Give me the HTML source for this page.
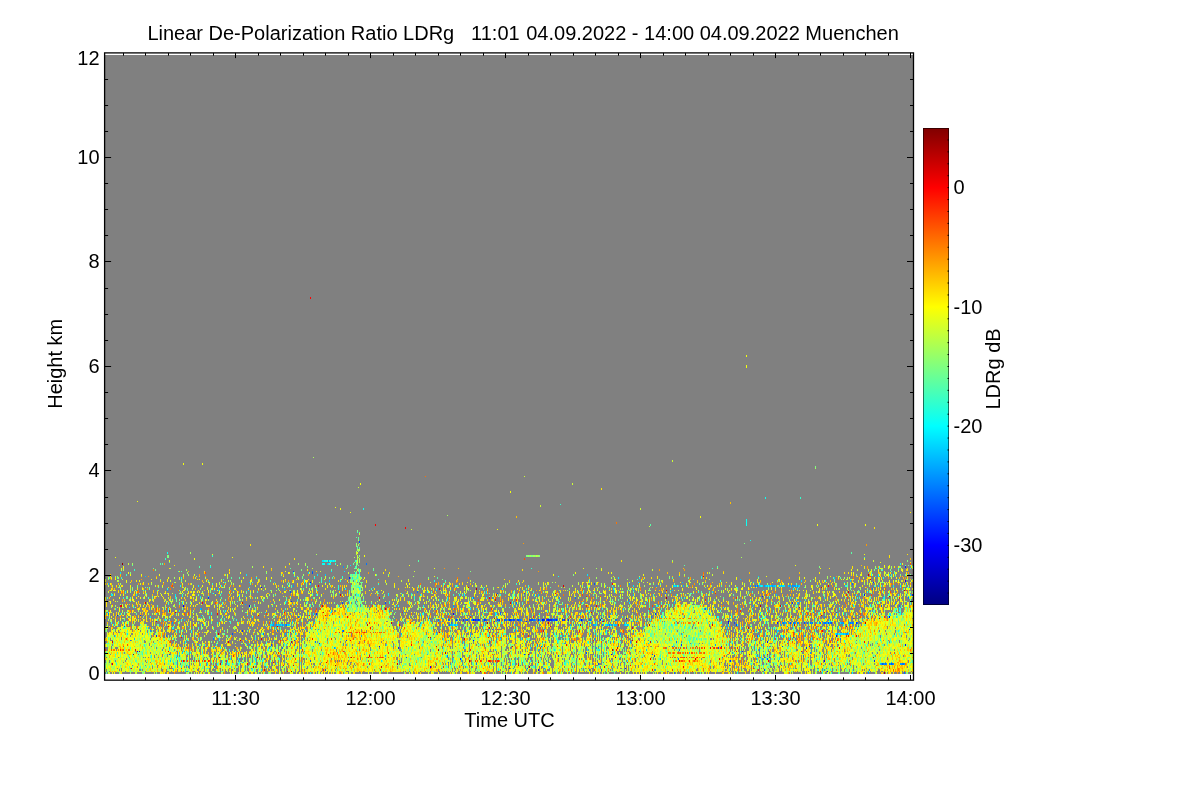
<!DOCTYPE html>
<html><head><meta charset="utf-8"><title>LDRg</title>
<style>
html,body{margin:0;padding:0;background:#fff;}
svg{display:block;will-change:transform;font-family:"Liberation Sans",sans-serif;font-size:20px;fill:#000;}
</style></head>
<body>
<svg width="1200" height="800" viewBox="0 0 1200 800">
<defs><linearGradient id="jet" x1="0" y1="1" x2="0" y2="0"><stop offset="0" stop-color="#000080"/><stop offset="0.125" stop-color="#0000ff"/><stop offset="0.375" stop-color="#00ffff"/><stop offset="0.625" stop-color="#ffff00"/><stop offset="0.875" stop-color="#ff0000"/><stop offset="1.0" stop-color="#800000"/></linearGradient></defs>
<rect x="0" y="0" width="1200" height="800" fill="#fff"/>
<rect x="105" y="55" width="808" height="619" fill="#808080"/>
<g id="data" shape-rendering="crispEdges" stroke-width="1" fill="none" transform="translate(0.5,0)">
<path stroke="#0000ff" d="M137 651v1m46-47v2m66-2v2m12-20v1m49-6v1m69 63v1m51 19v2m23-55v2m20 4v2m0 19v1m65 28v2m4-52v2m6-2v2m33-2v2m19-2v2m11 33v1m4 2v1m11-40v1m102 2v1m39 19v2m57 17v2m3 9v1m9-37v2m28-43v2m25 20v2m16-38v2m0 62v2"/>
<path stroke="#0026ff" d="M117 615v1m23-1v1m16 19v2m52-40v2m33 55v1m1-25v2m49-31v1m3 38v1m22-28v2m3 28v1m27-4v1m3-64v2m49 68v2m62 9v2m3-41v2m12-2v2m3-2v2m6-2v2m15-2v2m10-2v2m1-2v2m14 33v1m2-34v1m12-3v2m5-2v2m1-2v2m3-2v2m2-2v2m1-2v2m1-2v2m5-2v2m6-2v2m2-2v2m4-2v2m33-3v1m24 49v1m29-14v2m1-44v2m26 29v2m40 0v1m7-25v2m2 36v2m12-11v1m20-56v1m2 72v2m13-49v2m5 22v1m10-45v2m14 43v2m3-3v1m47-25v2m17-42v1m1 77v2m31-96v2m7 26v2"/>
<path stroke="#004dff" d="M124 626v1m45 27v1m63-22v2m39 9v2m19-55v2m3-22v1m17 88v2m2-90v2m13 95v2m17-69v2m1 26v2m16-91v2m26 59v2m21 53v1m42-39v2m8-2v2m3-2v2m8-2v2m7-2v2m2-2v2m1-2v2m2-2v2m6-2v2m12-28v1m0 25v2m3-9v1m4 6v2m5 47v1m2-50v2m2-2v2m1-2v2m3-2v2m1-2v2m6-28v1m3 74v1m2-50v2m1-2v2m1-2v2m1-2v2m9 25v1m5-28v2m6-2v2m1-2v2m1-2v2m1-2v2m3 34v2m28-5v2m8-71v2m4 78v2m3 4v2m1-50v1m50 32v1m66-8v2m11 16v1m5-44v2m2 0v2m28 31v1m3 0v2m2-3v1m21-36v2m3 13v1m11-16v2m24-2v2m3-2v2m5-12v1m17 5v1m5 7v1m23-22v2m1 56v2m9-2v2m18-36v1"/>
<path stroke="#0073ff" d="M108 613v2m22 25v1m36-6v2m47 1v2m1 26v2m1-75v1m23 2v1m25 36v2m14-5v2m5 15v2m4-25v2m12-10v2m14-47v1m3 69v2m51-80v2m51 26v2m21 26v2m9 34v2m1 5v1m1-44v2m0 3v2m2-4v2m4-5v2m2-2v2m8-2v2m1-2v2m6-2v2m1-24v2m1 38v1m2 25v2m8-55v2m2 7v2m3 20v2m3-14v1m6-11v2m2-8v2m5 4v2m1-2v2m2-2v2m2 14v2m2-18v2m4-19v2m3 15v2m1-2v2m13-2v2m1-2v2m3 23v2m12-9v1m8-19v2m6-2v2m12-24v2m7 20v2m7-2v2m0 48v2m1-52v2m9-2v2m2 8v1m8-14v2m0 6v2m6-7v2m1-2v2m12-22v2m23 15v2m14-25v1m7 52v1m2 25v2m2-33v2m2 15v2m1-11v2m26-43v2m17 47v1m33-73v2m2-2v2m0 48v2m26-15v2m10-2v2m1-2v2m3-2v2m6 31v2m4-35v2m3-2v2m2-2v2m1-12v1m7 9v2m4-2v2m1-2v2m3 20v2m2-24v2m10 14v2m10-18v2m2-41v2m0 37v2m5-2v2m11-6v1m4-31v2m11 73v2m2-2v2m4-2v2m3-2v2m7-60v2m3 56v2m1-2v2m1 7v2m4-77v2"/>
<path stroke="#0099ff" d="M150 630v2m12 17v2m5-61v1m5 31v2m1 5v1m3 27v1m12 8v2m13-60v2m0 5v1m1 8v2m17-30v1m4 19v2m11 33v1m0 16v1m11-65v1m28 19v2m3-2v2m6-2v2m3-2v2m8-41v2m0 45v1m16-1v1m19-73v2m1 53v1m5 31v2m8-19v2m1-66v2m18 67v2m67-19v1m6-11v2m2 22v1m17-28v2m15 11v1m3 0v2m11-17v1m1 14v2m3-25v1m6 0v2m16 39v2m5 28v1m2-32v1m6-19v2m14-2v2m4-2v2m2-2v2m3 47v1m15-72v2m2 33v1m4 10v1m14-25v2m1-2v2m3-9v1m6-1v1m2 6v2m2 3v2m1 12v2m2 7v2m6-25v2m8 11v1m1-14v2m9 7v2m9-52v2m1 56v2m3-13v2m3-11v1m8 4v1m9-20v1m2 61v2m1-86v2m53 26v2m6 29v2m6-20v1m38 22v2m1-32v2m4-36v2m4 53v1m4-56v2m10 35v2m2-2v2m5-39v2m3-2v2m1-2v2m1-2v2m1-2v2m0 35v2m2-39v2m1 15v2m0 18v2m4-6v1m8 33v2m1-32v2m8-2v2m4-17v1m0 14v2m1-8v2m2 4v2m11 9v2m4-13v2m1-2v2m1-2v2m3 9v2m1-2v2m2-13v2m2-2v2m2-2v2m15 48v2m1-5v2m12-8v2m3-2v2m2-2v2m4-2v2m3-2v2m2-63v2m5 59v2m1-2v2m3-2v2m1-33v1m1-50v2"/>
<path stroke="#00bfff" d="M108 583v2m0 33v1m12-6v2m14-8v1m0 30v2m2-50v1m9-15v1m3 50v2m16-10v2m5 26v2m1 11v2m3 7v2m9-19v2m2-35v2m16-13v2m0 8v1m12-26v1m6-6v3m6-9v1m3 77v2m6-72v1m16-9v1m6 69v2m7-3v1m7 2v1m3-31v2m1-4v2m1 16v1m4-17v2m1-2v2m0 25v1m1-28v2m3-2v2m1-38v2m1 43v2m1-34v1m2 22v2m4 0v1m13 2v1m3-58v2m5 30v1m12-31v2m2-13v2m2 15v2m2 30v1m15 31v2m32-56v1m7 64v2m16-24v2m2-23v1m24 41v1m9-65v1m3 8v2m3 17v1m3 22v2m3-30v2m2 9v2m1-2v2m1-2v2m2-2v2m1-2v2m2-2v2m4-18v2m0 50v2m9-29v4m6-29v2m19 39v2m2-25v1m17 3v2m2-28v1m1 25v2m17-38v2m3 50v1m1-53v2m0 53v2m17-55v1m15 27v2m10-13v2m14 9v2m1-2v2m12-2v2m1-2v2m5-39v1m0 53v2m1-19v2m1-2v2m1-2v2m3 7v2m5-11v2m3-2v2m6-36v1m0 3v2m10 31v2m3 20v2m2-8v1m11-26v1m1 39v2m1-44v2m4-2v2m5-28v1m2-1v1m1-6v2m1 15v2m2-19v2m3-11v1m3 5v1m1 2v2m6 65v2m4-47v1m39 35v1m4 22v2m4-89v1m10 5v2m3 18v2m3-22v2m2-11v1m1 8v2m1 25v1m3 45v2m2-75v2m2-2v2m2-2v2m2-2v2m2-2v2m1-2v2m2 7v2m2 34v2m1-47v2m1 37v2m1-41v2m4 35v2m3-39v2m1 35v2m1-39v2m3 81v1m4-67v2m1-19v2m2 14v1m4 33v2m8 10v2m13-2v2m2-27v2m2-2v2m5-47v2m2 54v2m7-2v2m2-2v2m5-55v2m9 14v1m9 74v1m10-87v2m2 76v2m10-50v1m1 46v1m17-67v1"/>
<path stroke="#00e5ff" d="M111 594v2m6 30v1m3-55v2m7 59v2m2-28v1m0 49v1m7-64v2m14 20v2m2 47v1m2-48v1m19 43v1m2-69v2m0 1v2m4 11v2m0 40v3m3 5v2m3 7v3m1-21v1m1-12v1m1-15v1m10-42v2m1 57v2m1-50v1m4 47v2m3 17v2m1-69v1m2-9v2m3 47v1m1-48v1m5 47v2m1-39v1m0 44v3m1-64v2m0 6v1m3 18v1m3 49v1m4 3v2m3-50v1m5 41v2m3 0v1m3-67v1m1-23v2m2 14v1m6 66v1m1 0v2m3-14v1m3 22v2m1-11v2m6-15v2m2-25v2m1-2v2m3-44v1m3 41v2m4-2v2m3 17v1m2 0v2m1-22v2m2-2v2m3-22v1m0 16v1m1 49v1m2-39v2m5 12v2m5-3v1m5-64v2m1 44v1m2-17v2m1 7v2m2-30v2m0 19v1m1-42v2m0 14v1m5-31v2m1-2v2m3 56v1m2-56v2m2-2v2m1 6v1m0 38v2m1-52v2m2-2v2m1 85v2m4-56v1m5-23v1m3 36v2m3-45v1m2 11v2m8-3v1m13 10v1m8 72v2m5-18v2m2-52v2m23-3v1m9 0v2m0 17v3m3-4v1m4-22v2m1 26v2m0 11v1m2-12v1m6 11v2m2-14v1m7 29v1m2-53v2m6 6v1m0 50v2m1 2v1m3-78v2m4 71v2m5-30v2m3-25v1m1 0v2m0 5v1m11-1v1m5-25v3m9 19v3m0 5v1m2-1v1m1 36v2m0 9v2m2-33v2m1-33v1m0 14v2m7 13v1m5-33v2m1 8v1m0 8v2m13-35v2m3 54v2m8-53v1m2 46v1m2 2v1m5-14v2m7 14v2m8-47v1m2 30v2m6-10v2m3 0v1m14-56v2m0 11v1m0 61v2m6 15v2m1-39v1m2-6v2m3 23v2m6-27v2m0 6v1m1-9v2m4-2v2m1-5v1m2-34v2m1 0v3m3 53v1m1-70v2m7 45v2m3-2v2m1-24v2m1 53v1m2-37v1m1-37v2m4 34v1m1-40v1m0 43v1m1-50v2m3 86v1m15-61v2m17-22v2m1-2v2m1 7v2m2-11v2m31 23v2m3-21v2m14 34v2m2-5v3m9-40v1m4 39v2m12-47v1m2 60v1m1 11v2m1 1v2m3-75v2m1 71v2m1-75v2m0 31v1m3-7v1m1-28v2m3 10v2m1-14v2m3 53v1m1-14v2m1-44v2m0 48v2m2-7v3m2 25v2m1-75v2m2-2v2m1-2v2m1-2v2m0 48v2m1-41v1m1 29v1m3 11v2m1-53v1m0 9v2m6-14v2m3-2v2m2-7v2m12 22v1m1 60v1m1-48v1m4-15v1m0 32v1m5-41v2m4 28v2m2-8v1m5-4v1m3 7v1m1 6v2m1-13v2m0 9v2m1-2v2m1-2v2m2-53v1m0 50v2m4-2v2m5-30v2m20 5v1m2-37v1m2 24v1m1-28v3m2 63v1m3-44v2m6-25v2m0 37v2m1-2v2m3-30v2m2-11v1m1 39v2m3-10v2m1-25v2m3 1v2m7 4v2"/>
<path stroke="#0dfff2" d="M108 612v1m4-19v2m1 28v2m2 9v2m8-10v2m2-38v2m19 51v2m2-53v1m0 33v2m5 26v2m3-14v1m3-54v1m8 28v2m2-69v2m0 34v2m1 14v1m0 3v4m1 37v2m4-24v2m0 39v1m3-14v2m0 5v1m2-6v1m2-73v2m1-10v2m0 87v2m1-72v1m0 5v2m0 31v2m1 12v3m2-11v2m2 22v1m1-12v1m0 16v1m3-40v1m9 30v3m2-15v3m5 11v1m0 2v1m1-57v1m2-47v2m1 45v2m3 32v2m2-14v2m0 7v2m0 25v1m1-68v1m0 17v2m0 39v2m5-61v1m0 57v1m3-53v2m2 51v2m2-44v1m0 27v2m1 7v2m8-2v2m0 3v2m1-71v2m0 66v1m7-23v1m1-26v1m2-29v1m0 55v1m0 2v1m1 16v2m2-49v2m0 50v3m1-16v2m2-19v2m0 20v2m0 1v2m1-88v2m2 89v1m5-70v2m0 57v2m2-48v1m0 52v1m3-17v2m7-24v2m4 29v2m6-58v2m3 29v2m4-13v2m2-48v1m0 69v1m1-10v3m9-60v3m5 33v2m5-41v2m8-16v2m1-2v2m1-5v2m0 1v2m1-5v2m0 20v1m1-23v2m3-2v2m1-2v2m0 50v1m1-53v2m2-2v2m5 26v2m0 15v2m4-31v1m3 11v2m4 12v2m6-32v2m1 19v1m0 7v1m1-26v1m1 10v1m0 6v2m1-9v3m4-82v2m4 111v1m14 49v1m7-79v1m7 11v2m3-2v2m3-14v1m7 27v1m6-25v2m6 25v2m1-4v2m1-11v2m1-10v3m11-28v2m9 30v1m0 11v2m0 12v2m1-28v1m2 42v2m0 8v1m1-69v2m3-9v1m0 36v2m1 37v2m2-44v2m0 12v2m1-25v1m1-31v2m1 37v2m3-32v2m4 45v2m1-50v3m0 51v2m1-36v2m3-8v1m1-6v2m2 64v1m1-72v2m5 52v1m5-19v2m1-47v2m0 36v1m1-5v2m4 11v2m1-8v1m1-9v1m5-10v1m1 0v2m1 23v2m4-5v2m1-49v2m10 7v2m0 3v2m0 59v2m2-71v2m2 33v1m5 8v2m6 22v1m1-76v1m2 72v2m4-66v1m3 57v3m0 6v3m2-53v2m0 7v2m6 44v1m8-51v1m1 14v2m2 0v2m1 3v3m1-67v1m0 25v2m0 36v1m4-33v2m0 33v1m2 18v3m4-32v2m0 27v1m5-42v1m0 29v1m0 19v1m8-60v1m0 11v2m2-35v2m1 33v1m2-17v2m2 29v2m2-21v2m2-6v1m1 32v1m1-12v1m0 14v2m3-8v2m1-39v1m0 44v1m1-12v1m0 19v2m2-28v1m1-22v2m0 36v1m2-9v2m2-21v2m5 30v1m2-39v2m1 26v2m6-19v2m3-29v2m3 14v2m1-25v1m0 19v1m0 38v2m3-4v2m14-17v1m1-42v2m1 14v1m8-23v1m0 65v1m8-51v1m3 53v2m4-64v1m2 19v2m3 12v2m8-7v2m2-38v2m0 27v1m12 11v2m5-64v1m13 30v1m0 7v1m3 0v2m1-2v2m3 3v1m2-15v1m8 8v2m2 34v2m2-36v1m2 5v2m0 46v2m3-66v2m0 41v1m5-48v1m0 32v1m1-119v7m4 14v1m0 60v1m1 24v1m0 36v2m2-44v1m0 25v2m2-19v2m0 9v2m0 11v1m1-6v2m1-19v1m1 2v2m0 18v2m1-74v2m0 31v2m1-17v1m0 11v2m1-30v2m0 43v2m0 25v1m0 7v1m1-28v2m1-50v1m0 27v1m0 46v1m1-48v1m0 35v1m1-158v2m0 117v2m0 4v2m0 9v2m0 17v2m1 4v2m2-75v2m1 21v2m4 28v2m3-3v3m3-33v1m0 49v1m0 7v1m2-61v2m0 28v2m1-2v2m3-33v1m1 5v2m7-24v2m0 34v2m0 1v2m2 11v1m1-42v2m1-13v2m1 43v2m8-27v2m2 53v2m3-27v2m6-18v2m4 5v1m1 41v3m3-94v2m3 22v1m1 14v2m1 48v2m2-16v3m3-54v1m0 28v2m2-20v1m1 11v2m0 4v2m1-27v2m4 3v2m0 9v2m0 39v1m1-26v1m1-56v2m3 37v2m2-47v1m2 92v2m2-47v2m1-30v2m1-7v2m6 25v1m5-31v2m3 12v2m1-33v2m12 1v2m1 17v3m4 17v2m1-19v2m5-29v2m2 34v2m0 25v2m1-25v1m1-45v1m0 25v2m0 34v2m1-22v2m1-49v2m0 47v3m1-8v1m5-1v1m0 14v2m2-37v1m2-23v1m0 2v1"/>
<path stroke="#33ffcc" d="M105 613v2m1 37v2m2-11v1m1-67v2m2 43v2m4-16v2m0 44v1m1 8v2m1-13v2m1-32v2m1-37v1m2-11v2m1 42v1m1-25v2m1 25v2m2-52v2m0 20v1m1 25v2m0 6v2m1 23v2m2-56v1m0 45v2m2-59v1m2-22v2m6 95v3m2-17v3m1-65v1m4-4v1m1 9v2m0 34v2m1 31v2m1-11v1m1-1v1m5-45v2m1 4v2m7 5v1m0 33v2m1-104v2m2 69v1m1 30v2m1-43v2m2 14v2m1-10v2m1 9v2m2-44v1m0 69v2m1-38v3m0 25v2m0 3v2m2-94v1m1 18v1m0 11v2m0 17v1m0 10v1m0 25v4m2-43v2m0 48v2m1-77v2m0 5v1m0 60v1m2-1v1m1-20v1m0 2v1m0 16v2m2-27v2m0 18v2m1 2v1m1-34v1m1 21v3m1-24v2m2-3v1m5-3v2m0 9v2m1 18v2m1-63v2m3 56v2m3 5v1m1-17v1m2-31v3m2 43v1m1-108v2m0 26v2m1 42v2m2 26v2m1-27v2m3 8v1m1-22v2m1 50v1m1-70v2m0 56v2m0 1v2m1-86v1m0 7v1m2 59v2m3 14v2m1-28v1m1-16v2m2 39v2m4-46v2m1-20v1m1 20v2m2 33v1m3-1v1m1 8v2m2-24v2m3-39v1m1 54v1m2-81v1m2 22v2m0 62v3m1-35v1m2-47v2m0 54v2m3 11v2m2-29v2m2 17v2m2-28v1m0 16v1m0 22v2m1-19v2m0 15v2m3-42v1m0 20v2m0 11v2m1-41v1m4-10v1m7 24v1m1-26v1m0 13v1m2-26v1m0 69v1m3-87v2m0 43v2m1-42v1m0 49v1m1-4v1m1-51v1m1 49v1m1-66v2m0 56v2m2-11v1m2-23v2m3 61v1m3-25v2m1-61v1m0 86v2m1-71v2m1-14v2m0 15v2m2 8v1m2-8v2m0 65v2m1-53v1m1-35v1m5 42v2m1 1v2m3-55v2m1 70v2m3-17v1m4-75v2m1 68v2m5-72v2m3 20v2m1 34v1m1-42v2m6 23v2m4-10v2m1-14v2m0 20v1m1-34v2m3-16v2m0 4v2m0 42v2m1-18v2m0 11v1m0 44v2m1-122v1m0 41v2m0 1v2m1 1v2m1-13v5m2 16v1m0 14v2m0 3v2m2-13v2m8-13v2m4 15v2m3-28v1m0 3v2m4 20v2m2 5v1m5-11v2m5 14v1m0 13v1m4-6v2m0 31v2m3-66v1m0 52v2m0 3v1m2-59v1m0 68v1m5-65v1m0 45v2m4-20v1m2-34v1m1 66v2m4-66v2m1 25v1m0 30v1m2-14v2m1-33v2m2 47v1m3-47v2m3 4v2m0 3v2m0 9v2m0 1v2m2 6v2m1-33v1m6 8v2m3-46v2m0 33v1m0 28v2m0 2v1m2-72v2m1 19v1m0 55v1m0 8v2m1 3v1m1-4v1m2-37v1m1 30v2m2-71v2m0 58v1m0 5v2m6-25v3m1-14v1m2-33v2m1 31v2m0 6v2m0 6v1m0 21v1m1-20v1m0 18v1m2 0v2m6-6v1m1 2v1m1-40v1m0 13v1m2 16v1m2-48v2m2 23v2m1-50v1m0 78v2m2-55v2m0 12v2m1-42v1m0 5v1m0 30v2m2-29v2m1 13v1m0 22v2m1-5v1m0 30v2m5-60v2m1 56v3m1-25v2m2-27v2m1 50v1m1-73v1m1-3v2m5-3v1m0 39v2m4 30v1m1-6v2m1 10v2m2-83v2m0 70v2m1-36v1m0 7v1m0 22v5m2-82v2m0 73v2m3-3v1m2 2v3m1-59v1m1 55v2m1-63v2m0 17v1m0 21v1m0 22v2m3-27v2m1-55v2m0 53v1m1-3v2m0 15v2m1-6v1m1-84v1m0 71v1m2-50v2m0 51v2m0 19v3m1-2v2m2-69v2m0 25v1m0 33v2m4-2v2m1-13v2m0 4v2m1-14v3m1 19v1m1-17v2m0 14v1m1-37v1m2-20v2m1 54v2m2-17v1m0 5v1m3-43v1m0 5v1m2 13v2m0 12v2m1-13v2m1-35v2m0 6v2m1 26v2m1 3v1m0 2v2m1-147v1m0 130v2m1-2v2m1-27v2m1-2v2m2 51v2m1-52v2m1-10v2m0 22v3m0 8v1m1-4v3m1 31v1m1-46v1m2 31v2m1 3v2m0 3v3m1-25v1m1 15v1m4-39v3m1 2v1m1 39v2m1-69v2m0 64v1m1-32v1m1 31v2m3-56v1m0 31v2m1-27v2m0 19v1m1-64v2m0 28v2m0 21v2m5-44v2m0 28v1m0 8v2m0 1v2m2-14v3m0 9v4m2 12v2m0 4v2m0 8v1m2-33v2m0 2v1m0 8v1m2-40v3m0 5v1m0 22v2m0 14v1m0 7v1m2-16v2m0 6v2m1-72v2m0 51v2m0 25v1m1-34v3m0 5v1m0 5v1m0 22v2m2-42v1m0 11v2m0 9v2m2-19v2m1-36v1m0 11v2m0 12v2m1-44v2m0 79v2m1-28v1m0 30v1m1-21v1m0 2v1m1-53v2m1 12v2m0 12v2m2 9v2m1-52v2m0 3v1m1 44v2m0 19v1m1-6v1m1-42v2m1 20v2m2-18v2m5 19v1m0 3v2m5-16v2m1-3v1m1-54v1m3 71v1m4-11v2m2-17v1m1-28v3m1 8v2m0 7v2m2-2v2m3-27v2m0 12v2m3-5v2m1 11v1m3-9v2m0 9v1m0 33v2m1-55v2m0 11v1m1 0v2m0 4v2m2-2v4m2-22v1m0 24v1m0 21v1m5-22v3m2 2v2m0 7v3m1-46v1m1-3v2m0 23v2m1-2v2m0 17v1m3-11v2m2-38v2m0 44v1m1-7v1m1 16v1m1-28v2m1-5v2m2-41v2m0 59v1m2-20v2m0 6v2m0 3v3m2-50v1m0 24v1m0 24v1m2-18v1m0 10v3m1-3v1m0 6v2m1-14v1m3-42v2m0 40v2m1-36v2m0 14v1m2-39v2m0 25v1m0 33v2m1-32v2m3-3v1m1-14v2m0 12v2m1 12v2m1-12v1m1 20v2m0 20v3m0 4v1m1-48v1m0 6v2m2-56v1m8 11v2m0 28v2m1 10v2m5 9v2m1-5v2m1 12v2m1 16v1m2-48v1m8 16v1m2 5v2m7-11v1m1 3v2m1 9v2m2-55v2m0 17v2m1 34v1m4 13v2m0 6v1m3-51v1m0 28v2m1 6v2m1-41v2m0 6v2m0 18v2m1 20v2m0 4v2m1-28v1m1 4v1m1 5v1m1-48v2m0 35v2m0 17v2m2-61v1m0 39v2m0 14v2m2-28v1m1 24v1m1-53v2m0 17v1m1 32v1m1-6v1m0 11v2m1-38v2m1-8v2m2-28v1m2 16v3m3 16v1m2-14v2m1 15v2m0 4v2m0 6v2m1-11v1m2 16v2m0 3v1m2-29v1m1-12v1m2 2v1m1-28v2m2-20v1m1 28v2m1-121v2m0 131v2m2-20v1m2-26v1m0 33v1m1-23v2m2 56v1m1 7v1m1-39v2m2-17v1m0 24v1m1 2v1m1-31v2m2 17v3m1 0v1m0 25v2m1-45v1m0 53v2m1-59v1m0 14v2m0 18v2m0 20v2m1-14v3m1-50v2m0 40v3m1-15v1m2-8v2m0 34v2m2-2v2m1-41v2m0 26v2m2 8v1m3 3v2m2-5v2m3-14v1m1-45v2m0 22v1m0 3v2m1 29v2m1-62v1m0 16v1m0 7v1m4-26v1m1 28v2m2-58v2m1 31v1m0 43v1m1-31v1m1-12v1m2 43v1m1-31v2m1-33v1m1 10v1m2 14v2m1-35v2m0 47v1m4-43v1m0 41v1m2-29v1m1-62v1m1 66v2m2 18v2m3-50v1m0 7v1m2 8v2m1-5v2m1-27v2m2-19v1m1 33v2m1 11v1m1-50v3m1 32v1m0 36v2m1-55v2m1-18v2m1 11v1m0 8v2m4 3v1m0 18v1m0 27v1m1-50v2m2 44v1m1-70v1m0 2v2m2 11v1m0 28v2m1-8v2m2 21v2m0 5v1m1-25v2m1-39v1m0 41v1m1-15v1m0 5v2m1-7v2m5-3v1m3 18v1m2-23v1m0 3v2"/>
<path stroke="#59ffa6" d="M105 666v2m1-25v1m0 18v1m0 9v2m1-77v2m0 72v1m1-35v3m1 12v2m2-61v1m2 47v3m2-22v2m0 31v2m0 5v1m2-86v2m2 36v1m1 49v1m4-53v2m0 3v3m0 6v2m0 18v2m1-23v1m2-30v2m0 13v1m0 3v2m0 36v1m2 11v2m1-71v2m0 70v2m1-9v1m1-98v1m0 21v1m0 66v1m0 11v2m1-63v3m2 52v2m1-49v2m0 45v2m1-10v2m2-22v1m0 35v1m2-18v1m0 17v2m1-8v2m1 6v1m1-35v1m0 8v1m1-57v1m0 56v2m1-25v2m0 26v2m0 12v2m1-8v3m1-33v2m1-44v2m2 17v1m0 52v2m1-65v2m0 28v2m1-61v1m1 78v2m1-16v2m0 8v1m0 13v1m1-26v1m0 16v2m1-46v2m0 17v2m1-39v1m0 36v2m2-63v2m1 92v1m0 2v2m1-99v2m1 73v2m0 12v2m1-8v1m0 8v2m0 5v1m1-55v2m0 47v1m1-39v2m1 47v1m1-67v2m0 59v2m1-103v1m1 95v2m1-11v2m0 7v2m1-45v1m0 44v2m1-25v1m0 13v1m1-70v1m0 41v2m0 31v1m1-18v1m0 21v1m1-64v2m0 12v2m0 4v2m3 1v2m0 6v2m0 3v2m0 20v1m2-87v1m0 8v2m0 83v1m1-58v2m0 20v2m0 33v1m1-23v1m1-7v1m1 27v1m1-14v2m1-64v1m0 72v2m1-13v2m0 11v1m2-64v2m2 8v1m3 49v1m1-26v1m1 11v2m1-57v2m0 26v2m1-58v2m0 50v1m0 38v1m3-59v2m0 56v1m0 4v1m0 3v3m1-9v2m0 3v1m1-8v2m1-50v2m0 10v2m1 44v4m2-92v2m0 86v1m3-57v1m0 9v2m0 36v2m3 3v1m1-34v1m2 8v2m0 22v1m1-4v1m1-8v2m1-63v2m1 1v2m0 64v3m1-59v1m1 2v2m1 6v3m0 9v2m0 1v2m1-53v1m2 52v2m2-44v1m0 60v1m0 8v3m1-45v1m0 13v2m1-60v2m1 23v2m1 15v2m4 45v2m1 4v2m1-97v2m0 17v1m3 46v1m1 14v2m1 9v2m1-59v1m0 30v1m0 18v1m1-72v2m0 19v1m1 17v2m1 34v2m1-39v1m1-37v1m0 13v1m0 50v2m0 8v1m1-22v2m0 20v2m2-11v2m1-15v2m0 9v2m0 3v2m1-68v2m0 9v2m0 19v1m0 5v2m3 23v2m0 7v2m0 1v2m1-22v2m2-5v2m0 3v1m2-23v1m0 11v2m0 14v2m1 1v3m0 6v2m1-11v2m1-24v2m0 19v1m4-83v2m0 8v1m0 36v2m1-7v2m0 22v3m0 8v1m1-53v2m0 51v2m2-58v2m0 11v3m0 31v2m0 18v2m1-77v2m1 39v2m0 25v3m0 6v1m1-28v2m1-19v2m0 28v1m1 2v2m1-41v3m0 3v2m1 22v1m1-65v1m1 22v2m0 31v1m1 0v2m0 6v2m1-46v2m0 52v1m1-66v2m1-16v2m1 50v2m0 21v2m2-92v1m1 16v2m0 26v2m0 31v1m1 8v2m2-53v1m0 32v1m1 6v2m0 11v1m1-25v2m0 12v2m1-73v1m0 83v2m2-8v3m1-42v1m1 5v1m0 33v2m1-81v1m0 66v1m1-56v2m0 9v2m1 48v2m0 1v2m2-71v2m0 33v1m1-18v1m1 11v2m0 7v2m1 41v1m2-48v1m0 8v2m1-36v3m0 31v2m0 18v2m1-52v2m3-11v2m0 29v2m1 8v1m1 8v2m1-35v2m0 37v2m1-2v2m1-69v3m0 2v1m2 71v1m4-95v2m1 79v2m3-74v2m1 6v2m0 54v2m0 11v1m1-71v1m1 50v2m1-69v2m0 53v1m0 11v2m2-25v1m1-18v1m1 34v2m3-47v2m0 37v2m0 15v2m2-11v2m1 3v1m1-29v1m0 24v3m1-19v2m1-15v2m0 9v4m0 9v1m0 11v2m0 19v1m1-65v4m0 7v1m0 8v2m1-38v2m0 23v2m1-22v1m0 16v3m0 5v3m1-28v1m0 22v3m0 3v2m1-47v2m0 14v1m1-1v3m0 12v8m1-34v1m0 5v2m0 3v1m0 2v1m0 2v2m0 17v1m1-68v1m0 22v2m0 4v2m0 9v2m0 8v1m0 8v3m0 3v2m0 1v2m0 1v2m1-64v3m0 38v1m0 6v3m0 50v4m1-113v2m0 45v2m0 9v1m1-65v1m0 14v2m0 47v1m0 2v2m1-14v3m0 3v1m0 8v2m1-22v1m0 18v1m0 2v1m0 49v1m1-51v1m1-9v1m1 19v2m1-3v1m1 36v3m0 3v4m1 1v2m1-58v1m2 44v2m0 9v2m1-63v2m1 11v1m1-47v2m0 33v1m2 41v1m1-73v2m0 31v1m1 41v2m1-58v1m3 43v1m0 31v2m1-45v3m1-32v2m5 11v2m0 6v1m1-18v1m0 11v2m1 4v2m1-8v2m0 31v1m0 8v2m1-47v2m3 0v1m0 16v1m1-33v2m1 23v2m1 8v1m4 32v3m1-74v2m0 22v1m1 3v2m1 39v2m1-57v2m1 11v1m0 10v1m1 16v2m1 7v2m0 8v3m2-77v2m0 55v1m1-5v2m4-8v2m1 15v2m1-100v2m0 23v3m0 70v2m1-3v1m1-31v2m1-5v2m0 18v3m1-7v3m1-5v3m2 19v2m0 3v1m1-31v2m1 10v2m0 2v1m1 0v2m1-55v2m0 21v2m0 20v2m2-55v2m0 36v1m0 7v1m1-8v2m1-28v1m1 21v1m1-9v1m0 16v2m1-49v2m1-13v2m1 64v1m2-12v1m0 19v2m0 8v3m1-44v1m0 36v2m1-27v2m0 22v1m0 10v1m1-84v2m0 53v1m0 8v2m1-44v1m0 46v1m1-64v2m0 69v1m1-14v2m1-11v1m0 25v2m1-42v1m1 13v3m0 14v3m1-31v1m0 5v2m1 21v2m0 5v1m0 2v1m2-67v2m0 18v2m0 13v1m0 27v1m1-3v2m1-64v1m0 58v2m1-41v1m0 5v2m0 37v2m3-11v1m1-17v2m0 9v2m2-3v1m1-39v2m0 7v2m0 27v1m0 11v2m1-60v2m0 17v2m1 20v3m1 14v2m1-21v3m0 8v2m0 9v2m2-67v1m0 24v1m0 31v2m1-53v1m1 46v1m0 2v1m0 11v2m1-8v2m1-83v1m0 18v1m0 61v2m5-52v2m0 29v2m0 16v1m0 3v2m1-47v1m0 15v1m2-17v1m0 10v1m0 32v1m1-48v1m1-7v1m1 13v1m0 3v2m1-16v2m0 9v2m0 36v1m1-56v3m1 20v2m0 27v1m1-45v1m0 46v3m1-72v1m1 22v2m2 19v1m1-22v2m2-20v1m0 38v1m0 2v3m2-11v2m1-15v2m0 9v2m3-2v2m1-13v2m0 38v1m0 2v1m0 2v1m1-36v2m0 25v2m1-32v2m0 1v2m1-28v1m1 47v2m3-50v1m0 35v1m1-7v1m0 6v2m1 6v3m0 16v1m1-78v2m0 5v1m0 58v2m0 3v1m1-70v1m0 10v1m0 21v1m1-40v1m2 36v2m1-11v1m2-37v1m0 82v1m2-29v1m0 25v2m1-63v2m1-14v1m0 63v1m0 7v1m1-22v2m0 19v1m2-75v2m0 48v2m0 25v1m0 2v1m1-61v2m0 5v1m0 33v2m0 18v2m2-64v1m2 47v2m0 9v2m1-53v1m0 38v1m4-8v4m0 15v2m2-64v1m1 11v2m0 39v1m2-11v2m0 13v1m1-61v2m1 62v2m1-71v2m2 36v2m0 20v1m1-46v1m0 47v2m0 1v2m2-49v3m0 47v2m1-81v1m0 33v1m0 27v2m3-4v4m1-5v1m0 15v1m1-9v1m0 16v1m1-42v2m0 5v1m1-30v4m0 10v2m0 14v2m0 31v3m1-75v3m1-1v1m0 20v2m0 16v1m2-3v2m0 7v2m0 16v1m0 6v2m2-34v1m0 2v1m1-11v2m1 25v3m0 2v1m0 2v1m1-31v2m0 20v2m1-55v1m0 46v1m1-40v1m0 47v2m3-3v1m0 3v2m1-53v1m0 41v1m1-50v2m1 14v2m0 18v2m0 3v2m0 4v5m0 3v2m3-41v2m0 9v2m0 21v2m1-69v2m0 12v2m0 22v1m1 21v1m1-3v2m1-4v2m1 9v2m1-70v1m0 11v2m0 61v1m1-1v1m1-6v2m1-65v2m0 61v2m1-21v2m2-64v1m0 2v1m0 4v1m0 41v3m1-11v1m1 24v1m2-53v2m1 14v2m0 34v1m2-50v2m0 2v1m0 6v2m1 56v2m1-16v2m1-47v1m1-7v1m0 14v2m1-25v1m0 38v1m1-20v2m0 31v1m0 4v3m0 11v1m1-44v2m0 39v2m1-21v2m0 6v2m0 18v2m1-22v2m3-3v1m0 2v1m1-67v2m0 32v2m0 14v2m2-5v2m0 23v2m2-35v2m1 43v2m1-3v1m1-59v2m2-16v2m0 37v2m0 20v2m1-5v1m1-4v1m1 0v2m2-66v2m1 67v2m1-13v2m0 1v2m0 8v3m1-25v1m0 14v3m1-68v1m0 63v1m2-65v1m0 35v1m1-9v1m0 30v2m1-63v2m0 67v1m1-39v2m1-33v2m0 1v2m1 56v2m3-47v1m1 27v1m3-37v1m0 5v2m1 28v1m0 33v2m1-89v1m0 74v1m1-17v2m1-18v4m0 37v2m3-52v2m0 17v1m0 4v1m1-48v1m0 14v2m0 23v2m0 5v1m1-114v2m0 96v2m0 9v4m1-4v4m0 3v3m1-6v1m1-17v1m1 19v2m1-28v1m0 11v2m0 1v2m1-28v1m2 16v1m0 4v3m1-50v1m0 78v2m1-77v2m0 34v2m0 30v1m0 2v1m1-47v2m1 5v1m0 24v1m0 16v1m1-46v3m0 12v2m0 9v2m1-36v1m0 21v3m0 29v2m1-52v2m0 31v2m1-13v2m0 26v2m1-39v1m0 21v1m0 10v3m1 6v2m1-60v2m0 19v3m0 1v2m0 19v1m1-61v2m0 47v1m0 22v3m1-29v1m0 2v1m1-64v2m0 25v3m0 17v3m1 0v2m1-10v2m0 39v2m1-41v3m1-2v2m0 5v3m1 14v1m0 2v2m1-39v1m0 16v1m0 11v2m1-11v1m1-9v3m0 19v1m1-21v1m0 2v1m0 16v1m1-42v2m0 14v1m0 13v2m1-27v2m0 4v2m0 12v2m0 23v2m1-92v1m1 64v2m1 37v2m1-59v1m0 16v1m1-53v2m0 34v2m0 12v2m0 6v2m0 3v1m0 28v2m1-64v3m0 3v2m0 11v1m0 11v2m0 26v2m1-75v1m0 11v2m0 19v1m0 2v1m0 8v2m1-24v2m0 19v1m0 6v2m1-50v1m0 43v1m1-62v1m0 13v1m0 46v1m1 2v1m1-40v3m0 17v2m0 7v2m0 8v1m3-39v3m0 27v2m0 7v2m1-63v2m0 31v2m0 20v2m1 32v2m1-83v2m0 34v2m0 3v1m0 7v1m1-9v1m1-23v3m0 13v1m2-40v1m0 50v2m1-21v2m1 8v1m1-29v1m0 35v1m1-47v2m0 50v1m1-31v2m0 50v1m2-48v1m2-3v3m0 3v2m0 6v2m2-8v2m1-60v2m0 103v1m1-62v2m2-5v1m0 14v2m1-39v2m2 10v2m1 47v1m1 0v2m1-9v1m2-23v1m0 24v1m1 24v3m1-25v1m1-6v2m1-2v2m1-49v2m2 25v1m2-34v2m0 9v2m0 14v1m0 22v2m0 6v1m0 24v1m3-35v1m2-3v2m1 3v1m1-15v1m0 27v1m1-31v2m2 14v1m1-48v1m1 8v2m0 9v2m0 29v3m2-39v2m1 3v2m0 36v1m1-11v2m0 8v1m2-23v1m0 36v2m1-21v2m0 5v1m0 2v1m2-21v1m0 16v1m1-73v1m2 49v1m0 4v1m0 16v1m0 5v2m2-13v2m1-8v1m0 19v2m1-60v2m0 14v1m0 13v2m0 25v1m0 6v2m2-50v3m0 6v2m1-6v3m0 1v2m0 3v2m0 17v1m0 3v2m0 11v1m1-76v1m0 68v1m1-11v2m1-55v2m0 23v2m0 25v1m0 3v2m2-19v2m1-41v2m0 17v1m0 18v1m1-54v1m0 16v1m0 36v2m0 12v2m0 6v2m1-2v2m1-85v2m0 34v2m0 39v3m2-45v1m1 13v1m1 33v2m1-28v1m3-28v2m0 9v1m0 18v1m0 16v1m1-54v1m1 49v1m0 8v2m1-68v2m0 36v2m1-30v1m0 19v2m0 8v1m1-34v1m0 7v1m0 36v3m1 19v1m1-53v2m0 26v2m2-11v2m1-33v1m0 2v2m0 18v2m1-49v2m1 75v2m2-18v2m3-33v2m2-2v2m1 12v3m0 28v2m3-45v1m0 50v2m1-46v2m1 41v1m1-33v2m1 9v3m0 19v2m1-63v2m0 14v1m0 29v1m0 10v1m1-5v2m1-41v2m0 19v1m0 3v5m2-8v2m0 6v2m1-38v2m0 20v2m0 3v1m1-29v3m1 48v2m1-46v2m0 22v1m0 25v2m1-44v2m1-35v2m0 72v1m1-50v2m0 17v2m0 25v1m2-78v2m0 48v2m1 28v1m1-17v2m0 6v2m1-41v1m2-1v1m0 36v2m2-83v2m1 0v3m0 67v3m0 10v1m1-47v2m0 9v2m2 29v2m0 8v1m1-23v1m0 4v1m0 17v2m2-94v2m2 67v1m3 16v2m1-52v3m0 53v2m1-88v4m0 71v4m2 0v1m0 9v2m1-67v1m0 4v1m0 25v2m0 4v2m1-94v2m0 98v2m0 3v1m0 8v2m1 1v3m1-37v2m1 12v2m0 18v2m1-30v2m0 11v1m1-18v1m1-11v2m0 18v2m0 11v2m1-72v1m0 66v1m1-67v2m0 4v2m0 41v1m1 2v1m1-34v2m0 6v1m0 41v3m1-14v2m0 3v3m1-63v2m0 55v3m0 3v1m1-34v2m0 11v1m0 14v2m1-49v2m0 23v2m0 12v2m2 0v1m1-76v1m0 35v1m0 46v1m1-65v1m1 6v2m0 13v1m0 3v2m0 40v2m1-88v2m0 19v1m0 16v2m2 43v2m1-47v2m0 43v2m0 11v1m1-26v1m1-3v3m2-26v1m0 13v1m1-25v2m0 25v2m0 9v3m1 0v2m0 6v1m1-42v2m0 23v2m2-44v2m0 43v2m1-47v2m3 40v2m0 1v2m1-31v1m1-23v3m0 47v1m1-6v2m0 1v2m1-67v1m0 64v2m2-30v2m0 20v3m0 16v1m2-58v2m0 9v5m1-1v1m0 17v2m3-17v1m0 17v2m0 17v2m1-67v1m0 22v2m1-7v2m1 6v2m0 1v2m1-5v2m0 31v1m2-82v1m0 8v2m0 9v2m1 14v1m0 8v2m1-38v2m0 18v2m0 50v1m1-39v2m1 11v1m1-23v2m0 1v2m0 58v1m2-97v2m0 92v3"/>
<path stroke="#80ff80" d="M105 612v1m0 17v2m0 22v3m0 6v3m0 2v1m1-42v5m0 5v1m1-28v2m0 31v4m1-68v1m0 61v2m0 3v1m0 15v1m2-44v2m0 16v1m0 22v2m1-18v2m0 20v2m1-31v1m0 9v2m1-20v1m0 8v2m0 4v2m0 22v1m1-11v4m1-86v1m0 60v1m0 20v2m1 2v1m0 2v1m1-23v1m0 27v1m1-26v1m1-40v1m0 25v2m0 5v1m0 16v1m0 10v1m0 3v2m1-86v2m0 14v1m0 47v2m0 1v2m0 9v2m1-28v1m0 2v1m0 16v2m0 3v1m1-54v1m1 39v2m0 3v1m1-57v1m0 10v1m0 36v2m1-58v1m0 33v2m1-32v2m0 13v1m0 20v2m1-14v1m1 24v1m0 10v1m1 0v2m1-88v2m1 97v1m1-48v2m0 29v2m1-30v2m0 36v1m1-45v1m0 46v1m2-40v1m0 32v1m1-78v2m0 53v1m0 5v1m0 8v2m1-6v3m1-61v1m0 44v2m0 9v2m0 1v2m0 1v3m0 5v2m1-41v2m0 1v2m0 14v1m0 10v1m1-29v1m0 25v3m1-18v4m0 8v2m0 4v2m0 11v1m0 3v2m1-77v2m0 17v2m0 31v3m0 11v5m0 4v2m1-70v1m0 19v2m0 9v2m0 20v1m0 11v2m1-84v1m0 6v2m0 11v1m0 22v5m0 11v1m0 5v2m1-10v2m0 3v2m0 3v1m1 14v2m1-3v1m2-36v4m0 3v1m0 14v2m1-25v1m0 25v2m1-64v1m0 33v2m0 12v2m1 5v1m0 8v2m1-16v1m0 13v2m0 4v2m1-99v2m0 81v2m0 9v2m1-19v1m0 25v2m1-44v2m0 15v2m1-31v1m0 39v2m1-19v2m0 9v3m1-76v1m0 41v1m0 25v2m1-16v4m0 21v2m2 8v1m1-31v2m0 4v2m1-39v1m0 24v1m0 21v1m1-54v1m0 39v2m1-88v3m0 66v2m0 40v2m1-113v3m0 54v1m0 25v2m0 14v1m0 7v1m0 5v1m1-53v2m0 11v1m0 8v3m0 24v1m0 5v1m1-73v2m0 46v2m1 5v1m0 2v1m1-11v2m1 9v4m1-19v1m0 7v1m0 2v3m0 1v2m0 3v2m1-28v1m0 11v2m0 4v2m0 3v2m0 1v3m1-69v2m0 2v1m0 38v1m0 19v2m2-13v2m0 4v2m0 1v2m0 8v1m1-76v1m0 10v1m0 41v1m0 18v1m1-9v3m0 2v1m0 2v1m1-3v2m1-36v1m0 33v2m1-78v1m0 5v1m0 52v1m1 18v1m0 5v1m1-84v2m0 50v1m0 25v2m1-36v1m0 29v1m0 5v1m1-81v2m0 62v2m0 3v1m0 14v2m1-34v1m2-25v2m0 11v1m0 5v2m1 25v1m1-20v1m1 2v3m0 6v5m0 2v1m1-23v1m0 27v1m1-37v1m0 2v2m0 3v1m0 13v1m0 3v4m1-19v1m1 3v2m0 9v2m1-42v1m0 32v1m1-5v2m0 6v2m1-69v2m0 54v2m1-19v3m0 8v2m0 14v1m0 13v3m1-56v1m0 33v2m0 3v1m1-39v2m0 50v1m1-51v1m0 53v2m1-50v2m0 31v1m1-32v1m0 27v1m2-42v2m0 40v2m0 14v1m1-15v1m1-93v1m0 25v2m1 28v1m0 19v2m0 23v2m1-24v2m0 1v2m0 14v2m1-72v1m0 60v3m1-2v2m0 3v3m2-30v2m0 8v1m1-9v2m0 17v1m0 2v3m1-34v1m0 36v3m1-76v1m0 46v1m0 14v2m0 15v2m1-13v2m1-42v3m0 36v1m1 8v2m0 3v1m1-39v2m1 20v3m0 4v1m1-89v2m0 23v2m0 65v2m1-19v2m0 7v2m1-30v2m0 33v1m2-78v2m0 36v1m0 24v1m0 5v1m1-3v3m1 10v1m1-61v2m0 6v3m0 46v1m1-17v2m0 12v2m0 1v2m1-41v3m0 30v2m1-11v1m0 11v2m0 4v2m3-14v1m0 4v1m0 2v1m1-12v3m0 6v2m1-66v2m1 61v1m0 5v1m3-6v2m0 7v2m2-81v1m0 64v2m0 6v2m0 3v3m2-55v2m1 26v2m1-66v2m0 20v2m0 22v1m0 35v1m1-6v2m1-36v1m0 17v2m1 11v1m0 7v1m1-62v1m0 63v1m1-48v1m0 22v2m2 3v2m0 9v2m1-83v1m1 75v2m1-6v1m0 3v2m1-24v2m2 0v2m1-52v2m2-15v2m1 23v2m0 52v1m0 10v1m0 2v1m1-31v2m0 35v2m1-80v2m1 53v2m0 11v1m2-8v2m1-63v2m0 45v2m0 22v1m2-17v2m0 1v2m1-8v3m0 5v1m1-8v2m0 9v2m1-72v2m0 68v2m1-14v1m0 2v2m1-36v1m0 13v1m0 41v1m1-98v2m0 90v2m1-47v1m1 40v1m0 6v2m1-34v1m0 27v3m1-47v1m0 25v2m0 11v2m1-13v2m2-69v1m0 54v3m0 1v2m1-60v2m0 45v2m0 6v2m0 12v2m1-64v1m0 5v1m0 41v5m0 15v2m0 6v2m1-36v1m0 7v1m0 16v1m1 10v3m2-81v1m0 44v2m0 10v2m1 6v2m0 8v1m1-56v2m0 43v2m0 12v2m1-64v1m0 21v1m0 22v2m1 8v1m0 3v2m1-53v1m1 30v1m0 16v2m1-96v2m0 17v2m0 64v1m1-78v2m0 76v2m1-3v1m0 5v2m1-18v2m0 17v2m1-21v2m0 8v1m1-18v1m0 16v3m1-91v2m0 34v2m0 33v1m1-47v2m0 64v1m2-54v1m0 8v2m0 29v2m0 3v2m0 4v2m1-69v2m0 56v3m1-47v2m0 20v2m0 20v1m1-42v2m0 40v2m1-73v1m0 70v2m1-30v2m0 23v2m0 19v1m1-45v1m0 13v2m0 6v1m1-50v2m0 22v1m0 18v1m0 14v3m1-34v1m0 10v1m0 7v4m0 14v2m0 11v1m1-46v4m0 30v2m1-61v1m0 30v1m0 10v1m0 2v1m0 4v3m0 11v1m1-70v1m0 27v2m0 4v3m0 10v3m1-38v2m0 16v1m0 27v3m0 3v2m1-10v2m0 12v2m2-33v2m0 4v2m0 22v1m1-26v1m2-3v2m0 3v1m1-67v2m0 40v2m0 39v2m1-100v1m0 22v2m0 3v1m0 22v2m0 15v3m0 2v2m1-10v2m1-5v2m0 9v2m0 10v2m1-58v5m0 34v2m1-30v2m0 25v3m1-16v2m0 23v2m1-21v2m0 45v3m2-65v1m0 25v2m0 2v1m0 14v2m1-28v1m1-48v1m0 47v3m0 8v2m1-2v2m1-25v1m0 28v2m0 23v2m1-31v1m1 31v2m1-47v2m1-22v1m1-43v3m0 33v1m0 13v1m0 50v2m1-86v1m0 16v2m0 18v2m0 34v2m1-58v2m0 3v3m0 37v3m0 10v3m1-81v1m0 25v2m0 1v2m1-36v5m0 1v2m0 6v3m1-15v1m0 3v2m0 6v2m0 6v6m0 8v2m0 6v3m1-47v2m0 1v2m0 4v2m0 17v2m0 65v2m1-103v1m0 5v5m0 6v2m0 4v2m0 9v3m1-25v2m0 6v2m0 15v2m1-64v1m0 2v1m0 16v3m0 6v2m0 5v1m0 3v4m0 3v1m0 19v2m0 4v2m0 36v1m1-125v2m0 31v2m0 15v2m0 3v2m0 15v3m0 2v3m1-73v1m0 13v1m0 5v1m0 7v1m0 2v4m0 2v6m0 2v1m0 21v3m1-64v1m0 11v2m0 17v2m0 3v1m0 21v1m0 5v5m1-30v1m0 2v2m0 10v5m0 5v1m0 16v3m1-44v2m0 36v1m0 33v2m1-75v1m0 22v3m0 11v2m1-14v3m1 5v1m0 44v2m1-60v2m0 3v1m0 14v2m2-12v1m0 6v2m0 14v2m1-22v3m1-8v2m1 48v2m1-13v2m1-39v1m0 14v2m1-61v1m0 83v2m0 17v1m1-54v3m0 11v1m2-7v1m1-36v3m2 36v2m1-25v1m0 19v2m1-8v1m0 13v2m1-29v2m0 20v2m0 28v2m1-54v4m0 10v2m0 5v1m1-36v2m1 16v1m1 25v2m0 14v1m1-47v2m0 16v1m0 3v2m1-58v2m0 40v2m1 0v1m1 3v4m0 25v1m1-22v2m1-13v2m0 25v1m1 4v1m1-19v2m0 5v1m0 3v2m1-8v3m0 8v2m1-52v2m0 43v2m0 19v1m1-20v1m0 2v2m0 4v2m1-14v1m0 18v4m2-15v1m0 14v2m1-47v1m0 13v2m0 15v2m0 3v1m0 5v2m2-46v3m0 30v2m0 14v1m1-45v2m0 23v5m0 6v2m0 1v2m0 7v2m1-17v1m1-36v2m0 16v1m0 2v1m0 14v2m0 3v2m1-14v1m0 17v2m1-69v2m0 53v1m1-43v1m0 44v2m1-60v2m0 14v1m0 27v1m0 16v2m1-16v2m0 4v2m0 1v2m0 2v1m1-69v2m0 28v2m0 29v2m1-27v2m0 31v2m0 1v3m1-70v2m0 23v2m0 1v3m0 19v2m0 4v2m0 3v2m1-60v2m0 45v2m0 7v2m1-17v1m1-18v1m0 30v1m1-68v1m0 17v2m0 20v2m0 28v2m1-65v2m0 3v2m1-19v3m0 20v2m0 6v2m0 40v4m1-68v2m0 42v3m0 11v2m1-66v2m0 31v3m0 19v1m0 5v5m0 6v2m0 7v2m1-39v3m0 8v1m0 2v1m0 7v3m1-36v1m0 15v1m0 14v2m1-19v5m0 9v2m1-21v2m1-20v1m0 24v3m0 9v2m0 1v2m1-77v2m0 72v1m1-25v2m1 17v1m0 7v1m0 3v2m1-67v1m1 13v1m0 18v3m0 12v3m0 3v2m0 2v1m1-33v2m0 3v2m0 11v3m0 31v1m1-31v3m0 7v4m1-58v2m0 34v2m0 6v2m0 1v2m0 5v1m0 3v2m1-50v1m0 33v3m1-28v2m0 26v2m1 6v2m0 6v2m1-15v4m1-49v2m0 43v2m1-41v2m0 16v1m0 10v1m0 19v1m0 8v2m1-89v1m0 75v2m0 8v3m1-77v2m0 8v1m0 39v2m0 22v1m1-83v2m0 23v2m0 33v1m0 24v1m1-67v2m0 51v2m0 3v2m0 3v3m1-8v2m1-75v1m0 66v1m2-72v4m0 56v1m0 11v2m1-24v2m0 17v2m0 15v2m1-41v2m0 22v1m2-22v2m0 16v1m0 19v1m1-37v2m0 23v2m0 7v2m0 1v2m2-83v2m0 19v1m1 22v3m0 6v2m0 9v2m0 9v2m1-75v1m0 55v3m0 3v2m0 5v1m1-28v2m0 15v5m0 12v2m1-78v1m0 21v1m0 2v1m0 21v1m0 3v2m0 8v3m0 5v1m1-50v2m0 28v1m1 0v2m0 19v1m1-37v1m1-4v1m1-31v1m0 46v3m0 8v1m1-59v1m0 29v1m0 2v1m0 11v2m0 1v2m1-41v2m0 30v1m0 16v1m1-65v1m0 35v4m0 5v2m0 14v3m0 15v2m2-100v1m1 29v1m0 50v2m0 1v2m1-28v1m0 7v3m0 11v1m1-45v1m0 10v1m0 19v2m1-5v2m0 21v2m1-75v2m0 14v1m0 24v1m0 11v2m1-16v2m0 25v1m0 17v2m1-47v2m0 12v2m0 3v1m0 10v1m0 2v1m0 7v1m0 3v2m1-50v1m0 2v3m0 13v1m0 24v1m1-33v4m0 7v2m0 23v2m1-41v2m0 19v1m1-44v2m1 6v2m0 28v1m0 15v1m2-72v2m0 50v1m1 25v3m1-48v2m0 17v4m0 10v1m1-15v1m0 2v1m0 16v2m1-43v2m0 9v2m0 5v1m0 21v1m1-70v1m0 50v2m0 3v2m1-24v2m0 9v2m0 28v1m1-36v2m1 8v1m0 8v2m1-67v1m0 5v1m0 49v1m0 21v1m1-34v1m0 25v2m1-36v2m0 45v1m1-64v2m0 39v2m1 7v2m1-48v1m1-19v2m0 26v2m0 8v1m1 25v2m0 2v1m0 2v1m1-25v3m0 14v4m1-52v2m0 51v2m0 1v2m1-50v1m0 2v1m0 22v2m0 6v2m0 3v1m0 4v3m1-3v1m0 5v3m0 1v2m1-27v2m1 5v1m1-20v2m0 14v1m0 5v1m1-14v2m1-25v1m0 11v2m0 28v2m1-69v1m1 0v2m0 50v3m1-56v1m0 47v2m0 16v1m1-70v1m0 63v1m0 2v2m1-60v2m0 53v1m0 7v1m2-40v1m0 10v1m0 16v1m0 2v1m2-64v2m1 6v2m0 34v2m0 23v2m2-44v1m0 36v2m1-20v1m1-47v2m0 11v1m0 49v3m0 6v2m0 1v2m1-81v1m0 42v2m0 11v1m0 8v2m0 3v2m1-16v1m0 5v2m0 9v2m1-110v2m1-2v2m0 36v1m0 71v1m1-3v2m1-110v2m1 105v1m1-108v2m0 33v1m1-36v2m0 98v2m0 1v2m0 6v2m1-64v1m0 25v2m0 26v2m1-27v2m0 16v3m0 8v1m0 5v1m1-114v2m1 101v2m0 8v1m2-6v2m1-110v2m0 51v2m0 11v1m0 40v1m1-5v2m1-39v1m0 30v3m1-15v1m0 21v1m1-76v1m0 3v2m0 9v2m1 26v2m0 9v2m0 8v1m0 17v2m1-67v1m0 28v4m0 1v2m0 15v2m1-20v1m0 3v2m1-17v1m0 19v1m0 15v1m0 2v1m1 2v1m1-31v2m0 9v2m0 20v1m2-40v1m0 4v1m1 0v2m1 6v1m1-15v1m0 2v2m0 6v1m0 3v2m0 2v1m1-47v2m0 40v2m0 16v1m1-64v2m0 20v2m1-14v1m0 52v1m1-23v1m1-54v1m0 24v1m1-12v1m0 27v1m0 19v2m0 12v2m1 3v1m1-70v2m1 9v2m0 40v2m0 1v2m1-22v2m0 9v2m0 18v2m1 0v1m1-56v2m0 14v1m0 21v1m0 7v1m1-73v1m0 25v2m0 17v2m0 15v2m0 6v3m0 5v3m1-27v2m1-58v2m0 20v2m0 39v1m0 3v2m0 11v1m1-40v1m0 27v1m1-32v1m0 2v1m0 30v2m1-52v2m0 31v1m0 21v1m1-92v2m0 73v2m0 9v2m1-58v1m0 28v2m0 2v1m0 13v1m0 2v1m0 5v2m0 9v1m1-12v2m1-27v2m1 23v2m0 1v2m1-61v1m0 47v2m0 9v2m0 3v1m1-73v1m0 21v1m0 8v2m0 23v2m1-27v2m1-25v1m0 41v1m0 4v1m1-67v2m0 17v1m1 19v2m0 20v3m0 3v2m0 12v2m1-50v1m1 5v2m1 28v1m0 8v2m0 4v2m1-86v2m0 12v2m0 15v2m0 1v2m0 8v3m0 11v1m1-34v2m0 9v1m0 41v2m1-52v2m0 12v2m0 3v1m0 18v1m1-37v1m0 47v2m1-50v1m0 25v2m0 4v2m2-2v2m1-56v1m0 53v4m0 3v1m2-73v1m0 19v2m0 45v2m1-4v2m0 19v3m1-27v2m0 5v1m0 2v1m0 7v1m1-70v1m0 32v1m0 17v2m0 22v1m1-40v1m0 5v2m0 7v2m0 25v1m1-39v2m1-9v1m0 2v1m0 11v5m0 1v2m0 11v2m1-49v2m0 26v2m1-33v3m0 33v1m0 4v1m0 8v2m1-8v1m0 11v3m1-62v3m0 12v2m0 20v2m0 22v1m0 2v1m1-29v1m0 7v1m1 5v1m0 8v2m1-3v1m1-40v1m1 14v2m0 8v1m0 17v2m1-72v3m0 16v1m0 16v2m0 14v1m0 19v1m1-25v2m0 3v3m0 13v1m1-54v1m0 6v2m0 36v2m1 3v1m2-9v1m0 2v2m1-77v2m0 53v1m0 14v2m0 5v1m1-9v3m1-20v1m0 5v1m0 3v2m1-58v2m0 8v1m0 47v2m1-63v2m0 7v2m0 6v2m0 62v2m1-34v1m0 11v2m0 1v2m0 14v1m2-22v2m1-5v2m0 12v2m2-64v1m0 11v2m0 23v2m0 27v1m1-36v2m0 3v1m0 32v1m0 2v3m1-52v2m1 30v1m0 3v2m0 6v2m1-18v2m1 14v2m0 4v2m1-74v2m0 16v1m0 21v3m0 15v3m1-39v2m0 6v2m0 23v2m0 14v1m1-26v1m0 13v1m2-70v2m0 1v2m0 44v1m0 6v2m1 14v2m1-65v2m0 33v1m0 16v2m1-47v1m0 32v1m0 17v3m0 11v2m2-16v2m1-52v2m1 6v2m0 17v5m3-7v2m0 6v2m0 22v1m1-66v2m0 33v1m0 8v2m1-60v2m0 5v1m0 38v1m1 0v2m0 33v1m1-42v2m0 1v2m0 1v5m0 22v3m1-77v2m0 14v2m0 32v4m0 25v1m0 5v1m1-51v1m0 5v2m0 14v1m1-9v1m0 2v2m0 4v2m0 22v1m1-31v3m2-16v4m0 3v1m0 2v1m0 7v1m0 17v2m0 3v2m0 1v2m1-13v2m0 8v1m0 2v1m1-37v1m0 8v3m0 8v2m0 17v1m1-68v1m0 30v2m0 26v2m1-52v2m0 17v1m0 13v1m0 8v2m0 14v1m1-57v1m0 2v1m0 11v2m1 6v2m1-14v1m0 22v2m0 17v1m1-68v1m0 22v3m0 22v2m0 6v1m1-54v1m0 30v2m0 14v1m0 17v2m1-58v2m0 11v1m0 6v4m0 9v1m0 15v1m1-86v2m0 33v1m0 16v1m0 3v2m0 6v2m1-6v3m0 20v2m1-50v1m0 9v2m0 2v1m0 11v2m0 25v1m1-47v2m0 6v2m1-10v2m0 5v1m0 10v1m0 20v2m0 11v1m1-89v2m0 48v2m0 2v1m0 5v3m0 23v2m1-52v2m0 8v1m0 7v1m1-33v5m0 8v1m0 19v3m0 13v1m1-70v2m0 10v2m0 25v2m0 3v1m0 2v1m0 2v2m0 7v2m0 12v2m0 2v1m1-30v2m0 2v1m0 2v1m0 2v1m1-17v2m0 6v2m0 1v2m1-47v1m0 21v1m0 6v2m0 9v2m1-30v2m0 14v1m0 8v3m1-34v2m0 14v1m0 8v2m0 12v2m0 1v2m0 11v1m1-51v1m0 7v1m0 16v1m1 2v1m0 19v2m0 1v2m1-63v2m0 30v3m0 8v3m0 23v2m2-50v1m0 16v1m0 5v6m0 3v2m1-34v3m0 8v1m0 2v1m0 2v1m0 4v3m0 9v2m0 3v1m0 16v1m1-78v2m0 28v2m0 11v1m0 5v1m0 2v1m0 2v2m0 17v1m1-75v2m0 11v1m0 11v2m0 9v2m0 5v1m1-36v2m0 15v2m0 1v2m0 3v3m1-20v2m0 12v2m0 3v1m0 11v3m0 2v1m0 2v2m1-46v2m0 1v2m0 31v2m1-41v2m0 11v1m0 11v3m0 8v2m0 9v3m0 20v2m1-39v2m0 3v1m0 13v1m1-39v2m0 9v2m0 8v1m0 9v2m1-44v2m0 3v2m0 15v3m0 8v3m0 2v1m1-26v1m0 11v3m0 4v1m0 5v1m0 7v3m1-57v2m0 6v2m0 20v2m0 4v2m1-19v3m0 2v1m0 11v2m0 16v1m0 17v2m1-77v2m0 30v1m0 6v2m1-52v2m0 9v2m0 17v2m0 7v2m0 9v2m0 11v1m1-48v2m0 7v2m0 9v2m0 6v5m0 6v2m1-2v2m0 20v2m1-80v1m0 58v3m1-37v1m0 13v1m0 10v3m0 3v2m1-30v2m0 7v2m0 36v1m1-59v2m0 12v2m0 28v1m0 19v2m1-33v1m0 8v2m0 1v2m0 1v2m1-25v2m0 6v1m0 18v1m0 11v2m1-53v1m0 5v1m1 2v1m1 15v1m1-39v3m0 19v1m0 7v1m0 2v1m0 21v1m1-4v1m0 6v2m1-39v3m0 2v1m1 27v1m0 7v1m0 6v2m1-53v3m0 33v1m1-4v1m1-56v1m0 40v1m1-48v1m0 39v2m0 12v2m0 12v2m1-44v2m1-2v2m1 22v1m1-17v2m0 17v1m0 7v3m1-13v3m1-37v1m0 5v2m0 17v1m0 5v2m0 3v1m0 2v1m0 8v2m1-17v1m0 8v2m1-66v2m2 26v2m0 3v1m0 21v1m0 2v1m0 7v3m0 6v2m1-11v1m1-26v1m1-12v1m0 14v2m0 12v2m2-59v1m0 19v1m0 8v2m0 25v1m0 8v2m1-13v2m2-44v2m0 29v2m1 8v1m0 5v1m0 5v2m1-22v1m0 8v2m1-13v2m0 37v2m2-128v1m0 58v2m1-8v1m0 2v2m0 40v2m0 4v2m2-55v2m1-5v2m0 61v1m2-73v1m0 77v2m0 1v2m1-41v2m0 23v2m1-44v1m0 10v1m0 21v1m0 2v1m0 2v1m0 13v3m1-62v1m0 36v3m1-47v2m0 70v2m1-36v1m0 11v2m0 3v2m0 17v1m1-65v1m0 41v1m1-7v1m1-64v2m0 87v2m1-5v2m1-68v2m1 20v2m0 17v2m0 1v2m0 20v2m1-53v1m1 28v2m0 9v2m1-38v2m1-5v2m0 4v2m0 11v1m0 16v2m0 3v1m0 5v2m0 1v2m0 3v1m2-73v1m0 52v3m0 11v2m1-78v1m0 67v3m0 5v2m0 1v2m1-31v1m0 28v2m1-24v2m0 17v2m1-47v1m0 21v1m0 3v5m1-12v1m0 5v1m0 22v2m1-56v1m0 14v2m0 8v1m0 16v1m0 7v1m1-22v2m1-16v3m0 10v1m0 13v1m0 13v1m1-29v1m0 13v3m0 5v1m0 3v2m2-83v2m0 29v2m0 1v2m0 25v1m0 2v2m1-43v2m0 44v1m0 8v2m1-58v1m1 25v2m0 5v1m1 24v1m1-56v2m0 31v1m1 24v1m1-18v1m1-8v3m0 4v1m0 17v2m2-64v1m0 10v1m0 28v2m0 3v3m1-22v2m0 11v1m0 4v1m0 19v1m1-32v1m0 21v1m1-26v3m1-36v1m0 13v1m0 35v1m1-47v2m0 16v1m0 24v1m1-22v2m0 19v1m0 14v2m1-63v2m0 22v1m0 19v3m0 10v1m1-59v1m0 58v2m1-60v2m0 25v1m1-9v3m0 19v3m0 9v2m0 3v2m0 3v1m1-57v1m0 13v1m0 16v1m0 2v3m0 3v2m0 1v2m0 6v2m0 6v1m1-57v1m0 6v2m0 25v2m1 1v2m1-57v2m1 64v2m1-53v1m0 20v2m0 33v1m1-48v1m0 16v2m1-35v2m0 31v2m0 20v2m1-44v1m0 5v2m0 7v2m0 23v2m1-50v2m1 6v1m1-39v2m0 67v2m0 15v3m2-64v2m0 58v1m1-87v1m0 61v2m1-38v2m0 37v2m0 14v2m1-196v2m0 153v1m0 10v1m0 19v2m0 1v2m0 11v1m0 2v1m1-87v2m0 46v2m0 37v2m1-34v1m0 10v1m0 6v2m0 6v2m1-83v2m0 35v2m0 22v1m1-81v2m0 87v2m1-2v2m0 5v1m1-39v2m0 11v1m0 3v2m1-33v2m1-21v2m0 8v1m0 44v1m0 19v2m2-55v2m1 39v1m0 5v3m1-56v1m0 54v1m0 6v2m0 1v2m1-50v2m0 25v1m0 13v1m1-65v1m0 31v2m0 16v1m0 2v1m1 13v1m1-17v3m0 5v2m1-41v1m0 44v2m1-36v1m0 29v1m1 0v2m0 3v1m1-84v2m0 42v1m0 16v3m0 13v1m0 3v2m0 1v2m1-86v2m0 23v2m0 12v2m0 32v2m1-38v2m0 19v1m0 22v2m1-92v1m0 11v2m0 9v2m0 57v2m0 3v2m0 1v3m1-62v1m0 13v1m1 36v2m2 3v2m1 1v2m2-71v2m0 45v2m0 16v1m1-3v3m0 3v3m0 2v1m1-7v1m0 3v2m1-77v2m0 67v2m0 3v1m0 2v1m2-87v2m0 1v2m0 20v2m0 25v1m0 9v2m0 9v2m1-81v1m0 7v1m0 2v1m0 63v1m1-3v2m1-2v2m1-63v2m0 12v2m0 6v2m0 11v1m1-42v2m0 45v1m0 10v1m0 13v1m1-84v2m0 75v1m0 5v1m0 11v2m1-47v3m0 10v1m0 20v2m0 8v1m1-65v1m0 22v2m1-5v3m0 3v2m0 9v2m0 6v3m1-23v1m0 11v2m0 11v1m0 5v2m0 6v1m1-11v2m0 3v2m1-66v2m0 46v2m0 16v1m1-73v1m0 39v2m0 23v4m1-19v3m0 8v1m0 8v2m1-33v3m0 11v3m0 22v1m1-23v3m0 8v2m0 4v2m1-92v1m0 5v1m0 5v2m0 25v1m0 27v1m0 27v1m1-62v2m0 21v2m0 2v1m1-47v2m0 4v5m0 63v1m1-51v1m1-9v1m0 35v3m0 1v2m0 9v2m0 8v1m1-87v1m0 22v2m0 25v3m0 33v1m1-68v1m0 3v2m0 40v2m0 5v1m0 16v1m1-103v2m0 11v1m0 18v1m0 10v1m0 22v5m0 4v3m1-79v1m0 16v2m0 54v2m0 3v1m0 2v2m0 7v2m0 9v2m1-20v3m1-44v2m0 6v1m0 21v3m1-63v2m0 8v1m0 11v2m0 26v2m0 3v2m0 1v2m0 20v2m1-33v1m0 7v1m0 24v3m1-13v2m0 4v4m1-93v2m0 11v1m0 50v4m0 25v1m1-64v2m0 15v2m0 26v2m0 1v2m1-3v1m0 15v1m1-53v2m0 23v2m0 20v1m1-9v2m1-22v1m0 8v2m1 0v1m2-50v2m0 19v1m0 6v2m0 8v1m1-61v2m0 5v1m0 53v2m0 17v2m1 4v2m1-22v2m1-19v1m0 41v2m1-54v2m0 25v2m1-57v2m0 70v2m1-39v1m0 6v2m0 2v1m1-12v1m1-47v2m0 42v2m0 4v2m0 1v4m0 6v3m0 5v1m0 8v2m1-85v2m0 61v3m0 3v2m1-71v2m0 6v2m0 79v2m1-38v2m0 11v3m0 5v3m0 1v2m1-56v1m0 27v1m0 14v2m1-17v1m0 8v2m0 15v2m1-16v2m1-39v1m1-15v1m0 2v1m0 25v2m0 11v1m0 2v2m0 7v2m0 37v2m1-114v2m0 25v1m0 38v1m0 17v2m0 12v2m1-95v1m0 44v2m0 25v1m0 19v1m1-67v2m0 37v2m0 14v3m0 3v2m0 3v1m0 7v1m0 5v1m1-98v2m0 48v3m0 20v2m0 19v1m1-72v2m0 36v2m0 17v1m0 5v3m1-84v1m0 11v2m0 58v1"/>
<path stroke="#a6ff59" d="M105 652v2m1-44v2m0 14v1m0 24v1m0 3v2m0 3v2m0 1v2m1-41v2m0 25v1m0 5v1m0 7v3m1-21v2m0 9v2m0 3v2m0 3v4m1-56v3m0 18v3m0 3v3m0 17v2m1-44v1m0 40v1m1-58v3m0 4v1m0 8v1m0 13v2m0 28v1m0 3v2m1-86v2m0 51v2m0 28v1m1-39v2m0 3v2m0 9v1m0 19v2m1-39v3m0 33v6m1-66v2m0 17v2m0 12v2m0 1v3m1-15v1m0 28v2m1-84v1m0 24v1m0 22v2m0 11v1m0 6v2m0 8v1m0 3v2m1-83v2m0 1v2m0 30v1m0 16v1m0 7v1m0 24v1m1-78v2m0 40v2m0 9v2m0 31v1m1-89v2m0 42v2m0 1v2m0 9v2m0 11v1m0 2v1m0 10v1m1-28v2m1-25v1m0 3v2m0 11v2m0 9v1m1-78v2m0 67v2m0 20v2m1-11v1m0 6v2m0 6v3m1-32v1m0 14v2m0 9v2m0 4v2m1-44v2m0 3v1m0 2v2m0 3v3m0 17v2m0 9v1m1-82v1m0 19v2m0 20v1m0 2v2m0 4v2m0 4v2m0 6v2m0 1v2m0 6v3m1-32v1m0 2v1m0 10v1m1 16v4m1-84v2m0 1v2m0 23v2m0 31v2m0 9v2m0 9v3m1-16v2m0 3v2m1-102v2m0 23v2m0 51v2m0 17v2m0 7v3m1-56v2m0 6v2m0 3v1m0 22v2m0 1v2m0 5v1m1-41v2m0 2v1m0 10v1m0 2v3m0 8v3m0 4v2m0 9v2m1-59v1m0 27v1m0 5v1m0 5v2m0 4v2m0 11v1m1-42v2m0 8v1m0 2v1m0 14v2m1-73v1m0 50v2m0 3v1m0 18v3m0 4v3m1-62v2m0 23v2m0 4v2m0 12v2m1-31v3m0 4v4m0 7v3m0 11v2m0 5v1m1-15v3m0 1v5m0 3v2m1-36v1m0 8v2m0 22v1m0 8v1m1-31v2m0 8v1m0 5v6m1-42v1m0 19v2m0 1v3m0 15v1m1-9v1m0 11v3m0 2v1m1-43v1m0 8v3m0 3v2m0 3v3m0 14v3m1-73v1m0 46v1m0 7v1m1-23v1m0 16v3m0 14v3m1-53v2m0 14v1m0 2v1m0 2v2m0 4v2m0 6v2m0 18v2m1-30v2m0 6v3m0 11v3m1-34v1m0 4v1m0 8v3m0 17v2m0 3v1m1-89v2m0 23v2m0 39v2m0 3v1m1-56v2m0 12v2m0 22v1m0 5v1m0 5v2m1-7v2m0 6v2m1-14v1m0 3v2m0 16v3m0 4v2m1-20v1m0 2v1m0 14v2m1-52v2m0 19v1m0 2v1m0 11v2m1-24v4m0 7v2m0 6v2m0 1v2m0 6v2m1-80v2m0 39v1m0 24v1m0 2v1m0 7v1m0 5v3m1-2v2m1-30v2m0 1v2m0 11v1m0 13v1m1-45v2m0 22v1m1-65v1m0 53v2m0 23v2m1-28v1m0 3v3m0 4v1m0 14v2m1-21v2m0 3v2m0 4v2m1-61v2m0 4v2m0 11v1m0 36v2m0 5v1m1-47v2m0 4v2m0 19v1m0 5v2m0 3v3m1-39v1m0 30v2m0 12v2m0 4v2m1-14v1m0 11v2m1-14v1m0 2v2m0 1v2m0 4v2m1-103v1m0 86v2m0 5v1m1-62v3m0 51v2m1-58v2m0 50v1m1-47v2m0 42v2m1-74v2m0 26v2m0 37v2m0 16v1m1-25v2m0 14v1m0 2v1m0 10v1m1-20v2m1-24v2m0 28v1m1-7v1m0 11v2m1-66v2m1-10v2m0 62v2m1-78v1m0 41v1m0 8v2m0 20v2m0 3v3m2-86v2m0 25v1m0 2v1m0 10v1m0 39v2m0 5v3m1-30v2m0 10v2m0 5v1m0 8v2m1-71v2m0 30v1m0 2v1m0 30v2m1-93v2m0 31v2m0 50v1m1-83v2m0 19v1m0 75v2m1-97v2m0 45v1m0 46v3m1 0v1m1-120v2m0 101v2m1-74v2m0 80v1m0 5v3m2-64v2m0 14v1m0 8v2m0 15v3m0 11v2m0 1v2m1-16v2m0 12v2m1-45v1m0 14v2m0 14v1m1-82v1m0 19v1m0 16v2m0 17v3m0 9v2m1-31v1m1 3v2m0 8v1m0 24v1m0 11v2m2-56v1m0 27v1m0 25v2m0 4v2m1-56v3m0 3v2m0 11v1m0 11v2m1-60v2m0 34v2m0 18v2m0 6v2m0 1v2m0 3v2m1-71v2m0 48v2m0 16v3m0 1v2m1-36v1m1-56v2m1 42v1m0 36v4m1-50v1m0 44v1m0 8v2m2-22v1m1-57v1m1 11v2m0 14v1m1 46v1m0 5v1m1-23v2m0 1v2m0 3v1m0 13v1m1-9v2m1-3v1m1-11v2m1-53v1m0 14v2m0 6v2m0 11v1m0 5v1m0 27v1m1-35v1m0 16v1m1-72v2m0 23v2m1 19v1m1-51v1m0 88v1m1-54v1m0 5v1m0 11v2m0 20v2m0 11v1m1-11v2m0 9v3m1-20v2m0 6v2m1-4v2m0 2v1m1-28v2m0 29v2m1-91v2m0 58v1m0 20v2m0 9v2m1-33v2m0 28v1m1-7v1m1-83v2m1 1v2m0 8v1m0 69v2m2-82v2m1 17v2m0 4v2m0 56v2m0 1v2m1-58v3m0 11v2m0 33v1m1 3v2m1-8v3m1-14v3m1-14v2m0 31v1m1-10v1m1-81v1m0 36v2m0 26v2m0 23v2m1-67v1m0 2v2m0 10v2m0 36v2m1 6v1m1-4v1m0 2v1m1 2v3m1-14v2m0 7v2m1-24v2m2 16v3m0 3v1m1-75v2m0 52v1m0 8v2m1-25v1m0 20v2m0 2v1m1-97v2m0 97v3m0 3v1m1-40v1m0 18v1m0 2v1m0 3v2m1-28v1m1-26v1m0 2v2m0 39v1m0 10v1m0 5v4m1-18v3m1-24v2m0 16v1m1 2v1m1-43v1m0 41v1m0 7v3m1-7v2m0 5v1m0 2v4m1-60v1m0 24v1m0 3v2m0 20v2m0 3v1m1-11v2m1-70v1m0 10v1m0 52v1m1-40v1m0 39v2m2-35v2m0 20v2m0 17v2m2-32v2m0 9v2m0 5v1m1 20v2m1-9v1m0 6v2m1-84v1m0 64v2m0 14v1m1-54v1m0 30v2m0 6v1m1-42v2m1 29v2m1-36v2m0 14v1m0 8v2m0 17v1m1-68v1m0 24v1m1-6v2m0 34v1m0 16v2m2-44v1m0 44v2m1-55v2m0 15v2m0 40v2m1-53v1m0 16v2m0 1v2m0 25v1m1-23v1m0 8v2m1-61v1m0 50v2m0 3v2m1-67v1m0 16v1m0 41v1m1-3v2m0 11v1m1-59v2m0 40v2m1-31v1m0 3v2m0 3v1m0 13v2m0 4v2m0 1v2m0 12v2m0 5v1m1-40v1m0 30v1m1-59v2m0 36v1m0 11v2m1-44v1m0 16v2m0 21v4m0 6v1m0 10v1m1-39v2m0 11v1m0 24v1m1-45v2m0 7v4m0 12v2m0 14v3m1-78v1m0 49v1m0 16v1m0 10v1m1-45v2m0 4v2m0 6v2m0 23v3m1-42v3m0 41v1m1-15v1m0 11v2m1-67v1m0 60v1m1-100v2m0 12v2m0 15v3m0 25v2m0 28v2m0 6v2m0 6v1m2-29v1m0 13v1m1-70v2m0 62v2m2-77v2m0 64v1m0 3v2m0 1v2m0 13v1m0 2v3m1-28v1m0 5v1m0 7v1m1-92v3m0 46v1m0 28v3m0 11v3m1-59v2m0 4v2m0 17v2m0 12v2m0 6v1m0 19v2m0 1v2m1-64v1m0 16v2m0 29v3m1-32v1m0 8v3m0 3v2m0 1v2m0 12v2m0 6v2m1-80v2m0 15v2m0 15v2m0 5v3m0 1v4m0 12v2m0 7v2m1-50v3m0 33v1m0 21v1m1-62v1m0 41v2m0 1v5m0 12v2m1-41v2m0 33v3m1-211v1m0 179v1m0 11v2m0 3v4m0 7v1m1-69v2m0 42v3m1-12v3m0 11v1m0 13v3m1-109v1m0 44v2m0 28v1m0 7v1m0 11v3m1-25v2m0 9v3m0 2v1m0 7v1m0 11v3m0 2v1m1-56v2m0 9v2m0 11v1m0 9v4m0 3v1m0 5v3m1-81v1m0 50v2m0 17v2m0 1v5m1-53v1m0 54v1m1-41v2m0 9v5m0 13v1m0 2v1m0 3v2m1-42v1m0 5v2m0 1v3m0 17v2m0 2v1m0 5v1m1-9v2m1-14v1m1-14v2m0 3v3m0 31v2m1-39v1m0 5v1m0 8v2m0 22v3m1-44v5m0 17v1m1-25v4m0 11v1m1-14v2m0 9v2m0 12v2m0 7v2m0 2v3m0 3v1m1-78v2m0 36v1m0 39v3m1-78v2m0 26v2m0 2v1m0 10v1m0 30v1m1-78v2m0 22v1m0 10v3m0 8v1m1-48v1m0 44v3m0 5v1m0 14v2m1-38v2m0 11v2m0 3v3m1-6v1m0 2v1m1-47v2m0 11v1m0 2v2m0 9v1m0 4v1m0 8v2m0 29v2m0 4v2m1-67v1m0 24v1m0 4v1m1-22v2m0 8v1m0 5v1m0 2v2m0 1v2m0 9v3m0 14v5m1-64v1m0 11v2m0 12v2m0 34v2m1-108v2m0 53v1m0 7v1m1-14v3m0 10v1m1-6v1m0 21v1m0 8v2m0 9v2m0 3v1m1-34v3m0 3v2m0 28v1m1-67v2m0 19v1m0 42v3m1-70v2m0 4v4m0 6v6m0 27v1m1-39v2m1-8v1m0 14v2m0 6v2m0 33v1m0 2v1m1-64v2m0 59v2m1-61v1m0 33v3m1-68v1m0 3v2m0 25v1m0 2v2m0 32v3m1-65v1m0 4v1m0 11v3m0 8v2m0 9v1m0 49v1m1-87v3m0 2v6m0 28v3m0 5v1m1-57v1m0 5v1m0 2v3m0 5v3m0 3v3m0 3v2m0 5v1m0 11v2m0 28v1m0 7v1m0 5v1m1-112v1m0 4v1m0 8v1m0 15v1m0 2v1m0 2v1m0 11v3m0 2v2m0 26v2m0 4v2m1-70v3m0 4v2m0 2v1m0 3v3m0 5v2m0 6v1m0 7v1m0 3v2m0 20v2m0 1v3m1-103v2m0 5v1m0 2v1m0 7v1m0 5v1m0 2v1m0 2v2m0 6v1m0 5v2m0 1v2m0 22v1m0 30v1m0 19v2m1-119v2m0 7v2m0 19v1m0 11v3m0 3v2m0 11v2m0 48v2m1-122v1m0 3v2m0 3v2m0 32v2m0 12v4m0 1v2m0 11v1m0 2v1m1-70v2m0 9v3m0 13v1m0 3v2m0 3v2m0 3v1m0 2v3m0 1v2m0 6v2m0 8v3m0 4v2m1-55v2m0 6v2m0 11v3m0 20v2m0 4v2m0 26v5m1-75v2m0 6v3m0 8v1m0 5v2m0 3v3m0 2v4m0 22v2m0 26v2m1-80v3m0 3v2m0 5v1m0 6v2m0 6v2m0 3v1m0 2v3m0 33v2m1-65v2m0 6v2m0 3v2m0 1v2m0 51v2m1-60v2m0 16v1m0 2v1m0 16v1m0 10v3m1-50v2m0 9v1m0 2v2m0 21v2m0 16v1m1-59v1m0 7v1m0 8v2m0 37v2m1-57v4m0 6v1m0 7v1m0 10v1m0 6v2m0 9v2m0 1v2m0 8v3m1-58v2m0 50v3m1-52v2m0 47v1m1-29v1m0 16v1m0 3v2m0 5v1m1-11v2m0 1v4m1-52v2m0 9v1m0 10v1m0 16v2m0 1v2m1-19v2m0 14v1m0 3v2m0 1v2m0 2v1m0 5v1m1-64v2m0 22v3m0 17v3m0 6v4m0 4v2m1-44v2m0 3v1m0 14v2m0 8v1m0 5v3m0 3v2m1-21v4m0 6v1m1-57v1m0 33v2m0 3v1m0 14v2m1-53v1m0 21v1m0 19v1m0 21v1m1-40v1m0 11v2m0 15v2m0 5v1m0 3v2m1-52v2m0 8v3m1-16v3m1-12v1m0 11v2m0 1v4m0 3v1m0 2v3m1-30v3m0 11v3m0 4v3m0 6v2m1-41v1m0 13v2m0 9v1m0 8v2m0 6v2m0 11v1m0 3v2m0 11v3m1-89v1m0 33v2m0 6v3m0 19v3m0 2v1m0 5v1m1-42v2m0 11v3m0 8v1m0 14v3m1-40v1m0 5v2m0 6v1m0 36v2m0 1v2m1-55v2m0 8v1m0 8v2m0 1v2m0 19v1m1-48v1m0 5v1m0 27v2m0 1v2m0 11v1m1-40v1m0 6v2m0 9v2m0 6v2m0 8v1m0 2v1m1-25v2m0 1v2m0 8v1m0 5v2m0 6v1m1-62v1m0 13v1m0 29v1m1-36v2m1-5v2m0 15v2m0 28v2m0 3v1m1-40v1m0 33v3m1-30v2m0 6v2m0 11v1m1-61v2m0 42v2m0 12v2m0 11v1m1-28v2m0 6v1m1 10v1m0 8v2m1-30v2m0 12v2m0 4v4m1-33v1m0 39v2m1-52v2m0 14v2m0 15v2m0 4v2m0 8v1m1-18v1m0 10v3m1-52v2m0 31v3m0 5v1m0 3v2m0 8v1m0 2v1m1-14v4m0 3v1m1-42v5m0 9v2m0 12v3m1-22v2m0 17v2m0 6v3m0 2v1m0 5v1m1-78v2m0 42v2m0 12v2m0 4v7m1-32v4m0 15v5m0 5v1m1-22v2m0 9v2m0 8v1m0 3v2m0 1v3m1-65v1m0 16v2m0 6v1m0 2v2m0 9v3m0 23v2m1-69v2m0 9v2m0 9v2m0 17v1m0 21v3m1-95v1m0 38v1m0 5v1m0 5v3m0 13v1m0 7v1m0 5v3m1-20v1m0 2v1m0 8v2m1-16v2m0 3v3m0 11v1m0 4v1m1-41v2m0 5v1m1-22v2m0 11v3m0 13v3m0 1v3m0 2v3m0 11v3m1-62v1m0 55v1m0 4v1m0 2v1m1-59v1m0 21v3m0 1v2m0 16v3m0 9v2m0 1v2m1-61v1m0 25v2m0 3v2m0 1v2m0 19v1m1-37v1m0 24v1m0 2v3m0 1v2m0 5v3m1-36v1m0 21v6m0 3v2m1-50v1m0 19v3m0 6v2m0 11v1m1-51v1m0 11v2m0 6v2m0 6v2m0 10v2m1-59v1m0 30v1m0 18v1m0 10v1m0 11v2m1-53v1m0 11v2m0 14v1m0 3v2m0 5v1m0 5v1m0 4v1m1-73v1m0 5v1m0 38v2m0 3v1m0 28v2m1-80v2m0 33v1m0 14v2m1-30v2m0 6v1m0 2v2m0 17v1m0 10v1m0 13v3m1-45v3m0 3v1m0 8v5m0 9v3m1-23v2m0 10v4m0 3v1m0 3v2m1-36v2m0 7v4m0 9v1m0 2v2m0 14v1m0 5v1m1-84v2m0 22v1m0 27v1m0 3v2m0 5v1m1-30v4m0 1v2m0 26v2m1-38v2m0 22v1m0 2v1m0 10v1m0 2v2m0 9v1m1-73v2m0 7v2m0 19v1m0 8v2m0 22v1m1-17v1m1-51v1m0 16v2m0 25v3m0 8v1m0 10v1m1-25v3m0 5v1m0 4v1m0 11v2m1-49v2m0 12v2m0 9v2m0 3v1m0 7v1m0 16v1m1-81v3m0 18v1m0 30v1m0 5v3m0 8v2m1-63v2m0 39v1m0 28v2m1-25v1m0 11v2m0 11v1m1-62v2m0 6v1m0 28v4m0 6v1m0 8v2m0 1v2m1-28v1m0 10v1m0 13v1m1-70v2m0 6v1m0 36v2m0 1v2m0 13v1m0 5v3m1-156v1m0 125v3m0 25v2m1-25v1m0 22v2m1-63v2m1 5v1m0 3v2m0 5v1m0 27v1m0 2v1m0 10v1m1-22v4m0 4v2m0 5v1m1 0v2m1-47v1m0 21v1m0 2v3m0 3v2m0 1v2m0 9v2m0 1v2m1-69v2m0 20v1m0 15v1m0 9v2m0 2v1m0 2v3m0 8v1m1-79v1m0 61v2m0 11v1m1-78v2m0 53v3m0 20v3m1-39v2m0 9v2m0 7v2m0 3v2m0 3v1m0 2v2m0 3v1m1-48v1m0 25v2m0 1v2m0 3v3m0 3v2m1-28v1m0 16v2m1-54v2m0 5v1m0 42v2m0 8v1m0 13v1m1-23v2m0 17v1m1-47v2m0 6v3m0 35v1m1-54v1m0 17v2m0 11v1m0 5v2m0 6v3m1-61v2m0 8v1m0 24v1m1-1v1m0 27v1m1-53v2m0 9v2m0 20v1m0 21v1m1-65v1m0 8v2m0 14v1m0 10v1m0 27v1m1-72v4m0 21v2m0 16v1m0 8v2m0 4v2m2-3v1m1-11v2m0 3v3m0 20v2m1-53v1m0 13v2m0 3v3m0 6v2m0 7v2m1 0v3m0 5v4m1-56v2m0 25v1m0 3v4m0 1v3m0 5v2m1-47v1m0 21v1m0 8v3m0 13v4m1-17v2m0 1v2m0 17v1m1-57v1m0 28v2m0 3v2m0 4v2m1-19v2m0 7v2m0 11v2m0 6v3m1-81v1m0 56v5m1-23v1m0 17v2m1-56v1m0 16v2m0 4v2m1-21v2m0 33v1m0 2v2m0 1v3m0 2v1m0 16v2m1-30v1m0 2v2m0 26v2m1-36v1m0 21v1m0 10v1m1-37v1m0 13v1m1-3v3m0 14v2m2-19v2m0 6v1m0 10v1m1-56v3m0 41v1m0 21v1m1-34v2m0 3v1m1 17v2m0 6v3m1-73v1m0 18v1m0 14v2m0 5v1m0 3v2m0 15v2m1-72v2m0 9v2m0 6v1m0 33v2m1-14v1m0 22v2m0 3v1m1-26v1m0 13v1m0 10v3m0 3v3m0 6v2m1-52v4m0 31v1m1-64v2m0 31v2m0 11v1m0 27v1m1-23v1m0 8v2m0 9v2m1-38v2m0 22v1m0 3v2m0 2v3m0 3v3m1-56v1m0 11v2m0 34v2m0 6v1m1-67v2m0 6v2m0 29v2m1 1v4m0 1v2m0 15v2m1-86v2m0 21v2m0 3v2m0 25v1m0 8v2m0 4v2m0 11v1m0 3v2m1-42v1m0 8v3m0 3v2m0 2v3m0 1v3m0 7v1m1-83v2m0 2v1m0 3v2m0 37v2m0 6v2m0 3v1m0 10v1m1-11v2m0 11v1m0 8v2m1-85v2m0 73v4m1-38v2m0 15v2m0 3v1m0 13v2m1-80v1m0 66v2m0 6v1m1-61v2m0 44v1m0 2v1m0 11v2m1-23v1m0 6v2m1-42v1m0 11v2m0 33v1m0 3v2m0 11v1m1-25v3m0 15v1m0 2v3m1-33v2m0 10v2m0 5v3m1-47v2m0 42v1m0 11v2m1-63v2m0 33v1m0 8v5m0 1v2m1 6v2m1-69v1m0 44v3m0 11v2m0 12v5m1-25v5m0 1v2m0 1v2m0 2v1m1-6v1m0 8v2m1-61v1m0 18v1m0 16v1m0 3v2m0 3v2m0 11v1m1-58v2m0 47v1m1-46v1m0 31v2m0 22v1m0 2v3m1-61v2m0 34v2m0 6v3m0 11v1m1-42v2m0 23v2m0 3v3m1-69v2m0 1v2m0 16v1m0 50v2m1-41v2m0 37v2m1-113v2m0 81v2m1-11v1m1-75v2m0 50v1m0 58v2m1-27v2m0 1v2m1-25v1m0 13v2m0 31v1m1-114v2m0 42v2m0 4v3m0 44v2m0 6v2m0 6v1m1-114v2m0 75v1m0 27v2m0 3v1m1-4v1m1-36v2m0 15v3m0 5v2m0 8v1m1-108v2m0 76v2m0 27v1m0 8v3m1-119v2m0 26v2m0 41v1m1-30v2m0 42v2m0 12v2m0 1v2m1-27v2m1-27v2m1-14v1m0 55v3m1-39v2m0 9v2m0 12v2m0 11v1m1-8v2m0 9v4m1 3v1m1-81v2m0 4v2m0 3v1m0 41v2m0 3v1m0 2v1m0 4v4m1-72v2m0 52v1m0 19v3m1 3v2m0 6v1m1-71v1m0 45v2m0 9v2m1-19v2m0 4v2m0 13v1m0 5v1m1-56v2m1-33v1m0 10v1m0 53v7m1-63v2m0 15v2m0 2v1m0 31v2m0 9v3m1-68v1m0 2v1m0 19v2m0 29v2m0 17v2m1-68v2m0 33v3m0 8v1m0 2v1m0 4v1m0 8v2m0 7v2m1-56v1m0 5v1m0 25v2m0 20v2m1-72v2m0 34v2m0 12v2m0 17v3m1-55v2m0 15v4m0 7v2m0 6v2m1-58v1m0 7v1m0 11v2m0 23v5m0 8v4m1-42v2m0 12v2m0 8v1m0 22v2m0 3v1m1-82v1m0 25v2m0 11v1m0 24v1m0 14v2m1-24v2m1-38v2m0 31v2m0 1v2m0 3v2m1-14v1m0 9v2m0 5v3m1-33v2m0 43v2m1-56v1m0 2v1m0 2v1m0 18v1m0 5v1m0 8v3m0 5v3m0 2v1m1-48v1m0 16v2m0 7v2m0 2v1m0 6v2m0 5v1m0 5v1m1-73v2m0 28v1m0 22v2m0 1v2m0 1v4m0 9v1m1-53v2m0 1v2m1-17v1m0 60v1m1-11v2m0 8v1m0 3v2m1-61v2m0 7v2m0 36v2m0 1v2m0 3v1m1-17v2m0 4v2m1-44v2m0 11v4m0 8v2m1-53v1m0 5v1m0 50v2m0 3v2m0 9v2m1-58v1m1 10v1m0 22v2m0 29v2m1-92v1m0 43v3m0 20v3m0 3v2m0 8v1m1-58v2m0 33v3m0 17v3m1-44v2m0 27v3m0 6v2m1-30v1m0 21v3m1-6v3m0 3v1m0 2v2m0 4v2m1-47v3m0 14v3m0 22v2m1-78v1m0 39v2m0 20v2m0 7v2m0 8v1m1-48v1m0 40v1m1-51v1m0 2v1m0 22v2m0 22v1m1-3v2m0 6v1m0 2v1m1-48v2m0 11v1m1-33v2m0 9v2m0 25v1m0 2v1m0 2v2m0 1v2m0 17v1m1-81v2m0 44v1m1 0v2m0 23v2m2-36v1m0 14v2m0 11v1m1-26v1m0 11v2m0 11v1m0 13v1m2-104v1m0 8v2m0 4v2m0 27v1m0 19v1m0 22v2m0 1v2m1-72v2m0 36v1m0 17v2m0 6v2m0 4v2m1-73v1m0 8v1m0 5v2m0 9v2m0 18v4m0 21v2m0 6v2m1-60v2m0 31v3m0 7v1m0 2v1m0 10v1m1-54v1m0 5v1m0 19v2m0 14v1m0 2v1m1-75v4m0 43v2m0 36v1m1-53v2m0 4v2m0 31v2m0 1v2m0 6v3m1-32v1m0 5v1m0 3v2m0 8v1m1-56v2m0 3v1m0 7v3m0 40v2m0 3v2m0 4v3m1-39v2m0 5v1m0 19v2m2-25v1m0 6v2m0 3v2m0 6v1m0 14v2m1-25v2m0 21v2m1-87v1m0 6v2m0 22v1m0 11v2m0 5v1m0 2v7m0 7v3m0 11v3m1-74v5m0 36v3m0 5v1m1-70v2m0 1v2m0 44v1m0 44v1m1-70v2m0 12v2m0 1v2m1-20v1m0 10v1m0 6v2m0 25v1m0 15v1m1-86v2m0 9v2m0 12v2m0 12v2m0 15v2m0 14v2m0 17v1m1-51v1m0 22v2m0 3v1m0 13v2m0 1v2m1-55v2m0 20v1m0 33v3m1-29v1m0 17v2m0 3v2m1 4v2m1-30v2m1-46v2m0 20v2m0 39v2m0 4v2m1-24v2m0 1v2m1-27v2m0 20v2m0 1v2m1 2v1m0 2v1m0 3v4m0 1v3m0 3v3m1-20v2m1-46v2m0 6v2m0 37v3m0 13v1m1-10v1m1-84v1m0 47v2m0 26v2m0 8v1m1-61v2m0 56v2m0 6v3m1-92v1m0 14v2m0 13v1m0 49v3m0 6v1m1-81v2m0 11v3m0 14v1m0 7v1m0 14v2m0 14v2m1-10v2m0 6v2m0 3v1m1-53v2m0 15v2m0 19v3m1-30v2m0 14v1m0 3v2m0 6v2m0 3v1m1-42v3m0 52v1m1-26v1m1-12v3m0 20v2m0 5v1m1-81v2m0 50v1m1-20v3m0 34v2m1-41v2m0 34v2m0 4v2m1-66v3m0 8v2m0 9v2m0 4v2m0 33v1m1-64v2m0 30v1m0 16v1m0 16v2m0 3v1m0 5v1m1-73v2m0 36v1m0 5v3m0 6v2m0 1v2m1-52v2m0 8v1m0 13v1m0 7v1m0 8v1m0 16v2m1-80v2m0 28v1m0 2v1m0 8v2m0 3v1m0 27v2m1-65v2m0 16v1m0 36v2m0 11v1m1-72v2m0 31v2m0 1v3m0 38v3m1-44v3m0 5v3m0 10v1m1-62v1m0 27v1m0 44v2m0 3v1m0 2v1m1-84v2m0 12v3m0 2v1m0 14v2m0 5v1m0 10v1m0 2v1m1-57v1m0 38v1m0 13v1m0 13v1m0 10v3m0 3v1m1-48v3m0 5v1m1 2v2m0 1v2m0 3v1m0 3v2m0 22v1m1-53v2m0 3v5m0 8v4m0 10v1m0 8v2m0 4v2m0 4v2m1-75v2m0 7v4m0 1v2m0 4v2m0 1v2m0 5v1m0 2v1m0 27v2m1-24v2m0 20v2m0 10v2m1-53v1m0 21v1m1-18v1m0 2v3m0 5v1m0 28v2m1-38v2m0 1v4m0 1v2m0 1v2m0 14v1m0 2v3m1-58v2m0 19v1m0 8v2m0 1v2m0 17v1m0 8v2m1-42v3m0 6v3m0 8v1m0 10v1m0 7v1m0 3v2m1-91v2m0 37v2m0 3v2m0 18v2m0 5v1m0 2v1m0 7v1m0 8v1m1-54v1m0 5v5m0 1v2m0 1v5m0 3v2m0 9v2m0 14v1m1-50v2m0 3v2m0 3v1m0 2v1m0 4v1m0 3v3m0 8v2m0 3v1m0 10v1m1-37v1m0 2v3m0 2v1m0 5v1m0 10v1m0 5v2m1-55v2m0 9v5m0 1v2m0 22v1m0 8v3m1-36v2m0 3v1m0 5v2m0 1v3m0 8v2m0 11v1m0 5v1m1-60v1m0 3v2m0 1v2m0 1v4m0 3v3m0 20v2m0 11v1m1-72v2m0 26v2m0 3v2m0 8v3m0 1v2m0 4v2m1-73v1m0 44v5m0 9v2m0 6v1m0 21v1m1-56v2m0 10v10m0 1v4m0 4v3m0 7v1m0 2v3m0 5v1m1-56v3m0 6v2m0 9v2m0 12v3m0 2v1m0 2v6m0 5v2m0 4v2m1-108v2m0 50v4m0 2v1m0 10v1m0 10v1m1-31v2m0 17v3m0 11v1m0 19v2m1-41v2m0 9v2m0 3v1m0 17v2m0 2v3m1-69v1m0 18v3m0 8v3m0 6v2m0 1v2m0 4v2m0 12v2m0 2v1m1-61v2m0 22v1m0 8v3m0 6v3m0 2v2m0 12v3m0 2v1m1-43v3m0 18v2m1-19v3m0 5v2m0 9v2m0 3v1m0 11v2m0 1v2m1-58v2m0 4v2m0 1v2m0 2v1m0 3v2m0 8v1m0 10v1m0 11v5m1-47v1m0 13v2m0 7v2m0 9v2m1-64v1m0 14v2m0 9v2m0 6v2m0 8v1m0 9v2m0 2v1m1-48v1m0 5v2m0 4v2m0 8v6m0 8v1m0 5v1m0 4v1m0 19v1m1-39v4m0 1v2m0 3v1m1-70v2m0 45v1m0 11v2m0 6v3m0 7v1m0 20v2m1-66v2m0 22v3m0 5v1m0 6v4m0 14v1m1-51v4m0 2v1m0 4v1m0 3v5m0 2v1m0 2v1m0 2v1m0 11v2m0 5v1m1-67v1m0 8v2m0 1v2m0 6v2m0 1v2m0 3v2m0 1v2m0 1v2m0 1v2m0 2v1m0 6v2m1-66v2m0 11v1m0 18v1m0 8v1m0 2v2m0 4v2m0 15v2m0 9v2m1-48v1m0 6v3m0 7v3m0 12v2m0 1v2m0 2v1m0 2v1m0 17v2m1-64v2m0 12v2m0 6v1m0 2v2m0 3v1m0 3v3m0 8v3m0 8v2m1-64v3m0 8v1m0 17v4m0 1v2m0 1v2m0 3v3m0 17v2m1-66v2m0 1v2m0 1v2m0 3v2m0 15v5m0 3v2m0 11v1m1-34v3m0 9v2m0 3v2m0 6v1m0 2v1m0 11v2m0 2v1m1-44v2m0 3v2m0 7v2m0 5v3m0 4v2m0 19v1m0 2v1m1-59v2m0 4v2m0 1v2m0 17v2m0 1v2m0 6v2m0 11v4m1-54v1m0 10v1m0 2v1m0 3v2m0 8v3m0 3v2m0 14v1m1-69v2m0 16v1m0 2v3m0 14v3m0 8v1m0 2v3m1-39v2m0 4v2m0 17v2m1-27v2m0 7v2m0 2v1m0 5v1m0 2v2m0 3v3m0 15v2m0 8v1m1-59v2m0 7v2m0 1v2m0 2v1m0 5v1m0 5v3m0 8v2m0 15v2m1-75v1m0 14v2m0 8v1m0 5v2m0 3v1m0 36v2m1-86v1m0 10v1m0 13v1m0 7v1m0 8v2m0 1v2m0 1v2m0 5v1m0 34v2m1-52v2m0 11v2m0 3v1m0 2v1m0 18v1m0 2v1m1-59v1m0 2v2m0 12v2m0 18v2m0 8v1m0 7v1m0 8v1m1-56v2m0 4v2m0 11v2m0 3v1m0 11v2m0 1v2m0 1v2m0 11v1m1-32v3m0 14v1m0 4v1m1-51v1m0 3v2m0 3v1m0 2v2m0 4v2m0 26v4m1-29v4m0 1v5m0 1v2m0 6v2m1-82v2m0 5v1m0 14v2m0 44v1m0 10v1m0 6v2m0 3v2m1-32v4m0 3v1m0 5v1m1-62v2m0 81v1m1-40v1m0 5v2m0 28v3m1-64v1m0 17v2m0 31v2m1-49v2m0 17v2m0 4v4m0 3v4m0 5v5m0 1v2m1-28v1m0 10v1m0 13v4m0 2v2m1-33v1m0 2v1m0 24v1m1-46v1m0 5v1m0 5v2m0 6v1m0 24v1m0 2v2m0 1v2m1-75v1m0 8v2m0 25v1m0 16v1m0 2v1m0 5v2m0 6v2m1-40v2m0 9v2m0 3v2m0 9v2m0 14v1m1-28v2m0 3v3m0 6v2m0 15v2m1-63v2m0 2v1m0 24v1m0 3v3m0 13v1m0 5v2m1-16v2m1-8v1m1-9v2m0 1v2m0 11v1m0 17v2m1-30v2m0 3v1m0 2v2m0 17v1m1-51v1m0 33v2m0 8v1m1-75v2m1 11v1m0 8v2m0 26v2m0 1v2m0 8v1m1-14v2m0 14v1m0 2v1m0 8v2m2-30v2m0 14v1m3-26v1m0 16v1m0 24v1m1-73v2m0 36v1m0 16v3m1-52v2m0 34v2m0 11v1m1-59v3m0 41v1m0 2v1m2 22v2m1-72v1m0 32v1m0 17v2m0 19v1m1-112v1m0 113v1m1-39v2m0 14v2m0 1v2m0 17v1m1-34v2m0 7v2m0 22v1m1-89v2m0 11v3m0 2v1m0 56v2m1-6v1m0 3v2m1-56v1m0 24v1m0 5v3m0 30v1m1-26v1m0 19v2m2-28v1m1-14v2m0 17v1m0 13v1m1 4v1m1-22v2m0 9v2m0 3v1m0 5v2m1-61v1m0 32v1m0 14v2m0 15v2m1-49v2m0 48v2m1-37v1m0 9v2m0 16v1m0 3v2m1-72v2m0 65v3m1-40v3m0 9v3m0 7v3m1-55v2m0 50v1m1-8v3m0 11v2m1-9v1m0 6v2m0 2v1m0 2v1m1-54v1m0 30v1m0 3v7m0 12v2m0 1v2m1-58v2m0 25v1m0 5v3m0 2v1m1-37v1m0 8v2m0 14v1m0 19v2m1-21v2m0 1v2m1-39v1m0 38v1m0 8v2m0 1v2m0 5v1m1-12v3m0 11v1m1-86v2m0 55v1m0 19v2m0 7v2m1-83v2m0 29v2m0 1v4m0 7v2m0 12v2m0 16v1m1-51v1m0 11v2m0 43v2m1-5v2m1-70v1m0 47v5m0 1v2m0 8v1m0 5v1m1-75v2m0 55v1m0 3v2m0 11v1m1-37v2m0 21v2m1 3v3m0 6v2m1-86v2m0 26v2m0 15v2m0 8v4m0 5v2m0 4v4m1-66v1m0 68v1m1-64v3m0 2v1m0 29v1m0 2v1m1 3v2m0 12v2m0 2v1m1-83v2m0 36v1m0 10v1m0 25v2m1-2v2m1-31v1m0 17v2m0 3v3m0 10v1m1-39v2m0 26v2m0 1v2m1-11v3m0 13v1m0 8v1m1-28v2m0 1v2m1-41v2m0 8v1m0 22v2m0 3v5m0 1v5m0 5v3m1 0v3m0 3v1m2-39v2m0 23v2m1-61v2m1 0v1m0 13v1m0 17v2m0 20v2m1-16v2m0 12v2m1-60v2m0 30v1m0 22v2m0 8v1m0 8v1m1-25v4m1-64v1m0 24v1m0 3v2m0 11v1m0 19v2m0 14v1m0 2v1m1-61v2m0 14v2m0 11v1m0 5v3m1-49v2m0 33v1m0 32v1m1-59v1m0 13v1m0 4v1m0 28v2m1 12v2m1-17v1m0 7v1m0 3v2m1-52v2m0 14v1m0 14v2m1 13v1m1-33v2m0 22v1m2-48v1m0 7v1m0 21v1m0 24v1m0 2v1m1-81v2m0 23v2m0 28v1m0 6v2m0 16v1m1-73v4m0 7v1m0 2v1m0 50v2m0 5v1m1-56v2m0 4v2m1-19v2m0 6v1m0 38v1m1-31v2m0 40v2m1-70v1m1 6v4m0 65v3m1-72v2m0 8v1m0 2v2m0 31v1m0 7v1m0 11v2m0 4v2m0 1v2m1-52v2m0 6v2m0 33v1m1-3v2m1-197v1m0 174v1m0 5v3m0 8v2m0 7v2m1-53v1m0 25v2m0 11v1m0 10v1m0 2v1m1-39v2m0 17v3m0 10v1m1-15v1m0 3v2m0 1v4m1-66v1m0 22v2m0 6v2m0 4v4m0 6v1m0 19v2m1-18v2m0 11v2m0 3v1m1-31v2m0 1v2m0 31v1m1-18v1m0 3v2m1-39v1m0 21v3m1-52v3m0 24v1m0 40v3m0 1v2m0 4v2m1-59v1m0 36v2m0 3v1m0 7v1m2-90v3m0 29v2m0 56v2m1-5v2m0 1v2m1-61v1m0 4v1m0 19v1m0 4v1m0 24v1m0 2v1m0 3v2m1-69v2m0 59v5m1 1v2m1-80v2m0 9v2m0 6v2m0 40v3m0 5v2m1-60v2m0 23v3m0 7v1m0 14v3m0 5v2m0 6v1m1-62v1m0 47v2m1-17v1m0 3v2m0 6v2m0 9v2m0 3v1m0 2v1m1-89v2m0 11v1m0 4v1m0 24v1m1 22v2m0 3v1m0 2v1m2-23v2m0 35v2m1-37v1m0 6v2m0 5v3m0 8v1m1-76v1m0 59v2m0 13v1m0 3v2m0 3v1m1-25v2m0 16v3m0 3v1m1-43v1m0 41v1m1-95v2m0 45v2m0 34v2m1-32v2m0 3v2m0 32v3m1-25v2m1-72v3m0 7v1m0 66v3m0 14v1m1-46v1m0 3v2m0 12v2m0 5v1m0 10v1m1-26v1m0 20v2m1-55v2m0 14v1m0 30v2m0 3v1m0 8v3m1-32v3m0 18v4m0 1v2m1-83v1m0 14v2m0 11v2m0 31v1m0 3v2m0 2v1m0 3v2m1-20v1m0 9v2m0 14v2m1-27v3m0 13v3m0 3v2m0 3v3m0 3v1m1-51v1m0 33v2m0 8v1m1-65v1m0 31v2m0 3v2m0 9v2m0 1v2m0 8v1m0 2v1m1-50v2m0 1v2m0 17v5m0 23v2m0 1v2m1-91v2m0 9v2m0 44v3m0 14v1m1-40v1m0 3v2m0 22v1m0 24v3m1-83v2m0 37v2m0 1v3m0 5v3m0 3v2m0 3v3m0 14v2m0 1v2m1-59v1m0 6v2m0 9v2m0 3v2m1-8v3m0 9v2m0 1v2m0 12v2m1-34v1m0 5v1m0 5v2m0 1v3m0 18v1m0 2v1m1-98v1m0 14v2m0 34v2m0 19v1m0 6v4m0 4v2m0 3v3m1-67v1m0 21v1m0 16v2m0 3v1m0 8v2m0 12v2m1-47v1m0 2v1m0 5v2m1 9v2m0 15v2m0 1v2m0 5v1m0 3v2m1-33v2m0 12v2m0 11v1m1-81v2m0 18v2m0 36v1m0 7v1m1-34v3m0 20v3m0 2v1m0 2v2m0 6v1m0 2v2m0 1v2m1-50v1m0 14v2m0 9v2m0 3v1m0 2v2m0 1v2m0 3v1m0 2v2m0 3v3m1-61v1m0 14v2m0 2v1m0 13v1m0 6v2m0 5v4m0 2v2m0 4v2m1-78v1m0 46v1m0 3v3m0 8v2m0 4v4m1-54v2m0 3v2m0 11v1m0 13v1m0 13v1m0 3v2m0 6v2m1-102v2m0 40v2m0 19v1m0 17v2m0 2v1m0 5v1m0 5v2m0 6v3m1-47v2m0 15v3m0 10v1m1-75v2m0 28v2m0 29v2m0 1v4m0 17v1m1-90v1m0 16v1m0 19v2m0 1v2m0 16v1m0 11v2m0 4v3m1-34v3m0 5v3m0 23v2m0 6v2m1-96v2m0 22v1m0 16v3m0 30v3m0 13v1m1-95v1m0 35v1m0 24v1m0 10v1m0 3v2m0 6v2m0 3v1m1-76v1m0 35v3m0 14v2m0 12v5m0 11v1m1-81v2m0 6v1m0 35v1m0 13v1m0 13v1m0 8v3m1-75v2m0 17v2m0 23v2m0 18v2m1-88v2m0 47v1m0 10v1m0 7v1m0 14v2m1-49v2m0 20v2m0 3v3m0 2v4m0 7v3m1-22v1m0 2v2m0 1v2m0 31v1m1-48v3m0 3v2m0 1v2m0 6v2m0 3v1m0 8v3m0 10v1m1-84v2m0 28v1m0 5v3m0 13v1m0 22v2m1-19v1m0 3v2m1-83v3m0 28v5m0 13v1m0 6v2m0 8v3m0 2v1m0 9v4m0 9v2m0 4v2m1-55v3m0 2v1m0 8v3m0 7v1m0 11v2m1-55v1m0 15v1m0 2v1m0 10v1m0 5v3m0 5v3m1-72v1m0 19v2m0 19v1m0 3v2m0 1v2m0 20v5m0 8v1m1-81v2m0 42v1m0 2v1m0 7v1m0 11v3m0 24v1m1-45v2m0 15v2m1-30v2m0 15v3m0 5v2m0 1v3m0 3v2m0 9v2m1-64v3m0 16v1m0 2v1m0 7v1m0 11v2m1-18v2m0 30v1m1-72v2m0 8v1m0 21v1m0 6v2m0 3v2m0 6v3m0 2v3m1-63v2m0 14v1m0 21v1m0 2v1m0 8v2m0 5v1m0 5v1m0 13v1m1-64v2m0 6v2m0 11v1m0 3v2m0 11v1m1-21v1m0 6v2m0 22v1m0 7v1m0 6v2m1-64v1m0 4v1m0 2v1m0 14v5m0 20v3m0 5v2m0 3v3m1-69v2m0 1v2m0 12v2m0 2v1m0 2v1m1-23v1m0 32v3m0 42v1m1-93v1m0 55v2m0 20v1m0 5v2m0 7v2m1-89v2m0 1v2m0 15v2m0 12v2m0 3v2m0 12v2m0 14v1m1-58v2m0 23v2m0 8v3m0 2v1m0 2v3m0 11v1m0 11v2m0 1v2m1-80v2m0 39v1m0 4v3m0 12v3m0 3v2m0 3v2m0 4v2m1-50v1m0 24v1m0 8v2m0 1v2m1-44v2m0 23v2m0 25v1"/>
<path stroke="#ccff33" d="M105 579v1m0 89v2m2-58v2m0 17v5m0 18v2m0 1v4m0 1v2m0 4v2m1-94v2m0 6v2m0 4v2m0 26v2m0 19v1m0 3v2m0 5v1m0 3v3m0 2v2m0 3v1m0 6v2m1-34v1m0 17v2m0 5v1m0 3v2m0 1v2m1-84v1m0 44v2m0 6v1m0 3v4m0 1v2m0 4v2m1-83v2m0 54v2m0 8v1m0 13v1m0 13v1m1-37v2m0 9v1m0 4v4m0 2v3m0 6v2m0 1v2m1-34v1m0 9v2m0 2v1m0 6v2m0 9v2m1-81v1m0 49v1m0 13v1m1-15v1m0 5v1m0 5v2m0 3v1m0 5v2m0 3v1m1-9v2m1-82v2m0 64v1m0 16v3m0 3v2m1-84v1m0 33v1m0 13v2m0 4v2m0 4v2m0 5v1m0 5v2m0 3v1m1-31v2m0 21v2m0 3v2m1-78v1m0 2v1m0 3v2m0 23v2m0 41v3m0 4v2m0 1v2m1-106v3m0 42v2m0 14v3m0 12v2m0 12v2m0 2v3m0 1v2m1-89v1m0 24v1m0 2v1m0 2v2m0 28v3m0 14v1m0 4v3m0 3v1m0 2v1m1-65v1m0 24v1m0 7v3m0 11v3m0 6v5m0 1v3m1-42v2m0 1v2m0 8v1m0 2v1m0 8v2m0 3v6m0 5v1m1-67v2m0 22v1m0 11v3m0 11v2m1-75v1m0 38v1m0 32v1m1-28v2m1-66v2m0 56v3m0 8v3m0 6v2m0 4v2m0 9v2m1-61v2m0 26v2m0 14v1m0 7v1m0 8v3m1-48v1m0 14v3m0 11v3m0 19v2m1-33v3m0 11v2m0 9v2m0 4v2m1-42v1m0 16v1m0 13v3m0 2v1m0 5v1m1-68v1m0 33v2m0 10v2m0 8v1m1-40v1m0 10v1m0 3v2m0 14v2m0 11v3m0 6v1m1-82v1m0 36v2m0 3v1m0 10v3m0 1v2m0 17v2m0 1v2m0 1v2m1-39v2m0 4v2m0 1v2m0 1v4m0 6v1m0 13v3m1-37v1m0 16v1m0 3v4m1-43v2m0 16v4m0 2v4m0 13v3m1-26v1m0 2v1m0 6v2m0 5v1m0 5v2m0 4v2m0 3v1m1-89v2m0 19v1m0 7v1m0 16v1m0 5v2m0 4v2m0 4v2m0 11v3m0 2v1m1-45v1m0 2v2m0 1v2m0 1v2m0 3v2m0 6v4m0 8v2m0 8v1m0 2v1m1-47v5m0 2v1m0 13v3m0 20v2m0 3v1m1-35v1m0 2v1m0 6v2m0 5v3m0 1v4m1-52v2m0 15v2m0 14v1m0 8v2m0 4v5m0 9v2m1-16v2m0 2v3m0 4v2m1-45v1m0 2v1m0 2v1m0 14v2m0 14v3m1-64v2m0 34v6m0 10v3m0 14v1m1-35v1m0 2v1m0 2v3m0 6v2m0 11v3m1-81v1m0 41v4m0 2v2m0 1v3m0 11v3m0 5v3m0 8v1m1-31v2m0 15v2m0 5v1m1-28v2m0 4v2m0 1v2m0 3v2m0 11v1m0 3v2m1-39v1m0 5v5m0 4v2m0 2v1m0 6v5m0 6v2m1-64v1m0 32v1m0 5v1m0 2v2m0 4v2m0 5v1m0 3v2m0 3v1m1-76v1m0 24v1m0 2v2m0 11v1m0 3v2m0 8v3m0 4v2m0 8v1m0 3v2m1-89v2m0 54v2m0 1v3m0 11v2m0 5v1m0 5v1m1-39v2m0 6v2m0 1v2m0 20v2m0 1v2m1-78v1m0 44v2m0 1v2m0 6v3m0 6v2m1-44v2m0 20v2m0 6v5m0 9v2m1-50v1m0 16v1m0 13v1m0 2v6m0 3v3m0 10v1m0 2v1m1-79v1m0 25v2m0 8v1m0 19v2m0 3v1m0 14v2m1-39v1m0 13v3m0 3v2m0 8v1m1-56v1m0 7v3m0 25v3m0 12v2m0 5v1m0 6v2m1-66v2m0 20v2m0 11v1m0 14v2m1-59v1m0 13v1m0 25v2m0 6v3m0 2v1m0 2v1m0 14v2m1-50v2m0 18v2m0 17v2m0 1v2m1-21v2m0 17v2m1-75v1m0 36v2m0 12v2m0 1v2m0 3v2m0 3v3m0 5v1m1-69v2m0 36v3m0 6v3m0 5v2m0 1v2m0 1v2m1 2v1m1-83v2m0 26v2m0 27v1m0 11v2m0 6v1m0 5v2m1-19v1m0 4v1m1-59v1m0 52v1m0 11v2m0 2v1m0 3v2m1-42v1m1 14v2m0 17v2m0 4v3m1-22v2m0 9v2m1-23v1m0 16v1m1 3v2m1-45v1m0 6v2m0 36v3m0 6v2m1-92v1m0 47v2m1 12v2m0 17v2m0 4v2m1-75v1m0 60v1m0 7v1m1-56v1m0 49v3m0 6v2m0 1v2m1-45v1m0 25v2m0 3v3m0 8v1m1-31v2m0 9v2m0 4v5m0 8v3m1-91v2m0 42v2m0 25v3m0 3v3m0 2v1m0 5v1m1-31v2m0 3v1m0 19v2m0 4v2m0 1v2m1-78v1m0 25v2m0 27v1m1 11v2m0 7v2m1-5v2m1-70v1m0 13v1m0 17v2m0 25v2m0 1v2m1-74v2m1-5v2m0 70v3m0 6v2m1-74v2m0 17v2m0 9v2m0 36v1m1-92v2m0 76v2m0 18v2m1-75v2m0 51v2m0 9v6m1-18v1m0 6v2m0 12v2m1-70v1m0 41v1m0 10v1m0 2v3m1-23v1m0 5v1m0 10v1m2-48v2m0 26v2m0 17v1m0 11v2m1-78v1m0 5v2m0 11v1m0 13v1m0 24v1m0 10v1m1-66v2m0 20v2m0 20v2m0 1v2m0 19v1m1-48v1m0 24v1m0 10v1m0 14v2m1-36v2m0 25v4m1-67v2m0 57v2m0 2v1m0 5v1m0 2v1m1-40v1m0 16v2m0 4v2m1-47v2m0 14v1m0 3v2m1-33v2m0 9v2m0 46v2m0 5v1m0 3v2m0 1v2m1-92v1m0 58v2m0 19v1m2-16v2m0 19v1m1-81v2m0 12v2m0 54v2m1-31v1m0 36v2m1 0v1m1-75v2m0 42v2m1-8v1m0 21v1m0 14v2m1-66v2m0 40v2m1-14v2m0 23v2m0 6v1m1-87v1m0 22v2m0 28v2m0 14v1m0 19v1m1-73v2m0 9v2m0 25v1m1-47v2m0 20v2m0 29v2m0 9v2m0 9v2m0 4v2m1-58v2m0 19v1m0 34v2m1-20v3m0 3v6m1-81v2m0 76v3m1-17v2m0 17v1m1-48v1m0 16v2m0 15v2m1-28v1m0 2v1m0 7v1m0 16v1m0 10v1m0 2v1m1-92v2m0 78v3m0 3v2m1-2v2m0 3v1m1-68v1m0 55v3m0 2v1m0 5v3m1-92v1m0 82v1m1-65v1m0 39v2m0 15v2m0 8v1m1-73v1m0 30v2m0 43v2m1-48v1m0 11v2m0 18v2m0 3v3m1-62v1m0 38v1m2-4v1m2-42v2m0 31v1m0 24v1m0 7v1m0 6v2m1-70v1m0 50v2m1-39v1m0 24v1m0 25v2m1-77v2m0 3v2m0 3v1m0 47v2m1 1v2m0 3v2m1 0v1m1-25v2m0 14v1m1-22v2m0 16v1m0 10v1m0 2v1m1-56v2m0 59v3m2-78v1m0 24v1m0 30v2m0 4v2m1-78v1m0 8v2m0 1v2m0 22v1m0 28v2m0 17v2m0 1v2m1-92v1m0 55v2m0 7v2m0 11v1m0 13v1m1-64v2m0 5v1m0 8v2m0 28v1m1-43v1m0 39v2m0 8v3m1-55v2m0 34v1m0 5v2m0 1v2m0 8v3m1-11v1m0 7v1m1 6v2m1-22v2m0 4v2m0 6v2m1-88v2m0 37v2m0 28v5m0 4v2m0 2v6m0 3v1m1-12v2m0 4v2m1-66v2m0 50v1m0 2v1m1 2v3m0 9v2m1-75v2m0 29v3m0 11v2m1-49v2m0 53v2m1-57v2m0 52v1m0 2v1m0 7v1m1-39v2m0 18v2m0 11v1m0 10v1m1-98v1m0 24v1m1 18v1m0 36v2m1-14v1m0 11v2m1-3v1m0 16v1m1-28v2m0 20v2m1-74v2m0 11v1m2-9v1m0 32v1m0 13v1m0 22v3m1-50v2m0 33v1m0 13v1m1-54v1m0 42v2m1-9v1m0 6v4m1-50v1m0 38v1m0 5v1m1-7v1m1-62v1m0 31v2m0 17v2m0 4v2m0 19v3m1-67v1m0 42v2m1-30v2m0 23v2m1-2v2m0 3v2m0 1v3m0 14v2m1-58v2m0 7v2m0 9v4m0 14v1m0 2v1m0 11v3m0 2v1m1-70v2m1 25v1m0 11v2m0 3v1m0 2v2m0 15v5m1-28v1m0 19v2m1-32v2m0 14v2m0 11v1m1-62v1m0 2v1m0 14v2m0 22v1m0 3v4m0 3v1m0 7v1m0 6v2m1-39v3m0 16v1m0 2v1m0 14v2m1-53v1m0 3v2m0 3v2m0 22v3m1 4v2m0 3v3m0 6v2m1-45v1m0 21v1m0 5v1m0 5v2m0 6v1m1-45v2m0 4v4m0 15v2m0 4v4m1-90v4m0 32v2m0 22v1m0 18v1m0 2v3m1-42v1m0 19v2m0 29v2m1-75v3m0 19v1m0 13v1m0 2v1m0 13v1m0 4v1m0 19v1m1-40v1m0 21v4m0 5v2m1-19v1m2-48v2m0 31v1m0 8v2m0 9v2m0 14v1m1-62v1m0 11v2m1 0v1m0 4v1m0 14v2m0 3v1m0 7v1m0 8v2m1-82v2m0 31v2m0 28v1m0 24v3m1-72v5m0 22v1m0 17v2m0 8v1m1-53v2m0 3v2m0 18v2m0 15v4m0 7v2m0 8v1m1-34v2m0 4v2m0 14v1m0 13v1m1-39v4m0 7v3m0 13v2m1-38v2m0 1v2m0 14v1m0 2v1m0 24v1m1-100v2m0 47v1m0 16v2m0 4v2m0 20v3m1-39v2m0 1v2m0 6v3m0 3v2m0 17v2m1-74v2m0 34v3m0 7v3m0 8v1m1-84v1m0 19v2m0 43v2m0 2v1m0 2v3m0 1v2m0 12v4m0 6v4m1-43v3m0 3v2m0 14v1m0 8v3m0 8v3m1-59v1m0 14v2m0 5v1m0 6v3m0 4v1m0 3v2m0 3v3m0 3v2m1-38v2m0 5v1m0 5v1m1-57v1m0 3v2m0 8v1m0 20v2m0 8v1m0 8v2m0 3v1m0 5v2m0 11v1m0 6v2m1-53v1m0 22v3m0 8v3m0 8v2m1-53v4m0 3v2m0 6v2m0 14v1m0 8v3m0 5v2m0 4v2m0 1v2m1-70v1m0 8v2m0 9v2m0 9v2m0 3v3m0 11v1m1-84v1m0 40v1m0 8v1m0 2v5m0 4v2m0 20v3m1-50v2m0 3v2m0 11v1m0 11v3m0 11v2m0 1v2m0 3v2m0 10v2m1-53v3m0 6v2m0 8v4m0 14v2m1-47v2m0 7v2m0 5v1m0 2v5m0 1v3m1-31v3m0 3v2m0 3v1m0 8v5m0 6v2m0 1v3m0 2v5m0 1v2m1-81v3m0 34v2m0 23v3m0 3v2m0 8v1m1-34v1m0 2v2m0 1v2m0 4v2m0 2v1m0 5v4m0 11v2m1-58v2m0 15v5m0 5v1m0 14v2m0 8v1m0 14v2m1-50v1m0 7v1m0 2v1m0 2v2m0 3v1m0 3v3m0 4v1m0 5v1m0 8v2m1-85v2m0 31v2m0 8v3m0 1v2m0 1v2m0 8v4m0 4v1m0 13v3m1-28v1m1-25v2m0 6v2m0 3v1m0 10v1m0 6v2m0 17v2m1-52v2m0 3v1m0 7v1m0 8v2m0 17v3m1-44v5m0 6v2m0 3v3m0 5v3m0 1v5m0 22v1m1-40v1m0 5v2m0 3v3m0 20v2m1-74v2m0 12v2m0 25v2m0 6v1m1-28v2m0 9v2m0 4v2m0 2v1m0 2v3m0 1v3m1-82v1m0 39v2m0 12v2m0 1v2m0 2v1m0 8v2m0 1v2m0 3v3m0 9v2m0 1v2m1-36v2m0 17v3m1-19v3m0 5v2m0 4v2m0 3v3m1-41v2m0 12v4m0 9v2m0 3v1m0 8v2m1-46v2m0 5v1m0 3v2m0 6v2m0 3v3m0 5v1m0 2v1m0 3v2m0 1v2m0 9v2m0 6v2m0 1v2m1-70v1m0 20v2m0 13v1m0 2v3m0 11v1m0 5v2m0 4v2m1-47v5m0 1v2m0 20v2m0 1v2m0 11v1m1-34v1m0 10v1m0 11v3m0 4v1m0 5v1m1-57v1m0 27v1m0 8v2m0 20v1m1-104v1m0 46v1m0 2v1m0 3v4m0 3v1m0 3v2m0 8v1m0 3v2m0 13v1m1-36v2m0 11v1m0 5v6m0 2v1m0 2v3m0 9v2m1-99v2m0 39v2m0 11v1m0 25v2m0 11v1m0 2v1m1-73v3m0 9v2m0 12v5m0 3v2m0 15v2m0 3v2m0 9v2m0 4v5m1-92v1m0 13v1m0 7v1m0 32v1m0 11v2m0 3v1m0 3v2m0 5v1m0 3v5m1-83v2m0 15v2m0 3v2m0 1v2m0 31v2m0 4v2m0 8v1m1-83v2m0 20v2m0 23v2m0 9v2m0 26v2m1-81v1m0 13v1m0 2v5m0 1v2m0 6v1m0 4v1m0 19v1m0 8v2m0 6v2m1-83v1m0 5v2m0 18v2m0 12v2m0 6v2m0 26v2m0 2v1m0 3v2m1-78v1m0 5v3m0 9v2m0 2v3m0 12v2m0 4v2m0 3v2m0 3v1m0 7v3m0 3v3m0 3v2m0 4v2m1-119v2m0 22v1m0 47v2m0 14v3m0 15v4m0 3v1m0 5v1m1-117v3m0 2v3m0 6v2m0 12v2m0 3v3m0 8v2m0 21v2m0 2v1m0 35v1m1-176v1m0 100v3m0 2v1m0 7v1m0 5v1m0 2v2m0 23v3m0 2v1m0 5v1m0 2v2m0 1v2m0 1v2m1-124v2m0 23v2m0 17v2m0 12v2m0 9v2m0 17v1m0 38v2m1-91v1m0 7v1m0 28v5m0 5v1m0 3v2m0 22v1m0 13v2m1-68v2m0 23v2m0 3v3m0 10v1m0 8v3m0 3v2m0 11v1m1-79v1m0 5v1m0 16v2m0 10v2m0 3v2m0 22v1m1-51v1m0 14v3m0 10v1m0 27v6m0 5v1m1-64v2m0 3v2m0 12v2m0 42v1m1-57v3m0 29v3m0 10v1m0 4v1m0 8v1m1-62v2m0 4v2m0 9v2m0 18v2m0 13v1m1-36v2m0 20v2m0 1v2m0 8v1m0 8v1m1-62v2m0 10v2m0 2v1m0 6v5m0 16v1m1-42v3m0 8v3m0 6v4m0 14v1m0 6v4m0 4v2m0 3v1m1-48v2m0 4v2m0 1v4m0 14v1m0 3v2m0 5v1m1-62v1m0 5v1m0 8v3m0 2v1m0 5v2m0 1v2m0 5v1m0 9v2m0 5v1m1-65v1m0 17v2m0 3v2m0 1v2m0 1v2m0 1v2m0 6v2m0 6v2m0 32v2m1-67v1m0 4v1m0 11v2m0 7v2m0 2v1m0 3v2m0 3v1m0 2v2m0 3v1m0 2v1m1-42v2m0 9v2m0 36v1m0 5v1m1-54v1m0 2v1m0 5v2m0 1v2m0 3v3m0 2v1m0 10v1m0 16v1m1-59v2m0 1v3m0 5v1m0 5v2m0 15v3m0 18v1m0 3v2m1-63v2m0 11v1m0 2v2m0 1v2m0 9v2m0 1v2m0 4v2m0 5v1m0 10v3m0 1v3m1-53v2m0 1v2m0 3v2m0 3v1m0 18v1m0 3v2m0 5v1m1-64v2m0 20v1m0 16v2m0 3v1m0 5v3m0 2v3m0 14v1m1-67v2m0 40v2m0 9v2m0 2v1m0 2v1m0 6v2m1-61v2m0 4v2m0 3v5m0 4v2m0 9v2m0 19v1m0 2v1m1-34v2m0 25v1m0 3v3m1-56v2m0 9v2m0 4v2m0 1v2m0 14v2m0 4v2m0 5v3m0 4v2m1-58v3m0 3v2m0 12v4m0 3v1m0 8v2m0 3v1m0 3v2m0 2v1m0 3v2m1-55v2m0 4v2m0 28v2m0 9v2m1-79v2m0 30v1m0 2v1m0 14v2m0 12v2m0 9v2m0 3v2m1-55v2m0 4v2m0 1v2m0 12v4m0 3v3m0 1v2m1-34v3m0 7v5m0 13v1m0 2v1m0 5v2m0 4v2m1-38v2m0 1v2m0 3v2m0 3v1m0 2v2m0 1v2m0 14v1m0 2v3m0 11v1m1-59v2m0 12v2m0 34v2m1-41v5m0 4v4m0 1v2m0 23v2m0 1v2m1-35v2m0 5v1m0 2v1m0 3v4m0 1v2m0 1v5m1-8v2m1-67v1m0 58v1m0 4v1m0 2v3m0 6v2m0 1v2m1-27v2m0 8v1m0 11v2m1-35v2m0 5v1m0 2v1m0 2v1m0 2v1m0 5v2m0 6v2m0 4v5m1-39v1m0 21v1m0 7v1m0 6v2m1-70v1m0 24v1m0 17v2m0 5v3m0 12v2m0 1v2m1-41v2m1-19v2m0 4v2m0 20v3m0 13v1m0 10v1m1-89v2m0 34v2m0 37v2m0 11v1m0 2v1m1-43v1m0 10v1m0 13v1m0 5v2m0 9v1m1-46v1m0 5v3m0 5v1m0 8v2m0 3v1m0 2v1m1-40v1m0 7v1m0 3v2m0 5v1m0 6v2m0 9v3m0 7v3m0 1v2m1-63v2m0 16v1m0 2v1m0 10v1m0 3v2m0 1v7m0 8v1m1-30v2m0 14v3m0 3v2m0 3v3m0 2v3m0 1v2m1-80v2m0 17v2m0 31v1m0 13v3m0 6v2m1-89v1m0 28v2m0 9v2m0 8v1m0 10v1m0 13v1m0 11v2m1-60v2m0 22v1m0 13v3m0 2v1m0 5v1m0 14v2m1-41v2m0 5v1m0 8v2m0 3v1m1-126v1m0 67v2m0 27v3m0 1v2m0 25v1m0 2v2m1-36v1m0 13v1m0 16v3m1-42v1m0 18v1m0 2v3m0 3v5m0 3v1m0 5v3m0 2v1m0 3v2m1-100v1m0 54v1m0 30v3m0 2v1m0 2v1m1-42v2m0 11v1m0 3v2m0 4v2m0 2v1m0 2v3m0 3v2m0 3v1m1-54v1m0 13v1m0 3v2m0 12v2m0 3v3m0 2v6m0 3v2m0 4v2m1-70v1m0 22v2m0 6v3m0 5v1m0 3v2m0 3v2m0 4v2m0 6v2m0 3v1m1-67v2m0 1v3m0 14v4m0 11v1m0 9v2m0 14v2m0 1v3m1-42v2m0 6v2m0 7v2m0 3v2m0 7v4m0 3v1m0 3v3m1-54v1m0 11v2m0 3v2m0 3v1m0 2v1m0 21v1m0 3v2m1-50v1m0 10v3m0 6v3m0 19v2m1-35v2m0 1v2m0 2v3m0 22v1m0 2v1m0 2v1m1-78v2m0 54v2m0 13v1m0 5v1m0 2v1m1-50v2m0 5v4m0 5v2m0 6v1m0 7v1m0 5v2m0 3v3m1-44v3m0 16v1m0 3v2m0 3v3m0 3v2m1-58v2m0 15v3m0 15v1m0 3v3m0 2v5m0 1v2m0 1v2m0 1v4m0 3v3m0 1v2m1-83v2m0 7v2m0 42v2m0 1v3m0 10v1m0 2v2m0 4v2m1-63v2m0 6v3m0 5v1m0 5v5m0 6v2m0 4v2m0 3v2m0 3v1m0 14v5m1-64v3m0 16v1m0 2v1m0 4v4m0 8v2m0 11v3m0 1v2m1-86v1m0 41v2m0 3v1m0 3v4m0 10v2m0 3v2m1-24v2m0 1v2m0 5v1m0 3v3m0 5v2m0 1v2m1-25v1m0 4v4m0 3v2m0 6v2m0 3v1m0 8v2m1-60v2m0 25v2m0 6v1m0 3v2m0 5v1m0 8v2m0 7v2m1-58v2m0 17v2m0 3v1m0 6v4m0 9v2m0 1v3m0 2v1m1-29v1m0 6v4m0 14v1m1-61v2m0 33v1m0 3v2m0 8v1m0 2v1m0 2v2m0 6v1m1-51v1m0 11v2m0 3v3m0 2v1m0 2v1m0 3v2m0 16v3m1-30v2m0 7v2m0 5v3m0 1v2m1-25v2m0 6v3m0 9v2m1-47v2m0 28v1m0 10v1m0 17v2m1-66v2m0 25v1m0 7v1m0 22v3m1-59v1m0 7v1m0 27v3m1-38v2m0 3v2m0 40v2m0 3v3m2-73v1m0 2v1m0 35v1m0 27v1m1-62v1m0 15v3m1-21v2m0 42v2m0 4v2m0 5v1m0 6v4m1-75v1m0 24v1m0 25v2m0 7v2m0 3v3m0 5v2m1-71v2m0 59v3m0 5v3m0 2v1m0 3v2m1-49v2m0 41v3m1-39v1m0 3v2m0 9v2m0 11v1m0 2v2m1-44v1m0 13v1m0 32v1m1-62v1m0 14v2m0 5v1m0 19v3m0 13v1m0 9v2m1-55v2m0 5v1m0 13v1m0 17v2m1-27v2m0 19v3m0 9v2m1-69v2m0 12v2m0 14v1m0 19v2m0 3v4m0 4v1m0 8v1m1-54v1m0 2v1m0 32v1m0 14v2m1-28v1m0 2v1m0 10v1m0 2v2m0 1v3m1-33v2m0 25v2m0 6v1m1-23v1m0 16v2m1-69v1m0 47v2m0 1v2m0 20v2m1-36v2m0 9v3m0 9v2m1-55v2m0 47v1m0 14v3m1-85v1m0 25v2m0 20v2m0 29v5m1-56v1m0 8v2m0 26v2m0 3v1m0 4v1m1-75v5m0 23v2m0 4v2m0 19v1m0 10v3m0 5v1m0 2v1m1-79v3m0 37v2m0 31v2m0 9v1m1-84v2m0 15v2m0 17v2m0 4v2m0 5v3m0 4v2m0 8v1m0 5v3m0 5v1m1-65v1m0 3v2m0 31v2m0 20v2m1-85v2m0 8v1m0 6v2m0 42v8m0 9v2m0 6v2m1-30v3m0 30v1m1-15v1m0 2v2m0 3v1m0 5v1m1-73v2m0 28v1m0 7v1m0 16v4m0 14v2m1-72v2m0 29v2m0 6v2m0 1v3m0 4v1m0 5v1m0 8v2m0 1v2m1-58v2m0 56v1m1-32v1m1-6v2m0 3v1m0 6v2m0 3v2m0 14v1m1-47v2m0 8v1m0 8v2m0 12v2m0 14v1m1-56v2m0 25v1m0 8v2m0 9v3m0 5v1m1-35v1m0 8v1m0 5v3m0 3v2m0 3v2m1-66v2m0 18v2m0 19v3m0 1v2m0 6v2m0 15v2m1-84v1m0 34v2m0 13v1m0 11v2m0 20v1m1-75v2m0 19v1m0 14v2m0 6v2m0 22v1m0 5v1m1-37v3m1-34v1m0 7v1m0 25v2m0 4v3m0 4v3m0 1v2m0 6v2m1-57v2m0 16v1m0 14v2m0 4v2m0 14v2m1-44v1m0 25v2m0 3v2m0 4v2m1-36v2m0 21v2m1-2v2m0 8v1m1-43v1m0 36v2m0 9v2m0 1v2m1-38v2m0 14v1m0 2v2m0 11v1m1-39v2m0 18v2m0 9v2m0 6v5m1-74v2m0 56v2m1-10v2m0 3v3m0 3v2m1-41v2m0 4v2m0 23v2m0 5v1m0 7v1m0 3v2m1-53v1m0 30v1m1-17v2m0 19v3m0 15v2m1-75v1m0 8v2m0 11v1m0 7v1m0 20v2m0 5v1m0 2v1m0 7v1m1-51v1m0 17v2m0 12v5m0 13v1m1-75v2m0 51v2m0 3v2m0 3v1m0 2v1m0 2v2m0 4v2m1-38v2m0 39v3m1-33v3m0 2v1m0 4v1m0 2v1m0 3v4m1-71v2m0 23v2m0 1v2m0 17v2m0 3v1m0 2v3m0 2v1m0 2v1m0 3v2m0 9v2m1-31v1m0 8v2m0 12v2m1-25v3m0 3v1m0 5v2m1-3v3m0 11v1m0 5v1m1-46v1m0 38v3m0 1v2m1-77v2m0 67v3m1-44v2m0 20v2m0 5v1m0 3v2m1-31v1m0 25v2m0 3v1m1-40v1m0 24v1m0 11v2m0 3v2m0 3v1m1-12v1m0 2v1m0 8v2m0 1v2m1-77v2m0 1v2m0 31v2m0 3v2m0 1v2m0 12v2m0 4v2m1-69v3m0 2v1m0 13v2m0 29v2m0 25v3m1-63v2m0 6v2m0 50v1m1-53v2m0 15v2m0 25v3m1-61v2m0 23v2m0 15v2m0 3v3m0 5v1m0 4v1m0 6v5m1-59v1m0 17v2m0 3v2m0 4v2m0 3v2m1-68v2m0 23v2m0 30v4m0 3v2m0 5v1m0 5v2m0 4v2m1-10v2m0 3v2m0 3v1m1-45v2m0 28v1m0 2v1m0 8v3m1-82v1m0 22v2m0 46v2m0 6v2m0 3v1m1-48v2m0 25v3m0 9v2m1-189v1m0 120v2m0 9v2m0 28v2m0 25v1m1-25v2m1-52v2m0 3v1m0 2v2m0 31v1m0 29v1m1-53v2m0 31v1m0 10v4m0 5v2m0 6v1m2-50v2m0 13v1m0 8v1m0 11v4m0 3v1m0 2v1m2-23v1m0 4v1m0 10v1m1-69v2m0 17v2m0 1v2m0 22v1m1-9v1m0 13v1m0 8v3m0 13v1m1-62v2m0 23v2m0 4v3m0 13v1m1-59v2m1-46v2m0 40v2m0 25v2m0 25v1m0 11v2m1-57v2m0 41v3m0 6v2m0 4v3m1-45v2m0 9v2m0 20v3m0 5v1m1-59v1m0 7v1m0 21v1m0 5v1m0 3v2m0 5v1m0 5v2m1-157v2m0 139v1m0 5v2m1-47v1m0 16v2m0 25v1m0 8v2m0 1v2m0 4v2m0 1v2m1-70v1m0 52v1m0 5v3m1-83v4m0 48v2m0 15v2m0 1v2m1-14v1m0 8v2m1-22v1m0 16v3m0 5v1m0 2v2m0 4v2m1-19v2m0 4v2m0 1v2m1 11v1m1-73v2m0 40v2m0 4v2m0 6v2m1-52v2m0 3v2m0 14v1m0 16v3m0 5v1m1-15v3m0 3v1m0 2v1m0 5v2m0 12v2m0 3v1m1-23v2m0 18v2m0 1v2m1-61v2m0 18v2m0 8v1m0 10v1m0 2v1m1-62v3m0 23v2m0 19v1m0 14v2m0 8v1m0 2v1m1-81v2m0 11v3m0 1v4m0 18v2m0 5v1m0 14v2m0 1v2m0 1v4m0 7v2m1-89v1m0 33v2m0 6v2m0 4v2m0 5v3m0 4v2m0 6v2m0 4v2m0 3v2m0 3v1m1-72v4m0 21v2m0 3v3m0 16v1m0 7v1m1-62v1m0 13v1m0 19v2m0 4v2m0 20v3m0 4v3m0 1v2m1-38v2m0 14v1m0 2v2m0 3v1m0 7v6m1-17v1m0 6v2m1-69v2m0 48v6m0 4v1m0 3v2m0 1v2m0 5v1m1-25v2m0 3v1m0 2v2m0 6v5m1-7v3m1-40v1m0 3v2m0 5v1m0 7v1m0 8v3m0 2v1m0 5v1m0 2v5m0 3v1m1-25v2m0 5v1m0 5v1m0 7v1m1-59v1m0 38v1m0 10v1m0 8v2m1-46v4m0 17v1m0 3v2m0 9v2m0 6v2m1-64v1m0 50v2m0 9v2m1-71v2m0 28v2m0 25v1m0 10v3m1-60v2m0 2v1m0 8v1m0 24v3m0 3v2m0 11v1m1-48v1m0 41v3m0 6v2m1-44v2m0 15v3m0 10v1m1-175v2m0 100v2m0 6v1m0 27v1m0 4v1m0 5v1m0 16v2m1-60v2m0 25v1m0 7v1m0 10v1m0 28v2m1-74v2m0 11v1m0 39v2m1-6v1m0 7v1m0 3v3m0 7v1m1-44v2m0 19v3m0 11v1m1-14v2m0 1v2m0 13v1m1-80v2m0 12v2m0 20v2m0 1v2m0 23v2m0 9v5m0 3v2m1-63v2m0 6v2m0 20v3m0 17v3m0 10v1m1-84v2m0 9v1m0 11v2m0 11v1m0 25v2m0 16v1m0 3v2m1-58v2m0 3v1m0 10v3m0 9v2m0 20v2m0 6v1m1-85v1m0 5v1m0 52v1m0 2v2m0 14v1m1 5v1m1-25v2m1-45v1m0 22v2m0 14v1m2-62v1m0 21v1m0 49v1m0 7v1m0 3v2m1-38v2m0 3v2m0 14v1m1-31v1m0 18v1m0 3v2m0 8v3m0 3v2m1-49v2m0 12v2m0 14v1m0 3v2m0 2v1m0 8v2m1-36v1m0 10v1m0 6v2m0 5v1m1 0v2m1-42v1m0 6v2m0 22v1m0 5v2m1-44v1m0 14v2m0 48v2m1-45v1m0 27v1m1-64v2m0 8v1m0 5v2m0 14v1m0 3v2m0 12v3m0 4v1m0 2v1m0 2v1m0 2v2m0 4v2m0 4v2m1-33v3m0 2v1m0 4v1m0 19v1m1-68v1m0 27v1m0 5v2m0 20v2m1-71v2m0 54v2m0 3v2m1-61v1m0 5v2m0 1v2m0 17v1m0 10v1m0 14v4m0 4v2m1-89v1m0 50v2m0 33v1m0 10v1m1-39v2m0 1v2m0 31v2m0 4v2m0 1v2m1-84v1m0 35v1m0 11v2m0 20v2m1-79v2m0 37v2m0 16v3m0 11v1m0 2v1m0 4v1m0 2v1m1-20v3m0 2v1m0 6v2m1-31v1m1-22v2m0 44v1m0 8v2m0 3v1m1-26v1m0 19v3m1-70v1m0 36v2m0 31v2m0 3v1m1-15v1m0 7v1m1-29v1m0 17v2m1-61v1m0 25v2m0 20v2m1-20v1m0 2v1m0 3v2m0 34v2m1-92v1m0 24v1m0 14v2m0 14v2m0 21v2m0 2v4m1-83v2m0 5v1m0 24v1m0 16v1m0 10v1m0 8v3m0 3v2m1-19v2m0 8v1m0 2v1m0 5v5m0 4v2m1-9v1m0 2v1m1 0v2m0 3v1m1-46v1m0 13v1m0 24v1m1-78v2m0 6v1m0 7v3m0 1v2m0 28v2m0 15v2m0 12v2m1-41v2m0 22v1m0 3v2m0 5v3m0 1v2m1-77v2m0 42v2m0 3v1m0 11v2m1-47v2m0 23v2m0 6v3m0 11v1m1-54v1m0 32v1m0 17v2m1-39v1m0 19v2m0 11v1m0 8v2m0 3v1m0 3v2m0 1v2m1-20v1m0 8v2m1-82v4m0 7v2m0 48v2m0 17v2m0 6v1m1-84v2m0 20v2m0 14v1m0 19v1m0 10v1m1-50v2m0 8v1m0 5v2m0 7v4m0 12v2m0 15v2m1-72v1m0 10v1m0 47v2m0 9v2m1-53v1m0 3v2m0 11v1m0 2v2m0 1v2m0 6v1m0 2v2m0 3v1m1-75v2m0 50v1m0 8v2m0 6v2m0 18v3m1-29v1m0 2v1m0 7v3m0 5v1m0 5v1m0 2v1m1-21v3m0 9v2m1-77v2m0 47v3m0 1v3m0 3v2m0 5v1m0 7v1m0 6v2m1-59v1m0 13v1m0 2v1m0 3v2m0 5v1m0 28v2m1-33v2m0 3v1m0 8v3m0 3v2m0 5v1m1-31v2m0 20v1m0 2v3m0 6v2m1-95v1m0 10v1m0 49v1m0 11v2m0 3v1m1-147v2m0 83v1m0 7v1m0 5v1m0 13v1m0 4v1m0 28v2m0 11v4m1-92v2m0 15v2m0 25v2m0 15v2m0 9v3m0 3v2m0 12v2m1-36v2m0 14v1m1-73v1m0 47v2m0 34v3m1 2v1m1-73v2m0 18v2m0 6v2m0 1v2m0 5v1m0 2v1m0 5v1m1-18v1m0 8v2m0 6v3m0 2v1m0 11v2m1-36v1m0 5v3m0 9v4m0 7v4m0 1v2m0 6v1m1-60v1m0 14v2m0 4v2m0 16v1m0 3v3m0 11v2m1-145v1m0 72v2m0 26v2m0 4v2m0 3v2m0 28v1m1-53v3m0 5v2m0 1v2m0 3v1m0 5v2m0 9v3m0 10v1m0 6v2m1-42v1m0 7v1m0 9v2m0 11v3m0 3v2m1-99v2m0 51v2m0 16v3m0 1v2m0 3v2m0 4v2m1-60v2m0 30v4m0 14v2m0 3v2m0 11v1m1-39v2m0 1v2m0 5v1m0 5v1m0 27v1m1-60v1m0 8v1m0 2v2m0 7v2m0 2v1m0 2v1m0 2v1m0 8v2m0 3v1m0 10v1m1-47v2m0 5v3m0 1v2m0 3v2m0 15v2m0 3v3m0 2v3m1-46v4m0 1v2m0 3v5m0 1v3m0 16v3m0 2v1m0 5v4m1-35v1m0 27v1m0 2v3m1-91v2m0 37v3m0 5v2m0 4v2m0 2v1m0 2v1m0 3v2m0 3v2m0 1v2m0 6v2m0 1v2m1-50v3m0 4v2m0 5v3m0 1v2m0 5v1m0 8v2m0 9v5m0 1v3m1-47v2m0 2v1m0 5v3m0 2v3m0 1v3m0 2v1m0 2v2m0 1v2m0 12v2m0 4v2m1-55v2m0 8v1m0 8v2m0 3v1m0 3v4m0 7v2m0 6v2m1-63v2m0 9v2m0 3v1m0 4v1m0 6v4m0 3v1m0 3v2m0 8v3m0 3v2m0 3v1m1-47v2m0 8v3m0 1v2m0 9v2m0 14v3m0 2v1m0 3v2m1-58v3m0 2v3m0 9v3m0 4v1m0 5v1m0 8v3m1-48v1m0 8v2m0 3v3m0 9v5m0 2v1m0 19v2m0 4v2m0 1v2m1-61v2m0 6v1m0 7v3m0 3v3m0 3v5m0 1v3m0 11v2m0 2v1m1-51v1m0 8v1m0 7v4m0 7v1m0 2v3m0 8v3m0 1v2m1-50v2m0 7v2m0 11v1m0 30v2m0 3v3m1-63v2m0 6v2m0 3v1m0 10v1m0 14v4m1-55v1m0 13v2m0 3v1m0 2v1m0 2v1m0 7v1m0 3v4m0 7v2m0 9v5m1-200v2m0 125v1m0 11v2m0 20v1m0 8v2m0 1v4m0 4v3m0 5v2m0 11v3m0 3v1m1-54v1m0 5v1m0 2v2m0 15v2m0 6v2m0 6v1m0 7v1m0 2v3m1-56v1m0 10v1m0 5v1m0 8v2m0 8v1m0 2v3m0 8v1m0 2v1m1-64v2m0 1v4m0 18v5m0 5v4m0 5v2m0 1v3m1-59v1m0 30v2m0 3v1m0 18v3m0 1v2m0 5v1m0 8v3m1-37v1m0 5v1m0 16v2m0 4v2m1-78v1m0 11v2m0 6v2m0 1v5m0 1v3m0 24v1m0 8v3m1-42v2m0 11v1m0 7v1m0 3v2m0 3v3m0 19v1m1-50v2m0 6v6m0 10v1m0 5v3m1-67v2m0 20v1m0 2v2m0 12v2m0 9v2m0 12v2m0 1v2m0 9v2m0 4v2m1-49v2m0 8v1m0 10v1m0 3v2m1-47v2m0 15v2m0 6v2m0 8v1m0 2v3m0 1v2m0 5v1m1-47v2m0 15v2m0 5v1m0 24v1m0 3v2m1-58v2m0 6v3m0 8v1m0 7v1m0 13v4m0 8v3m0 13v1m1-89v4m0 10v2m0 13v1m0 6v2m0 1v2m0 3v3m0 8v2m0 1v2m0 6v3m0 2v1m0 8v3m0 5v1m1-65v1m0 2v2m0 1v2m0 3v1m0 35v1m0 2v1m0 4v1m1-53v2m0 7v2m0 12v2m0 9v3m0 8v3m0 4v1m1-83v2m0 17v2m0 9v2m0 3v1m0 16v3m0 20v2m0 6v2m0 6v1m1-90v1m0 19v2m0 4v2m0 2v1m0 14v2m0 4v2m0 6v2m0 8v1m0 2v1m0 3v2m0 5v1m1-59v1m0 13v1m0 2v3m0 5v1m0 7v1m0 13v1m0 3v2m0 8v1m1-70v2m0 18v2m0 1v2m0 13v1m0 6v2m0 8v3m0 12v2m1-61v2m0 3v3m0 3v1m0 5v3m0 2v3m0 9v2m0 3v2m0 12v2m1-57v2m0 3v2m0 1v2m0 8v1m0 5v1m0 2v2m0 9v1m0 7v1m1-45v3m0 2v1m0 10v1m0 2v3m0 5v3m0 6v1m0 2v3m0 3v2m1-52v2m0 1v4m0 10v4m0 4v2m0 8v3m0 8v1m0 3v2m0 5v1m0 3v3m0 2v1m1-65v3m0 11v1m0 4v1m0 3v5m0 6v2m0 1v2m0 6v3m0 16v1m1-82v1m0 19v3m0 2v1m0 5v1m0 5v3m0 17v4m0 20v1m1-64v2m0 8v3m0 3v2m0 3v1m0 16v1m0 19v2m1-64v1m0 3v2m0 14v2m0 1v3m0 13v6m0 5v1m0 7v1m0 8v1m1-67v2m0 5v1m0 3v2m0 12v2m0 3v2m0 4v3m0 2v1m1-37v2m0 17v1m0 5v2m0 3v1m0 10v3m0 4v2m0 2v1m1-62v1m0 19v1m0 10v3m0 2v1m0 3v2m0 6v2m0 7v4m0 10v2m1-61v3m0 3v5m0 2v3m0 4v2m0 5v3m0 6v2m0 7v2m0 9v2m1-61v3m0 2v1m0 10v3m0 1v2m0 1v2m0 2v1m0 13v1m0 5v1m0 11v2m1-56v1m0 6v2m0 20v2m0 1v2m0 9v4m0 1v2m0 4v3m1-54v1m0 8v2m0 4v4m0 6v1m0 5v2m0 4v2m0 5v1m0 3v2m1-44v9m0 13v6m0 8v3m0 3v2m1-75v1m0 24v1m0 10v3m0 3v2m0 1v2m0 20v2m1-46v2m0 3v1m0 7v1m0 14v2m0 6v8m0 9v2m1-52v5m0 11v3m0 2v3m0 3v6m0 3v3m1-84v2m0 40v2m0 1v2m0 6v2m0 1v2m0 1v2m0 17v3m0 3v4m1-35v2m0 17v1m0 2v2m0 3v1m0 10v1m0 3v3m1-85v1m0 25v2m0 23v2m0 4v3m0 11v2m0 8v3m1-70v1m0 20v2m0 3v2m0 4v2m0 3v2m0 7v4m0 1v2m0 14v1m1-72v2m0 28v2m0 4v2m0 8v1m0 8v5m0 1v4m1-94v1m0 57v1m0 2v1m0 13v1m0 5v2m0 1v2m0 1v2m0 1v2m1-36v2m0 1v3m0 7v1m0 3v2m0 1v2m0 9v5m0 9v2m1-36v2m0 3v1m0 13v4m0 8v6m1-43v1m0 10v3m0 6v2m1-60v2m0 34v2m0 3v3m0 3v3m0 14v2m0 12v2m1-27v2m0 6v2m0 1v2m0 5v1m1-72v2m0 6v2m0 12v3m0 11v5m0 6v2m0 1v2m0 6v2m0 11v1m0 2v1m1-23v1m0 13v3m0 11v1m1-65v1m0 5v2m0 23v2m0 4v2m0 11v1m1-39v2m0 42v2m1-46v2m0 12v2m0 9v2m0 1v4m1-60v2m0 9v2m0 4v2m0 5v1m0 53v2m1-77v2m0 26v2m0 6v2m0 17v2m0 21v2m1-80v2m0 47v1m0 18v1m0 3v2m1-47v1m0 27v2m0 11v1m2-25v2m0 14v1m0 14v2m1-83v2m0 62v2m0 18v2m1-86v2m0 37v2m0 22v1m0 14v2m1-50v1m0 19v2m0 6v1m0 2v2m1-61v1m0 44v3m0 6v2m0 14v3m1-31v1m0 19v2m2-63v2m0 1v2m0 28v2m0 18v2m0 12v2m1-47v2m0 39v1m1-72v2m0 27v1m0 13v1m0 13v1m0 6v2m0 5v1m0 10v1m3-39v5m0 8v1m0 11v2m0 3v1m1-53v2m0 59v2m1-14v1m1-18v1m0 2v1m0 5v1m0 8v3m0 2v2m0 6v1m1-61v2m0 5v1m0 25v3m0 3v4m0 6v3m1-77v2m0 11v1m0 5v2m0 23v2m0 12v2m0 8v3m0 4v2m0 9v3m1-37v2m0 6v1m1 0v2m0 1v2m0 6v2m0 14v1m1-40v1m0 10v1m0 5v2m0 3v1m1-4v6m1-56v1m0 17v3m0 24v1m0 4v3m0 1v2m0 14v1m1-12v2m1-13v2m0 6v1m0 7v3m1-85v2m0 8v1m0 30v2m0 21v2m0 3v2m0 8v3m0 3v1m0 2v1m1-75v2m0 11v3m1-6v1m0 13v5m0 7v2m0 11v1m0 2v2m0 1v2m0 6v2m0 1v2m0 1v3m1-36v2m0 27v1m1-48v1m0 27v1m0 5v2m0 4v2m0 8v3m0 1v2m0 1v2m1-66v2m0 59v2m1-50v1m0 16v2m0 11v1m0 6v4m0 3v1m0 2v1m0 2v1m1-25v2m0 17v2m0 3v1m1-60v1m0 16v3m0 15v7m0 6v3m0 2v3m0 1v2m1-27v2m0 6v2m0 3v1m0 4v1m0 2v1m0 2v1m1-37v1m0 8v3m0 18v1m0 6v2m1-39v3m0 3v2m0 28v1m1-34v2m0 31v1m0 3v2m1-70v1m0 27v3m0 3v2m0 29v2m1-75v1m0 25v2m0 20v2m0 11v1m0 2v2m0 1v2m1-44v1m0 11v2m0 17v2m0 6v2m1-68v2m0 61v1m0 2v2m0 9v1m1-65v1m0 4v1m0 2v1m0 21v1m0 24v1m0 2v3m1-61v1m0 7v1m0 28v3m0 11v4m0 6v1m1-40v1m0 8v2m0 28v4m1-75v2m0 42v3m0 13v1m0 10v1m1-47v2m1-11v2m0 18v2m0 9v2m0 14v2m0 3v1m0 3v2m1-30v2m0 3v1m0 5v2m1-39v1m0 11v2m0 34v2m0 1v2m0 1v2m1-74v2m0 30v1m0 10v3m0 6v3m0 11v2m1-32v2m0 3v2m0 6v1m0 2v2m1-21v2m0 5v1m0 33v1m1-12v2m0 1v2m0 7v2m1-72v2m0 9v2m0 1v3m0 14v2m0 14v2m0 6v1m0 7v1m1-70v1m0 8v2m0 19v1m0 22v3m0 10v1m0 8v1m1-82v1m0 14v2m0 28v2m0 7v2m0 1v2m0 6v2m1-47v2m0 1v2m0 6v1m0 25v2m0 8v1m0 14v2m1-34v1m0 3v5m0 13v1m0 6v2m1-34v1m0 11v3m0 17v2m0 1v2m1-64v2m0 29v2m0 11v1m1-28v2m0 17v1m0 8v2m0 5v1m0 6v3m1-37v2m1-44v1m0 58v2m0 3v3m0 6v2m1-41v2m0 11v1m0 3v5m0 3v3m0 2v3m1 6v2m1-91v2m0 11v1m0 22v2m0 36v1m0 5v1m0 10v1m1-65v1m0 16v1m0 4v1m0 19v1m0 7v1m0 7v1m0 6v2m1-24v2m0 22v1m1-6v3m1-39v2m1-31v3m0 28v1m0 19v2m0 3v1m1-71v1m0 38v1m0 10v1m0 8v1m0 13v2m0 4v2m0 3v1m1-54v1m0 21v1m0 11v3m0 2v1m0 4v1m1-69v2m0 50v3m0 6v2m1-14v3m0 6v2m1-60v3m0 22v3m0 13v2m0 15v2m0 3v1m0 4v1m0 2v1m1-15v1m1-12v1m0 2v1m1-57v1m0 14v2m0 20v2m0 4v2m0 17v2m1-8v1m0 16v2m1-22v1m1-36v2m0 31v2m0 1v2m0 11v1m0 7v1m1-72v2m0 26v2m0 14v2m0 3v1m0 6v2m1-33v2m0 25v1m0 11v2m1-16v2m0 6v2m0 1v2m0 11v1m1-25v2m0 11v1m1-72v2m0 14v2m0 40v2m0 3v1m0 2v2m0 6v1m1-7v6m0 3v2m0 6v1m1-82v1m0 44v1m0 8v2m0 17v2m0 3v1m1-73v1m1 77v1m1-73v2m0 11v1m0 5v1m0 16v2m0 7v2m0 3v2m0 15v3m1-82v1m0 44v1m0 14v2m0 20v2m1-44v2m0 8v1m0 22v2m1-79v2m0 41v1m0 5v1m0 36v3m1-20v2m0 6v2m0 4v2m0 3v1m1-59v6m0 11v2m0 30v1m0 9v2m1-64v2m0 31v1m0 3v2m0 19v1m1-20v2m1-36v1m0 50v2m0 3v1m1-67v2m0 19v1m0 39v2m0 1v3m1-71v1m0 39v2m0 6v3m1-30v2m0 3v3m0 19v2m0 4v2m0 3v2m0 9v1m1-25v2m0 11v3m0 2v1m1-25v2m0 9v6m0 2v2m0 9v1m1-32v1m0 2v1m0 11v2m0 3v2m0 7v3m1-25v4m0 12v2m1-86v1m0 66v1m0 2v2m0 3v3m1 12v2m1-78v1m0 32v1m0 8v2m0 3v3m0 9v2m0 4v4m1-68v2m0 12v4m0 53v1m0 2v1m1-59v2m0 28v3m0 11v1m1-64v2m0 3v1m0 25v2m0 6v2m0 12v3m0 2v3m0 6v2m0 3v2m1-83v1m0 10v1m0 47v2m0 1v3m0 10v1m1-68v1m0 8v2m0 3v1m0 38v1m0 13v1m0 8v2m0 1v2m1-52v2m0 19v1m0 5v1m0 10v1m0 7v4m1-36v2m0 6v2m0 6v2m1-11v1m0 14v2m0 11v3m1-70v1m0 5v1m0 33v2m0 11v1m0 7v1m1-53v2m0 26v2m0 1v3m0 5v3m0 3v3m0 4v1m0 8v1m1-53v2m0 12v4m0 4v2m0 1v2m0 1v2m0 19v1m1-73v1m0 32v1m0 8v3m0 3v2m0 5v1m0 14v2m0 3v1m1-43v1m0 2v1m0 8v2m0 4v2m0 14v2m0 3v1m1-100v2m0 20v2m0 40v4m0 6v3m0 3v3m0 10v4m0 5v1m1-43v1m0 11v3m0 2v1m0 8v2m0 1v5m0 5v1m1-31v2m0 7v2m0 3v3m0 2v5m0 1v2m1-91v2m0 11v1m0 20v2m0 9v2m0 16v1m0 9v2m0 3v2m0 4v2m0 5v1m0 6v2m1-53v1m0 10v3m0 2v1m0 5v1m0 8v2m0 3v1m1-34v2m0 1v2m0 9v2m0 3v1m0 2v1m0 4v3m0 6v5m1-41v2m0 1v2m0 6v2m0 10v2m1-67v1m0 44v2m0 9v2m0 6v1m0 11v2m0 5v3m0 3v1m1-56v2m0 1v2m0 8v1m0 8v2m0 12v5m0 1v2m0 9v2m1-42v3m0 5v1m0 2v3m0 1v2m0 6v2m0 1v2m0 1v2m0 2v1m0 2v1m1-83v2m0 27v1m0 14v2m0 1v3m0 2v3m0 3v2m0 9v2m0 3v1m0 5v2m1-66v2m0 18v2m0 14v2m0 3v1m0 5v3m0 2v1m0 5v3m0 6v3m1-56v2m0 3v1m0 11v2m0 15v4m0 1v2m0 3v3m0 2v1m0 5v1m0 2v1m1-101v1m0 8v2m0 9v2m0 14v1m0 25v2m0 20v2m0 5v1m0 2v1m0 2v1m1-100v2m0 20v2m0 33v1m0 2v1m0 7v1m0 25v2m1-61v1m0 19v2m0 1v5m0 3v5m0 1v2m0 3v1m0 2v2m0 7v2m0 2v3m0 6v1m1-112v2m0 42v1m0 22v2m0 1v2m0 3v2m0 1v2m0 4v2m0 3v3m0 10v9m1-66v3m0 19v2m0 23v2m0 15v2m1-69v2m0 9v2m0 15v3m0 7v1m0 3v2m0 8v1m0 7v1m0 2v1m1-40v1m0 8v2m0 1v2m0 18v2m1-28v6m0 13v1m0 14v2m0 1v2m1-89v1m0 4v1m0 38v1m0 6v2m0 5v3m0 4v2m0 2v4m0 3v2m0 6v2m1-91v2m0 1v2m0 19v1m0 25v2m0 11v1m1-59v1m0 36v2m0 3v2m0 1v2m0 12v2m0 8v1m0 2v1m1-54v1m0 25v2m0 3v1m0 4v3m0 3v1m0 3v2m0 2v1m0 2v3m0 9v2m1-88v2m0 31v2m0 15v3m0 4v1m0 8v1m0 8v2m0 1v2m0 2v1m1-61v2m0 9v2m0 1v2m0 3v1m0 8v5m0 6v2m0 15v4m1-88v2m0 7v2m0 3v2m0 32v4m0 11v1m0 5v1m0 3v4m0 1v2m0 12v3m1-93v1m0 31v2m0 23v2m0 2v3m0 1v2m0 1v2m0 5v1m0 5v1m0 2v2m1-88v2m0 28v1m0 19v2m0 18v7m0 4v2m0 1v2m0 6v2m0 4v2m1-91v2m0 45v2m0 5v1m0 8v1m0 2v3m1-80v2m0 2v1m0 30v1m0 13v3m0 19v1m0 3v2m0 13v1m1-97v2m0 56v2m0 4v2m0 3v2m0 15v3m0 3v2m0 2v1m1-44v2m0 5v4m0 2v3m0 20v2m0 5v1m1-86v2m0 17v1m0 29v1m0 3v2m0 6v3m0 2v1m0 2v1m0 4v1m0 5v1m0 7v1m1-40v1m0 3v2m0 1v2m0 8v4m0 4v1m0 19v1m1-90v1m0 27v2m0 7v3m0 7v3m0 11v1m0 5v2m0 4v2m0 1v2m0 2v1m1-45v1m0 2v1m0 5v3m0 16v1m0 4v1m0 8v2m1-57v2m0 6v5m0 26v2m0 11v1m0 4v1m0 3v2m1-96v2m0 16v1m0 6v2m0 22v1m0 10v1m0 5v2m0 4v3m0 2v3m0 10v1m0 2v1m1-58v4m0 6v3m0 1v5m0 10v1m0 2v1m0 19v2m1-60v2m0 12v2m0 9v3m0 7v1m0 3v2m0 4v2m0 2v1m0 6v2m1-44v2m0 3v1m0 10v1m0 4v3m0 3v1m0 3v5m1-53v2m0 15v5m0 3v2m0 3v1m0 2v1m0 5v2m0 3v1m0 3v2m0 5v1m0 2v3m1-92v1m0 55v2m0 3v1m0 16v3m0 22v1m1-65v1m0 13v1m0 2v2m0 4v2m0 6v5m0 6v2m0 1v2m0 1v2m0 1v2m1-75v2m0 28v1m0 6v2m0 2v1m0 2v1m0 10v3m0 4v4m0 3v1m1-50v2m0 3v2m0 1v6m0 22v2m0 19v1m0 6v2m1-70v1m0 11v2m0 12v2m0 8v1m0 2v1m0 8v2m0 6v1m0 10v1m1-40v1m0 13v3m0 3v6m0 14v2m1-59v1m0 5v1m0 2v1m0 5v2m0 9v2m0 1v2m0 8v3m0 15v2m1-69v2m0 3v1m0 4v7m0 22v2m0 15v2m1-67v1m0 2v1m0 15v1m0 5v1m0 5v5m0 6v2m0 7v2m0 17v2m0 3v1m1-57v1m0 9v2m0 6v2m0 8v1m0 5v1m0 10v1m0 2v2m1-82v2m0 28v3m0 6v2m0 3v2m0 1v2m0 8v1m0 6v2m0 11v1m0 7v1m0 6v2m1-78v1m0 4v1m0 5v1m0 5v2m0 14v3m0 1v2m0 9v3m0 5v2m0 1v2m0 6v3"/>
<path stroke="#f2ff0d" d="M105 580v2m0 15v4m0 26v2m0 11v1m0 3v3m0 4v1m0 5v1m0 13v1m1-28v3m0 7v1m0 10v3m1-53v1m0 11v2m0 9v3m0 11v3m0 7v1m0 5v1m1-34v2m0 12v2m0 15v2m1-56v1m0 2v1m0 10v1m0 5v5m0 4v2m0 11v1m0 11v2m1-85v2m0 16v3m0 6v2m0 21v2m0 6v2m0 1v3m0 4v1m0 3v3m0 5v3m1-50v2m0 19v3m0 1v2m0 8v1m0 2v3m0 3v2m0 6v1m1-39v3m0 27v2m0 10v2m1-84v1m0 27v1m0 21v1m0 16v1m0 5v3m0 5v1m1-78v2m0 30v1m0 6v2m0 3v2m0 4v2m0 1v2m0 2v1m0 5v1m0 4v3m0 7v2m1-117v1m0 21v1m0 21v1m0 17v3m0 22v2m0 3v3m0 13v3m0 1v2m1-41v2m0 3v2m0 1v2m0 1v5m0 9v3m0 11v2m1-64v1m0 21v4m0 5v3m0 10v1m0 5v1m0 4v1m0 3v2m1-55v2m0 12v2m0 4v2m0 3v3m0 2v3m0 5v1m0 3v2m0 1v2m0 3v2m0 4v3m1-75v2m0 9v4m0 31v1m0 3v10m0 3v3m0 2v3m1-50v1m0 18v4m0 2v1m0 16v2m1-36v3m0 17v1m0 7v3m1-52v2m0 19v1m0 3v2m0 1v2m0 2v3m0 15v2m0 1v2m0 9v2m1-105v2m0 22v1m0 3v2m0 19v1m0 2v1m0 3v2m0 5v3m0 1v2m0 8v1m0 7v1m0 6v2m0 8v1m1-40v1m0 5v2m0 1v2m0 4v2m0 8v1m0 2v1m0 11v2m1-49v4m0 9v2m0 7v3m0 4v1m0 5v3m0 8v1m1-89v2m0 40v2m0 5v3m0 5v1m0 5v6m0 6v2m0 8v1m0 2v3m1-80v2m0 11v1m0 38v1m0 2v1m0 2v2m0 6v1m0 2v3m0 6v2m1-99v2m0 39v3m0 2v1m0 11v2m0 3v2m0 1v2m0 22v3m0 1v2m0 3v1m1-57v1m0 3v2m0 8v1m0 2v1m0 2v6m0 3v3m0 5v2m0 9v3m1-92v2m0 9v2m0 12v2m0 18v2m0 12v2m0 2v3m0 3v1m0 7v1m0 3v3m0 4v1m0 2v1m1-28v2m0 1v8m0 2v7m0 7v1m1-69v4m0 11v1m0 14v2m0 3v1m0 5v3m0 3v3m0 4v1m0 11v2m1-66v2m0 32v2m0 3v3m0 5v1m0 2v3m0 6v2m0 3v2m0 1v3m1-57v1m0 19v1m0 2v2m0 6v3m0 1v2m0 5v1m0 5v2m0 3v1m1-59v1m0 10v1m0 11v2m0 5v3m0 14v4m0 4v4m0 2v1m1-78v3m0 8v2m0 29v2m0 2v3m0 6v1m0 7v3m0 6v3m0 2v1m1-168v1m0 130v1m0 2v2m0 7v2m0 1v2m0 8v1m0 7v1m0 2v1m1-73v1m0 11v2m0 17v2m0 1v2m0 1v2m0 12v4m0 6v1m0 8v5m1-91v2m0 47v3m0 9v3m0 18v1m1-66v2m0 6v2m0 19v1m0 6v2m0 2v1m0 11v2m0 20v1m1-98v2m0 56v3m0 5v3m0 4v4m0 6v3m0 3v2m0 1v2m1-80v2m0 18v2m0 17v2m0 1v3m0 2v2m0 28v1m1-84v1m0 10v1m0 11v2m0 12v2m0 5v1m0 3v2m0 1v4m0 1v2m0 3v1m1-47v2m0 27v1m0 2v1m0 2v1m0 5v2m0 7v5m0 3v2m0 6v3m1-75v2m0 20v2m0 9v2m0 1v2m0 6v3m0 5v1m0 10v3m1-63v2m0 22v1m0 2v1m0 11v10m0 3v1m0 8v5m0 8v1m1-34v3m0 6v2m0 3v2m0 6v1m0 8v2m1-30v2m0 6v3m0 2v1m0 2v3m1-58v2m0 36v1m0 8v1m0 8v2m1-13v2m0 3v3m0 2v1m0 5v2m0 1v2m1-83v1m0 50v2m0 8v1m0 7v1m0 10v1m0 3v3m1-45v2m0 3v1m0 16v1m0 5v6m0 5v2m1-36v1m0 7v3m0 3v1m0 3v2m0 8v1m0 5v3m0 2v3m1-58v2m0 23v2m0 9v2m0 14v1m1-47v2m0 17v3m0 6v4m0 4v2m0 5v1m0 5v1m1-73v1m0 30v2m0 9v2m0 11v3m0 11v1m0 5v1m1-40v1m0 4v1m0 5v1m0 2v1m0 7v1m1-59v1m0 40v1m0 6v2m0 6v2m0 9v2m1-91v2m0 37v2m0 12v2m0 11v1m0 24v1m1-34v1m0 7v1m0 5v1m0 8v2m0 1v2m0 2v1m0 2v4m0 3v2m1-80v2m0 41v1m0 6v2m1-61v2m0 9v1m0 43v1m0 5v1m0 4v3m0 6v2m0 6v1m1-87v1m0 46v1m0 19v2m0 4v3m1-65v1m0 49v1m0 22v2m1-75v1m0 22v2m0 23v2m0 4v2m0 3v2m0 6v2m0 3v1m1-26v1m0 10v1m0 6v4m0 3v1m0 2v1m1-31v3m0 5v1m0 13v3m1-86v2m0 62v2m0 4v2m0 16v3m1-108v2m0 45v1m0 19v2m0 3v1m0 18v1m0 3v2m0 1v2m1-59v1m0 24v3m0 22v1m0 14v2m0 1v3m1-25v2m0 11v3m0 2v1m1-65v1m0 36v2m0 9v2m0 3v3m0 8v1m0 3v2m1-59v1m0 34v2m0 8v1m0 7v3m1-50v1m0 16v2m0 15v2m0 11v1m0 3v3m1-62v2m0 9v1m0 7v1m0 21v1m1-42v2m0 53v3m1-42v1m0 41v1m1-56v2m0 11v1m0 17v2m0 8v1m0 10v1m1-89v2m0 83v3m0 1v2m0 1v2m1-78v1m0 53v4m0 1v3m0 13v1m1-37v3m0 20v2m1-74v2m0 6v2m0 20v2m0 39v1m0 13v1m0 2v1m1-209v2m0 125v1m0 63v1m0 14v2m1-61v2m1 15v2m0 15v2m1-16v2m1 17v2m0 11v1m0 5v1m1-14v5m2-64v1m0 24v3m0 3v2m0 25v1m0 2v1m0 4v1m0 3v2m0 1v2m1-69v3m0 46v1m0 14v3m1-75v2m0 56v2m0 9v2m1-80v3m0 3v2m0 1v2m0 9v2m0 6v2m0 7v2m0 9v2m1-77v2m0 64v2m0 28v1m0 8v2m1-41v2m0 43v2m1-74v4m0 21v4m0 15v2m0 12v3m0 11v3m1-81v2m0 26v2m0 9v2m0 5v1m0 14v2m0 9v2m0 3v1m0 2v1m1-23v2m0 1v2m0 8v3m1-86v1m0 32v1m0 41v1m0 11v2m1-49v3m0 15v1m0 22v2m0 6v1m1-65v1m0 50v2m0 3v2m0 4v2m0 3v1m1-209v2m0 120v2m0 6v1m0 49v1m0 2v1m0 22v3m1-51v1m1-3v2m0 1v4m0 29v2m1-2v2m0 9v2m0 1v2m1-91v2m0 23v2m0 40v2m0 17v2m1-81v3m0 15v2m0 25v1m0 22v2m0 12v3m1-90v1m0 7v3m0 29v4m0 15v2m0 14v1m0 4v1m1-19v2m0 12v2m1-28v1m1-29v1m0 11v2m0 1v2m0 33v1m0 14v2m1-117v1m0 22v2m0 22v1m0 24v3m0 23v2m0 8v1m0 3v3m2-81v2m0 15v2m0 34v2m1 3v1m0 11v2m1-77v4m0 70v1m1-68v1m0 64v2m0 3v2m1-10v2m0 12v2m0 3v1m1-85v1m0 3v2m0 14v1m0 14v4m0 23v2m0 14v3m1-56v1m0 41v3m1-53v1m0 42v2m0 9v2m0 9v2m1-84v1m0 34v2m0 22v1m0 11v2m0 5v1m1-84v1m0 24v1m0 39v2m0 2v1m0 16v1m1-82v1m0 34v2m0 30v1m0 3v2m0 6v2m2-28v3m0 25v3m1-97v2m0 76v2m1-47v1m0 8v3m0 25v2m1-59v1m0 8v1m0 18v1m1-15v3m0 4v4m0 40v2m0 9v2m0 1v2m2-111v1m0 99v1m0 13v1m1-81v2m0 17v2m0 45v5m0 3v1m0 2v1m1-81v2m0 11v1m0 35v1m0 14v2m0 8v1m1-75v2m0 36v1m0 11v2m0 6v1m0 10v3m0 8v1m1-32v1m1-47v6m0 8v2m0 15v2m0 6v2m0 20v5m1-33v2m1-29v2m1-27v2m0 73v2m1-69v2m0 40v2m1-28v1m0 71v1m1-92v2m0 12v2m0 70v3m0 3v2m1-53v1m0 36v2m1-13v2m0 17v2m1-68v2m0 55v3m0 6v2m0 3v1m1-57v1m0 8v3m0 22v1m0 15v1m2-23v1m1-61v2m0 64v1m0 24v1m1-92v2m0 31v2m0 34v2m0 4v2m0 6v3m1-56v2m0 25v1m0 13v3m1-63v2m0 75v4m1-23v2m0 3v1m1-70v2m0 32v2m0 51v2m1-6v1m1-72v2m0 8v1m0 5v2m0 17v1m0 10v1m0 21v1m0 2v1m1-81v2m0 12v2m0 29v2m0 2v1m1 11v2m0 14v1m0 2v1m0 2v1m1-87v2m0 43v2m0 12v7m0 1v2m1-66v2m0 7v2m0 30v1m0 21v3m1-58v1m0 30v2m0 6v2m0 12v2m1-27v2m0 20v1m0 4v1m0 16v1m1-29v1m0 6v2m0 8v1m0 2v2m1-74v2m0 65v2m1-80v3m0 14v2m0 25v1m0 29v1m0 13v1m1-33v2m0 8v1m0 3v2m0 14v2m1-60v2m0 11v1m0 27v1m0 7v6m0 5v1m1-29v1m0 6v2m0 3v2m0 1v2m1-22v1m0 10v1m1-67v2m0 73v3m0 5v2m1-15v2m0 2v1m0 14v2m1-41v2m0 17v6m0 3v2m0 1v2m0 3v2m0 6v1m1-6v2m1-3v1m1-79v1m0 17v2m0 31v2m0 9v2m0 18v2m1-50v1m0 27v2m0 1v2m0 11v1m2-67v2m0 61v3m0 6v3m1-28v1m1-4v1m0 8v2m0 9v3m1-81v2m0 28v1m0 19v2m0 4v2m0 8v1m0 5v1m0 2v2m0 3v1m0 2v1m1-93v1m0 3v2m0 39v1m0 27v2m0 7v2m1-69v2m0 54v2m0 5v1m1-84v1m0 7v1m0 11v2m0 25v1m0 24v1m0 14v2m0 3v3m1-6v2m0 3v1m1-15v3m0 3v1m1-86v2m0 38v1m0 8v1m0 18v1m0 3v2m0 9v2m0 11v1m0 2v1m1-87v2m0 14v3m0 39v3m0 1v2m0 13v1m0 8v1m1-70v2m0 50v1m0 5v6m0 5v3m1-30v2m0 23v2m1-89v1m0 49v1m0 19v3m0 5v3m0 9v2m1-94v3m0 8v2m0 15v4m0 29v3m0 3v2m0 2v1m0 2v1m0 7v1m0 3v2m0 1v2m1-80v3m0 55v2m0 20v1m1-26v1m0 13v2m1-60v2m0 15v2m0 16v1m0 2v1m0 3v2m0 6v2m0 4v4m0 10v2m1-84v3m0 1v2m0 8v1m0 32v3m0 11v1m0 6v2m0 5v1m0 2v4m1-93v1m0 35v1m0 11v2m0 14v3m0 1v4m0 3v1m0 3v2m1 12v2m1-86v2m0 14v1m0 11v2m0 11v1m0 7v1m0 5v1m0 5v3m0 5v1m0 7v3m0 4v2m2-83v2m0 23v2m0 1v2m0 12v2m0 2v1m0 6v2m0 1v2m0 3v2m0 12v3m1-56v3m0 25v3m0 24v1m1-59v2m0 43v2m0 8v1m1-86v2m0 17v2m0 15v2m0 8v1m0 33v2m0 1v3m1-84v1m0 4v1m0 16v1m0 7v1m0 20v2m0 8v1m0 5v2m0 9v2m1-65v4m0 31v1m0 10v1m0 5v2m0 3v1m0 3v2m0 3v3m1-73v1m0 14v2m0 19v6m0 3v3m0 6v2m0 19v3m1-78v1m0 10v1m0 13v1m0 7v1m0 16v1m0 2v3m0 3v2m0 3v1m0 11v3m1-81v2m0 1v2m0 19v1m0 6v2m0 5v1m0 2v1m0 2v2m0 14v4m0 2v1m0 4v3m0 4v2m1-33v2m0 4v2m0 11v3m0 2v1m1-83v3m0 7v1m0 13v1m0 27v1m0 2v2m0 6v1m0 13v1m0 4v1m1-25v8m0 12v2m0 8v3m1-45v3m0 3v3m0 3v3m0 13v1m1-70v3m0 14v2m0 23v2m0 6v2m0 3v1m0 6v2m0 14v2m0 4v2m1-47v2m0 4v2m0 1v2m0 5v1m0 3v2m0 1v2m0 8v3m0 2v3m0 4v3m1-53v2m0 1v5m0 5v1m0 2v2m0 21v2m0 2v1m0 6v2m1-52v2m0 14v2m0 14v3m0 11v1m1-69v2m0 11v3m0 17v3m0 4v3m0 6v6m0 19v3m1-72v2m0 6v2m0 7v2m0 14v6m0 8v2m0 7v2m1-66v2m0 19v1m0 2v1m0 2v1m0 7v1m0 11v2m0 20v2m0 1v2m1-83v2m0 23v2m0 20v8m0 4v3m0 2v2m0 12v2m0 1v2m1-64v1m0 2v1m0 16v2m0 4v2m0 5v1m0 6v2m0 1v2m0 2v1m0 5v1m0 2v2m0 3v1m1-87v1m0 28v2m0 8v3m0 14v2m0 1v3m0 2v1m0 10v1m0 5v2m0 1v2m0 1v2m0 4v2m1-91v2m0 23v2m0 2v1m0 14v2m0 4v2m0 8v1m0 7v1m0 8v2m1-52v2m0 17v3m0 6v2m0 7v2m0 6v3m0 2v2m0 7v3m1-85v1m0 45v2m0 2v1m0 14v2m1-24v2m0 1v2m0 14v2m0 1v2m0 4v2m0 5v1m0 2v1m0 2v3m1-66v2m0 2v1m0 8v3m0 8v1m0 4v1m0 3v2m0 4v2m0 3v2m0 15v2m1-61v2m0 4v5m0 1v7m0 9v2m0 3v3m0 22v1m1-73v1m0 18v1m0 5v1m0 8v7m0 4v2m0 3v1m0 4v1m0 2v1m0 2v1m1-40v3m0 1v2m0 6v2m0 11v1m0 7v1m0 11v5m1-58v2m0 3v1m0 13v1m0 8v2m0 15v2m0 3v2m0 4v5m0 1v2m1-87v1m0 20v2m0 5v7m0 2v2m0 20v1m0 2v2m0 11v1m0 2v1m0 3v3m1-165v1m0 113v5m0 3v3m0 12v2m0 3v3m0 3v2m0 6v2m0 3v1m1-76v1m0 11v2m0 1v2m0 2v1m0 6v2m0 3v2m0 12v2m0 22v1m1-48v3m0 3v1m0 2v2m0 1v5m0 1v2m0 5v3m0 3v1m0 2v3m0 5v1m0 10v1m0 2v3m1-66v4m0 3v1m0 2v1m0 3v2m0 6v2m0 14v3m0 22v3m1-56v1m0 5v2m0 11v1m0 2v1m0 2v1m0 8v2m0 14v1m1-161v2m0 100v5m0 4v3m0 8v3m0 4v1m0 9v2m0 5v3m0 5v1m0 2v1m0 3v2m1-92v1m0 28v2m0 8v3m0 6v2m0 14v1m0 2v1m0 5v3m1-61v2m0 11v3m0 8v3m0 3v3m0 11v2m0 18v2m0 2v1m0 2v1m0 6v2m1-78v1m0 21v3m0 5v1m0 2v1m0 2v3m0 3v2m0 14v1m0 3v2m0 9v2m1-84v1m0 30v1m0 2v3m0 3v2m0 4v2m0 9v2m0 1v2m0 14v2m1-61v1m0 25v7m0 21v4m0 1v3m1-62v1m0 3v2m0 9v2m0 9v2m0 9v2m0 9v2m0 15v2m1-66v2m0 12v3m0 7v1m0 3v2m0 2v1m0 3v2m0 9v2m0 1v2m0 15v2m1-70v1m0 7v1m0 5v1m0 8v2m0 1v2m0 5v1m0 2v7m0 4v1m0 6v2m0 9v2m1-55v2m0 1v3m0 5v2m0 4v2m0 19v1m0 11v2m1-156v1m0 88v3m0 11v1m0 8v2m0 3v3m0 15v2m0 3v2m0 1v2m1-45v1m0 2v1m0 6v2m0 27v1m0 6v2m1-78v1m0 24v1m0 14v2m0 5v1m0 10v1m0 2v1m0 5v3m0 2v1m0 2v1m0 4v1m0 5v1m0 2v1m1-81v2m0 26v2m0 1v2m0 3v3m0 10v1m0 6v2m0 3v2m0 17v1m1-89v2m0 30v3m0 1v3m0 2v3m0 13v1m0 5v5m0 14v1m1-48v1m0 28v2m0 5v1m0 11v3m0 2v1m1-92v2m0 30v3m0 12v2m0 14v3m0 1v2m0 6v2m1-105v2m0 58v1m0 3v3m0 5v2m0 1v2m0 4v2m0 2v1m1-47v2m0 15v2m0 2v3m0 1v2m0 3v3m0 3v2m0 4v2m0 3v2m0 4v2m0 1v2m0 2v1m0 2v1m0 16v1m1-68v1m0 22v2m0 11v1m0 16v3m0 3v5m1-185v2m0 142v6m0 2v2m0 7v2m0 16v1m0 2v1m0 2v1m1-53v3m0 3v2m0 3v2m0 15v2m0 3v2m0 7v2m1-48v1m0 5v1m0 10v1m0 3v2m0 9v2m0 1v2m0 3v5m0 5v3m0 1v5m1-59v1m0 2v1m0 3v7m0 4v2m0 3v5m0 4v2m0 5v6m1-102v2m0 20v2m0 33v3m0 3v1m0 2v3m0 3v2m0 14v1m0 11v2m0 5v1m1-78v2m0 14v1m0 6v2m0 16v1m0 3v2m0 1v2m0 6v3m0 8v3m0 8v2m1-47v4m0 4v1m0 2v1m0 5v2m0 3v4m0 2v1m0 8v2m0 11v1m0 2v1m1-34v2m0 6v3m0 5v1m0 10v1m1-58v2m0 2v1m0 5v1m0 5v2m0 1v3m0 8v2m0 15v2m0 1v2m0 2v3m0 7v2m1-84v1m0 38v1m0 10v3m0 4v4m0 17v1m1-59v2m0 6v3m0 45v6m1-62v3m0 2v1m0 3v2m0 3v2m0 3v1m0 2v1m0 13v1m0 4v3m0 15v3m1-54v1m0 5v2m0 7v5m0 3v2m0 4v2m0 5v3m0 1v2m0 3v2m1-60v2m0 6v2m0 4v5m0 2v1m0 11v2m0 20v2m0 3v1m0 3v2m1-58v3m0 8v3m0 8v5m0 15v3m0 4v3m0 3v1m1-95v2m0 40v2m0 1v2m0 1v2m0 2v1m0 6v2m0 3v2m0 1v2m0 6v2m0 1v2m0 9v2m1-46v2m0 9v2m0 9v3m0 7v4m0 3v7m1-49v5m0 5v1m0 3v2m0 5v1m0 5v1m0 16v5m0 3v1m1-61v2m0 3v2m0 3v1m0 10v3m0 1v2m0 9v2m0 1v2m0 3v3m0 2v1m0 5v2m0 1v2m0 1v2m1-61v2m0 7v2m0 1v4m0 1v2m0 6v2m0 7v2m0 16v1m0 9v2m1-62v3m0 6v3m0 22v1m0 4v1m0 8v2m0 1v2m0 3v1m0 2v1m1-82v1m0 21v1m0 2v1m0 6v2m0 19v1m0 2v5m0 1v2m0 1v2m0 1v2m0 3v2m1-72v1m0 24v1m0 2v1m0 15v1m0 6v2m0 12v2m0 9v3m1-81v2m0 22v4m0 18v1m0 8v1m0 4v4m0 3v2m0 8v1m1-64v2m0 17v6m0 11v8m0 8v1m0 7v1m0 5v1m1-54v1m0 2v3m0 3v2m0 6v5m0 1v2m0 9v3m0 8v2m1-46v2m0 1v2m0 2v3m0 3v1m0 2v3m0 8v1m0 2v5m0 14v1m1-57v1m0 2v1m0 6v2m0 14v2m0 3v1m0 10v1m0 3v5m0 5v1m0 2v1m1-57v1m0 5v1m0 5v2m0 15v2m0 1v2m0 2v1m0 2v1m0 3v4m0 7v3m1-48v2m0 4v2m0 5v1m0 2v1m0 3v5m0 2v1m0 3v2m0 5v3m0 1v3m1-48v1m0 10v1m0 2v2m0 3v1m0 5v5m0 4v7m1-41v1m0 7v1m0 2v1m0 4v1m0 2v1m0 8v3m0 5v1m0 4v1m0 2v1m1-62v1m0 22v3m0 5v3m0 6v2m0 17v2m1-63v2m0 29v2m0 5v1m0 14v2m0 3v2m0 3v1m0 2v1m0 2v1m1-87v2m0 12v2m0 34v3m0 3v3m0 27v1m1-45v2m0 1v3m0 4v1m0 14v2m0 3v3m0 5v1m0 2v1m1-75v2m0 8v1m0 27v1m0 2v2m0 1v2m0 7v2m0 6v2m0 14v1m1-76v1m0 4v3m0 20v2m0 14v6m0 1v2m0 22v1m1-73v2m0 20v5m0 23v2m0 3v3m0 1v2m1-31v1m0 22v2m0 11v1m0 2v3m1-45v1m0 17v3m0 7v3m1-39v1m0 13v1m0 14v2m0 16v3m1-74v2m0 31v2m0 4v2m0 3v2m0 3v1m0 5v3m0 10v3m0 4v2m1-44v2m0 18v2m0 6v2m0 1v4m0 4v2m1-58v2m0 20v3m0 3v2m0 1v3m0 18v1m1-33v2m0 6v2m0 26v3m1-86v2m0 44v1m0 2v1m0 11v2m0 22v1m0 2v1m1-87v2m0 6v1m0 30v2m0 1v2m0 12v2m0 1v7m0 3v3m0 6v2m0 3v1m1-73v1m0 25v4m0 4v2m0 9v3m0 7v1m0 13v1m0 2v1m1-104v1m0 17v2m0 2v1m0 16v1m0 2v1m0 8v2m0 6v2m0 4v2m0 8v6m0 3v2m0 15v2m1-63v2m0 17v2m0 1v2m0 8v1m0 6v2m0 1v2m0 2v1m0 3v3m0 10v1m1-65v1m0 7v1m0 16v1m0 3v2m0 28v2m0 1v3m0 2v1m1-85v1m0 34v2m0 6v2m0 1v2m0 6v5m0 5v4m0 5v2m0 1v2m0 6v1m1-84v2m0 43v2m0 3v2m0 12v2m0 1v2m1-53v1m0 7v1m0 8v1m0 8v2m0 3v2m0 4v2m0 3v3m0 2v1m0 11v2m0 1v2m1-42v1m0 2v1m0 2v1m0 7v1m0 5v1m0 24v1m1-59v2m0 17v3m0 3v2m0 6v1m0 5v2m0 11v4m1-53v2m0 9v2m0 1v2m0 3v2m0 14v1m0 17v5m1-41v4m0 3v1m0 5v1m0 2v3m0 3v2m1-20v1m0 3v2m0 11v3m0 5v1m0 5v1m1-73v1m0 2v2m0 28v1m0 2v1m0 13v1m0 7v1m0 8v2m0 3v1m1-73v1m0 33v2m0 5v1m0 22v2m0 6v1m1-62v1m0 27v2m1-38v2m0 15v2m0 42v2m0 1v5m0 1v2m1-69v2m0 29v2m0 6v2m0 1v2m0 3v3m0 10v3m1-43v2m0 3v3m0 14v3m0 8v3m0 11v2m1-70v1m0 8v2m0 14v3m0 9v2m0 23v2m0 6v1m1-48v2m0 1v2m0 26v2m0 1v2m0 3v3m1-65v1m0 5v1m0 14v2m0 11v2m0 3v1m0 2v1m0 2v3m0 6v2m0 1v2m1-41v2m0 5v1m0 3v2m0 1v2m0 16v3m0 1v2m0 14v1m1-42v2m0 8v1m0 24v1m1-69v2m0 33v1m0 10v1m0 7v1m0 11v2m0 7v2m1-81v1m0 2v1m0 32v1m0 25v2m0 1v2m0 3v2m1-66v2m0 4v2m0 34v2m0 3v1m0 5v2m0 1v2m0 5v1m0 5v1m1-101v1m0 7v1m0 17v2m0 42v2m0 6v1m1-51v1m0 41v2m0 18v2m0 8v1m1-72v2m0 5v1m0 8v2m0 1v2m0 33v1m0 14v2m1-61v1m0 2v3m0 9v2m0 25v3m0 2v3m0 3v2m0 1v2m0 3v1m1-70v2m0 3v1m0 10v1m0 8v2m0 7v2m0 11v1m0 10v1m0 5v2m0 7v2m1-56v1m0 18v1m0 3v2m0 9v2m0 3v3m0 5v1m0 2v1m1-34v3m0 5v3m0 3v2m0 6v1m0 8v3m1-50v2m0 6v2m0 6v2m0 1v2m0 7v2m0 5v3m0 5v1m1-62v1m0 14v2m0 23v2m1-53v1m0 46v1m0 19v1m0 10v1m1-76v1m0 57v3m0 1v2m0 6v2m1-61v1m0 14v2m0 6v2m0 18v4m0 7v2m0 9v2m1-49v4m0 20v1m0 5v3m0 3v2m1-42v4m0 2v2m0 37v3m0 2v1m1-20v3m0 3v2m1-36v1m0 5v2m0 3v3m0 2v3m0 9v2m0 12v2m0 1v2m0 3v1m1-85v3m0 18v2m0 39v2m0 4v2m1 12v3m1-37v2m0 12v2m0 15v2m0 4v2m1-53v1m0 7v3m0 36v3m1-74v2m0 23v2m0 8v1m0 13v1m0 2v2m1-24v2m0 9v2m0 3v3m0 1v2m0 8v3m0 3v3m0 5v1m1-75v2m0 23v2m0 13v3m0 3v3m0 5v3m0 6v2m0 6v1m1-82v1m0 13v3m0 36v4m0 2v1m0 11v2m0 2v1m0 8v1m1-85v1m0 13v1m0 17v2m0 14v3m1-17v1m0 8v2m0 11v1m0 2v1m1-56v2m0 34v2m0 6v2m0 6v1m0 5v2m0 14v1m1-69v2m0 3v2m0 11v1m0 5v3m0 14v2m0 6v1m0 4v7m0 4v3m1-72v1m0 3v2m1 33v1m0 11v2m0 3v2m0 6v3m1-72v2m0 1v2m0 59v3m0 3v4m0 1v2m1-72v1m0 3v2m0 3v2m0 29v4m0 26v2m0 4v3m1-85v1m0 19v1m0 10v1m0 2v1m0 25v4m0 1v2m0 3v1m0 2v2m0 7v2m1-89v1m0 19v2m0 3v1m0 39v4m0 1v2m0 3v1m0 4v4m0 3v2m1-55v2m0 23v2m0 3v1m0 19v2m0 3v1m1-67v2m0 17v2m0 4v7m0 15v3m1-56v2m0 17v1m0 18v1m0 2v1m0 10v3m0 8v4m1-44v2m0 17v2m1-58v2m0 37v2m0 1v2m0 1v2m0 11v1m0 11v2m0 11v3m1-63v2m0 6v2m0 6v2m0 7v2m0 9v7m0 7v2m1-67v3m0 5v1m0 2v1m0 22v5m0 23v2m0 5v3m0 3v1m0 3v2m1-91v2m0 5v4m0 8v3m0 28v2m0 5v1m0 11v3m0 2v3m1-75v2m0 45v5m0 1v2m0 1v2m0 3v3m1-44v2m0 19v1m0 19v1m0 11v2m0 3v2m1-57v2m0 2v1m0 14v3m0 19v3m0 5v3m0 3v2m1-55v3m0 5v1m0 3v2m0 6v3m0 5v2m0 1v2m0 17v2m1-24v5m0 6v2m0 4v3m0 7v6m1-86v2m0 20v1m0 14v2m0 11v5m0 6v1m0 2v2m0 6v1m0 10v1m1-75v2m0 9v2m0 23v2m0 15v2m0 5v4m0 11v2m0 1v2m1-80v2m0 3v2m0 7v4m0 3v1m0 21v4m0 11v2m0 8v1m0 3v2m0 4v2m1-62v1m0 14v2m0 3v1m0 5v2m0 9v2m0 15v2m0 1v3m1-64v2m0 20v3m0 8v2m0 15v4m1-77v2m0 43v2m0 17v6m0 7v1m0 2v3m0 3v1m1-56v2m0 9v2m0 3v1m0 11v2m0 11v1m0 7v1m1-51v3m0 23v2m0 6v2m0 4v2m0 1v2m1-45v1m0 10v1m0 3v2m0 22v3m0 1v2m0 3v2m1 0v1m0 3v2m1-36v2m0 15v3m0 2v1m1-59v2m0 37v2m0 7v2m0 19v1m1-51v1m0 5v3m0 20v2m0 23v2m1-55v2m0 6v2m0 8v3m0 6v3m0 17v2m0 1v2m1-77v2m0 22v1m0 11v2m0 6v2m0 11v3m0 14v3m1-61v2m0 14v1m0 17v2m0 1v2m0 6v2m1-128v1m0 117v2m0 14v2m0 1v2m1-81v1m0 22v2m0 4v2m0 31v2m0 11v1m1-51v1m0 3v2m0 6v3m0 14v3m0 2v1m0 5v2m1-52v2m0 12v2m0 1v3m0 10v1m0 8v2m0 4v2m0 3v2m0 1v2m0 11v1m1-53v2m0 50v3m1-63v2m0 6v2m0 17v3m0 2v1m0 16v1m1-48v2m0 25v1m0 3v2m1-31v3m0 9v2m0 12v2m0 6v1m0 7v1m0 11v2m0 3v1m1-87v2m0 40v3m0 14v2m0 5v1m0 6v2m0 2v1m2-45v1m0 5v2m0 15v2m0 6v2m0 17v1m0 2v1m1-45v2m0 11v1m0 10v1m1-17v2m0 9v3m1-158v2m0 125v1m0 19v2m0 26v2m0 1v2m1-38v2m0 22v1m0 5v2m0 3v3m1-38v2m0 3v2m0 18v2m0 11v1m1-35v1m0 2v1m0 10v1m0 3v2m0 14v1m1-60v1m0 9v2m0 16v1m0 8v2m1 4v2m1-60v2m0 19v1m0 16v2m0 1v2m0 1v2m0 22v1m0 2v6m1-86v2m0 4v2m0 5v1m0 27v1m0 2v3m0 8v1m0 16v2m0 3v1m0 2v1m1-76v1m0 3v2m0 41v1m0 6v2m0 5v1m0 13v1m1-65v3m0 61v3m1-28v1m0 5v2m0 11v1m0 6v2m1-59v1m0 28v2m0 12v2m0 15v2m1-39v2m0 7v2m0 1v2m0 11v2m1-57v2m0 31v2m0 3v1m0 2v5m0 4v2m1-66v2m0 31v2m0 4v2m0 11v3m0 5v3m0 14v3m2-78v1m0 18v1m0 9v2m0 25v2m0 1v6m0 5v2m0 6v1m1-60v1m0 39v2m1-63v2m0 36v1m0 11v2m0 4v5m0 8v3m0 5v1m1-75v2m0 9v2m0 40v2m0 2v1m1-62v1m0 27v1m0 22v2m0 11v3m0 6v2m1-39v1m1 2v3m0 5v1m0 13v1m1-25v2m0 25v1m0 14v2m1-63v2m0 2v1m0 16v1m0 24v3m0 1v2m0 3v2m1-71v2m1 5v1m0 14v2m0 37v3m0 7v1m1-31v2m0 32v2m1-74v2m0 6v2m0 30v1m0 6v2m0 1v2m0 3v2m0 12v3m0 2v1m1-73v2m0 34v2m0 26v3m1-44v2m0 11v2m0 18v2m0 5v6m0 4v2m1-72v2m0 29v2m0 8v3m0 19v1m1-8v2m0 9v3m1-84v2m0 14v1m0 7v1m0 20v2m0 8v1m0 2v1m1-45v2m0 50v1m1-45v2m0 7v2m0 25v1m0 16v2m1-55v2m0 4v2m0 8v1m0 13v1m0 21v1m0 5v1m1-87v1m0 8v2m0 31v2m0 1v2m0 9v3m0 2v3m0 20v3m0 3v2m1-58v2m0 25v3m0 19v1m1-62v1m0 41v1m0 5v3m0 5v2m0 1v3m0 6v2m1-34v1m0 19v2m0 7v2m1-47v2m0 4v2m0 1v2m0 36v1m1-42v2m0 23v2m1-83v2m0 34v2m0 1v2m0 20v2m0 14v1m1-58v2m0 31v2m0 11v3m0 23v2m1-74v2m0 11v3m0 11v3m0 3v2m0 12v2m1-3v1m0 2v1m0 5v3m0 3v7m0 4v3m0 2v3m1-53v1m0 2v2m0 3v1m0 2v1m0 4v1m0 6v2m0 5v1m1-37v1m0 3v2m0 11v1m0 14v2m0 2v1m0 17v3m1-25v2m0 3v2m0 9v3m0 2v1m1-50v2m0 33v1m0 2v1m0 4v1m1-55v2m0 6v3m0 10v1m0 10v1m0 21v3m0 3v3m1-56v1m0 14v3m0 27v2m0 10v2m1-47v2m0 1v3m0 33v2m1-27v2m0 3v1m0 5v2m0 14v1m1-61v2m0 17v2m0 4v2m0 9v2m0 1v2m0 2v1m0 6v2m1-41v2m0 5v1m0 3v2m0 3v3m0 11v2m0 1v2m0 17v1m1-35v1m0 8v1m0 2v2m0 6v1m0 5v2m0 7v2m1-34v4m0 13v1m1-65v3m0 48v2m0 8v1m0 5v2m0 1v2m0 1v2m0 1v2m1-28v1m0 7v3m0 4v2m0 11v1m1-29v1m0 3v4m0 4v2m1-33v2m0 4v2m0 23v2m0 14v1m1-65v1m0 54v1m0 2v1m1-61v2m0 15v2m0 19v1m0 18v1m0 5v1m1-97v2m0 14v2m0 12v2m0 31v2m0 4v2m0 3v1m0 2v2m0 7v2m0 6v3m1-61v2m1-20v1m0 30v1m0 24v1m0 5v3m0 11v6m1-79v1m0 41v2m0 6v1m0 13v1m0 11v3m1-50v2m0 9v2m0 11v5m0 9v3m0 3v2m1-42v1m0 8v2m0 6v4m0 7v6m0 6v3m0 2v1m1-45v2m0 9v2m0 12v2m0 3v1m0 4v1m1-81v1m0 64v2m0 6v2m0 5v3m1-97v1m0 44v2m0 11v1m0 3v2m0 9v3m0 13v3m1-44v2m0 6v2m0 25v1m0 14v2m1-42v1m0 19v1m0 19v2m0 1v3m1-28v2m0 19v1m1-75v2m0 42v3m0 2v1m0 11v2m0 1v2m1-72v2m0 1v3m0 38v1m0 14v2m0 1v2m0 9v4m0 3v1m0 3v3m1-87v2m0 28v1m0 21v1m0 9v2m1-47v2m0 20v2m0 26v2m0 8v1m0 2v1m1-59v1m0 41v2m0 1v2m0 6v3m0 6v2m1-55v2m0 47v3m1-78v1m0 22v2m0 3v1m0 3v2m0 6v2m0 23v2m0 8v1m0 6v2m1-33v3m0 7v3m0 4v2m0 6v3m1-76v1m1 2v1m0 30v2m0 8v3m0 3v1m0 8v2m0 8v3m0 3v4m1-90v1m0 7v1m0 24v3m0 9v2m0 34v2m1-43v2m0 13v1m0 5v1m1-17v2m1-32v2m0 25v2m0 4v2m0 8v4m0 7v1m0 13v1m0 3v2m1-102v2m0 95v2m1-36v1m0 16v2m0 20v1m1-81v2m0 19v1m0 31v3m0 11v2m0 6v3m1-82v1m0 3v3m0 11v2m0 11v1m0 5v2m0 6v1m0 35v1m1-76v1m0 2v1m0 22v2m0 22v1m0 5v2m0 4v3m0 4v3m0 4v2m1-33v2m0 11v1m0 8v2m0 1v2m0 1v2m1-72v3m0 11v2m0 4v2m0 3v1m0 7v1m0 8v5m0 12v2m0 1v2m0 2v1m0 8v1m1-54v1m0 18v3m0 6v1m0 11v4m1-61v1m0 30v1m0 14v2m0 3v2m0 3v1m0 4v3m1-63v2m0 14v1m0 2v1m0 22v2m0 1v4m0 1v2m0 1v2m0 1v2m0 6v3m1-97v2m0 17v2m0 1v2m0 8v1m0 2v1m0 10v1m0 21v1m0 5v1m0 2v2m0 1v2m0 3v1m0 7v1m1-62v1m0 25v2m0 8v3m0 3v3m0 6v2m0 5v1m1-80v2m0 31v2m0 20v2m0 17v1m0 2v2m1-79v2m0 20v3m0 21v1m0 27v1m0 11v2m1-86v2m0 1v2m0 1v2m0 4v4m0 29v2m0 3v2m0 3v1m0 3v2m0 20v2m0 1v2m1-81v1m0 16v1m0 4v1m0 20v4m0 10v2m0 6v3m0 7v1m1-50v2m0 20v2m0 1v2m0 1v2m0 9v2m0 12v3m1-57v1m0 33v2m0 17v1m1-32v1m0 5v3m0 1v2m0 3v2m0 6v5m0 1v3m1-75v2m0 76v2m1-55v2m0 25v1m1-56v2m0 53v1m0 10v1m0 5v5m1-13v2m0 9v2m1-66v2m0 3v1m1 32v3m0 23v2m1-16v2m1-63v2m0 23v2m0 4v2m0 5v1m0 3v2m0 6v2m0 6v2m0 7v2m0 8v1m1-42v2m0 3v1m0 19v2m0 1v2m1-63v2m0 25v3m0 13v1m0 2v1m0 14v2m0 3v2m1-72v1m0 31v4m0 1v2m0 17v1m0 4v1m0 17v2m1-41v2m0 26v2m0 6v2m1-69v2m0 23v2m0 3v1m0 24v1m0 2v1m1-62v3m0 30v1m0 5v5m0 1v2m0 4v2m0 11v2m1-61v1m0 24v3m0 3v1m0 8v5m0 1v2m0 5v1m0 7v1m0 3v2m1-42v1m0 17v2m0 11v1m1-70v3m0 6v4m0 37v2m0 15v2m0 6v2m0 1v2m0 3v3m1-75v2m0 29v3m0 11v8m0 3v2m0 3v2m0 9v1m1-65v1m0 33v3m0 2v1m0 2v2m0 3v1m0 13v1m1-84v2m0 48v2m0 4v5m0 17v6m1-56v2m0 9v2m0 4v2m0 5v1m0 2v1m0 2v4m0 7v1m0 3v4m0 4v2m1-50v1m0 2v3m0 14v2m0 4v7m0 15v3m1-68v1m0 39v2m0 6v2m0 12v2m0 3v1m0 2v1m1-98v2m0 20v1m0 36v2m0 5v1m0 2v1m0 13v1m0 2v3m0 2v1m1-53v2m0 18v5m0 14v3m0 3v2m0 2v1m0 2v1m1-76v3m0 12v2m0 19v1m0 14v5m0 1v4m0 9v2m0 7v5m1-75v2m0 36v1m0 2v3m0 11v4m0 4v1m0 2v1m1-84v1m0 39v2m0 30v1m0 7v1m0 6v2m1-78v1m0 21v1m0 8v2m0 3v1m0 5v2m0 4v2m0 15v4m0 3v3m1-67v1m0 24v1m0 8v2m0 10v2m0 2v1m0 2v8m0 3v3m1-53v1m0 14v2m0 5v1m0 6v2m0 1v2m0 6v3m0 2v2m0 1v2m0 3v1m1-47v2m0 3v2m0 15v2m0 5v1m0 11v2m0 4v2m1-84v1m0 25v2m0 31v1m0 13v3m0 3v2m1-27v3m0 11v2m0 6v2m0 4v2m1-50v1m0 16v2m0 6v1m0 10v1m0 7v1m1-76v1m0 13v1m0 5v2m0 14v1m0 2v1m0 19v2m0 3v3m0 9v2m0 3v1m1-53v2m0 3v2m0 1v2m0 12v2m0 4v7m0 3v3m0 3v2m0 3v4m1-29v1m0 3v2m0 3v2m0 6v2m1-79v2m0 22v1m0 2v2m0 4v2m0 25v1m0 3v7m0 1v2m0 14v1m1-60v1m0 11v2m0 4v2m0 9v3m0 2v3m0 2v1m0 2v1m0 7v1m0 6v2m1-33v2m0 4v2m0 1v2m1-53v1m0 4v1m0 19v1m0 5v2m0 1v2m0 8v1m0 6v2m0 6v7m0 3v1m0 2v1m1-78v2m0 51v2m0 5v1m0 2v1m0 14v2m0 1v2m1-67v1m0 14v2m0 25v3m0 6v2m0 2v3m0 6v1m1-56v2m0 31v8m0 9v2m1-74v2m0 3v2m0 11v1m0 16v1m0 5v2m0 1v2m0 4v3m0 8v2m0 1v2m1-47v3m0 3v2m0 23v3m0 7v1m0 7v1m0 5v1m1-64v2m0 6v3m0 21v1m0 19v1m0 2v2m0 1v2m1-64v1m0 14v2m0 6v2m0 31v1m0 2v2m0 3v6m0 1v2m1-59v1m0 21v1m0 6v2m0 1v4m0 3v3m0 1v5m0 3v2m0 3v1m1-60v1m0 2v1m0 28v3m0 11v2m0 6v5m1-52v2m0 26v2m0 13v1m0 6v3m1-71v1m0 20v2m0 8v1m0 4v1m0 6v2m0 5v1m0 2v1m0 3v4m0 4v2m1-56v3m0 1v2m0 4v2m0 8v1m0 5v2m0 26v2m1-56v1m0 3v2m0 3v1m0 5v2m0 18v2m0 17v2m1-56v1m0 5v1m0 27v1m0 4v1m0 11v2m0 1v6m1-71v1m0 2v1m0 11v2m0 1v2m0 36v1m0 8v2m0 1v2m1-77v2m0 11v3m0 3v5m0 3v1m0 11v2m0 5v1m0 10v1m0 2v3m1-53v1m0 3v2m0 8v1m0 5v2m0 1v2m0 6v2m0 7v2m0 19v1m0 2v1m1-65v1m0 2v1m0 2v3m0 11v2m0 17v3m0 9v2m0 1v2m0 2v1m1-47v2m0 19v3m0 1v2m0 15v2m1-45v1m0 2v1m0 35v1m0 3v2m0 2v1m0 2v3m0 3v3m1-86v2m0 17v3m0 2v1m0 6v2m0 23v2m0 3v2m0 4v2m0 1v2m0 2v1m0 2v1m0 3v2m1-78v1m0 14v2m0 16v1m0 19v1m0 2v2m1-49v3m0 7v3m0 3v3m0 3v2m0 4v2m0 3v2m0 1v2m0 4v3m0 2v2m0 11v3m0 3v1m1-62v1m0 7v6m0 14v2m0 4v2m0 15v2m0 6v3m1-59v2m0 1v2m0 9v2m0 26v2m0 4v2m0 6v2m1-71v2m0 23v2m0 2v1m0 8v2m0 14v1m0 8v2m0 7v2m1-67v4m0 33v3m0 7v1m0 13v1m0 2v1m1-73v1m0 7v1m0 11v2m0 40v2m0 5v1m1-62v1m0 8v2m0 1v2m0 3v1m0 27v2m0 1v2m1-24v2m0 17v2m0 4v2m0 3v2m0 9v1m1-60v1m0 5v1m0 16v2m0 29v3m1-78v2m0 4v4m0 12v2m0 36v1m0 2v3m0 12v3m1-67v2m0 14v1m0 8v2m0 31v2m0 1v2m0 1v2m1-84v1m0 11v5m0 4v2m0 11v1m0 35v1m0 4v3m1-78v3m0 17v1m0 11v2m0 11v1m0 2v2m0 17v1m1-56v3m0 11v2m0 7v4m1-29v2m0 17v2m0 6v2m0 14v3m0 3v1m0 7v1m0 2v1m0 5v2m1-69v1m0 10v1m0 13v1m0 15v1m0 6v2m0 8v3m0 8v1m0 3v3m1-156v2m0 89v1m0 4v1m0 24v1m0 3v2m0 15v4m0 1v2m0 3v1m1-67v2m0 3v1m0 2v2m0 1v3m0 3v2m0 16v1m0 11v3m0 2v1m0 2v1m0 5v2m0 4v2m1-75v1m0 2v2m0 11v1m0 25v2m0 4v2m0 3v2m0 4v2m0 3v2m0 9v1m1-70v2m0 3v1m0 7v3m0 6v2m0 18v2m0 1v2m0 2v1m0 2v3m0 6v2m1-49v3m0 10v1m0 2v1m0 18v1m0 3v2m0 11v1m1-51v1m0 2v1m0 2v2m0 18v2m0 1v4m0 3v1m1-50v2m0 6v2m0 9v3m0 2v3m0 3v3m0 5v1m0 2v1m0 2v2m0 4v2m0 8v1m0 2v1m1-84v2m0 26v3m0 10v1m0 5v1m0 4v6m0 4v2m0 2v4m0 8v3m0 2v3m1-74v2m0 9v4m0 3v1m0 3v2m0 33v6m1-44v2m0 1v2m0 1v2m0 3v2m0 17v1m0 2v2m0 3v1m1-58v4m0 3v1m0 5v2m0 7v2m0 9v2m0 5v1m0 3v2m0 6v2m1-38v2m0 14v6m0 28v2m1-60v5m0 16v1m0 5v1m0 5v8m0 5v1m0 3v2m0 5v3m0 3v1m0 2v1m1-67v2m0 12v3m0 2v2m0 3v1m0 2v5m0 3v3m0 1v2m0 5v1m0 5v3m1-23v1m0 19v1m0 2v5m0 6v1m1-51v1m0 2v2m0 9v3m0 3v3m0 2v1m0 15v4m0 5v1m1-64v2m0 9v2m0 9v2m0 5v1m0 6v3m0 2v3m0 17v2m1-61v2m0 9v3m0 3v2m0 1v2m0 1v2m0 3v2m0 1v2m0 3v1m0 4v1m0 13v4m1-64v2m0 26v4m0 1v3m0 21v6m0 3v1m1-71v1m0 10v1m0 14v2m0 3v1m0 10v3m0 6v2m1-3v1m0 2v3m0 8v3m1-86v1m0 52v2m0 15v2m0 6v2m0 3v1m0 2v1m1-51v1m0 14v2m0 8v1m0 3v2m0 2v1m1-62v1m0 49v1m0 6v2m0 5v1m0 5v2m1-18v2m0 3v2m0 1v3m0 11v2m1-80v2m0 25v4m0 16v2m0 18v2m0 1v2m1-59v1m0 13v1m0 30v1m0 7v1m0 3v2m0 6v2m0 3v1m1-82v1m0 17v2m0 30v1m0 10v3m0 3v5m1-46v2m0 19v1m0 8v1m0 8v2m1-67v1m0 64v2m0 1v2m1-44v2m0 1v2m0 31v3m0 8v2m1-82v2m0 3v2m0 3v1m0 25v2m0 8v1m0 25v2m0 8v1m1-12v1m0 7v1m1-19v2m0 3v3m2-67v2m0 18v2m0 33v1m0 5v1m0 18v1m0 3v2m1-94v2m0 11v3m0 42v2m0 10v2m0 11v2m0 7v2m1-50v1m0 8v5m0 14v3m0 3v2m0 1v2m1-16v2m0 1v2m1-5v2m1-53v1m0 10v1m0 21v3m0 20v2m0 4v2m0 8v1m0 5v1m1-84v2m0 43v2m0 8v1m0 2v1m0 8v2m1-70v3m0 23v2m0 23v2m1-27v2m0 29v2m0 23v2m1-86v2m0 62v2m0 1v2m1-53v3m0 15v2m0 25v1m1-292v2m0 8v3m0 223v3m0 24v1m0 3v2m1 3v2m0 4v2m0 16v3m0 6v2m0 7v2m1-84v3m0 43v2m0 9v2m0 5v1m0 6v2m1-28v1m0 27v2m0 1v3m1-67v2m0 37v3m0 6v4m0 3v3m0 5v1m0 2v1m0 6v2m1-87v1m0 22v2m0 15v3m0 14v2m0 9v3m1-46v1m0 45v2m0 6v2m0 1v2m1-88v2m0 17v2m0 31v2m0 7v2m0 9v2m0 8v1m1-70v1m0 5v2m0 15v2m0 20v3m0 13v1m0 4v1m1-59v1m0 21v3m0 34v2m1-39v1m1-48v1m0 25v2m0 56v2m1-63v2m0 22v1m0 16v1m0 2v1m0 13v2m1-63v2m0 26v2m0 8v1m1-36v2m0 4v4m0 42v1m0 14v2m1-58v2m0 3v1m0 8v2m0 42v1m1-81v2m0 9v2m0 33v1m0 3v2m0 9v3m0 13v1m1-53v2m0 39v1m1-62v1m0 25v2m0 13v1m0 2v1m0 6v4m0 1v2m0 8v1m0 3v2m1-50v1m0 8v3m0 13v1m1-68v1m0 13v1m0 2v1m0 10v3m0 1v2m0 9v2m0 11v1m0 4v1m0 3v3m0 27v3m1-75v2m0 18v2m0 16v3m0 3v1m0 27v1m1-20v2m1-41v2m0 26v2m0 1v2m0 3v2m1-4v2m1-61v2m0 26v2m0 12v2m0 25v1m0 2v5m0 3v1m1-87v1m0 32v1m0 5v1m0 18v1m0 11v2m0 1v2m0 8v1m1-36v3m0 10v3m0 22v1m2-51v1m0 32v1m0 19v1m1-68v1m0 7v3m0 6v1m0 19v2m0 6v2m0 6v1m0 13v1m1-21v1m0 2v3m0 3v3m1-67v1m0 4v1m0 16v1m0 8v3m0 21v1m0 3v2m0 6v2m0 4v2m1-92v1m0 44v3m0 8v3m0 2v1m0 5v1m0 13v3m1-17v1m0 21v1m1-82v1m0 3v2m0 54v2m0 9v2m0 6v2m1-86v1m0 30v2m0 17v3m0 12v4m0 7v4m0 6v1m1-86v2m0 14v2m0 43v2m0 9v2m0 12v2m1-31v1m0 2v1m0 27v3m1-45v1m0 8v2m0 3v1m0 14v4m0 10v2m1-53v1m0 18v4m0 3v2m0 3v2m0 3v1m1-43v1m0 3v2m0 3v2m0 9v2m0 15v2m0 8v1m0 8v1m1-89v2m0 19v1m0 14v2m1 20v3m0 5v2m0 1v2m0 3v3m1-44v2m0 12v2m0 20v2m0 15v2m1-45v1m0 3v2m0 17v3m0 5v3m0 6v2m1-63v2m0 23v2m0 14v1m0 13v2m1-41v1m0 18v1m0 5v1m0 15v3m1-66v2m0 9v2m0 40v2m0 9v2m1-100v1m0 35v1m0 39v2m0 9v3m0 2v3m0 3v2m0 4v2m1-69v2m0 14v1m0 52v1m1-82v1m0 42v2m0 27v1m0 2v4m1-20v2m0 14v1m1-87v1m0 13v1m0 55v2m0 18v2m1-69v2m0 1v3m0 2v2m0 21v2m0 16v3m0 3v1m0 5v2m0 3v1m1-54v1m0 5v1m0 21v1m0 5v2m0 21v2m1-42v1m0 8v2m0 12v3m0 11v2m1-81v1m0 71v1m0 2v3m1-91v2m0 3v1m0 14v2m0 9v2m0 31v2m0 4v2m0 6v2m0 6v2m0 1v2m0 1v2m1-75v1m0 44v2m0 8v1m0 11v2m0 4v2m1-80v2m0 4v2m0 3v2m0 15v2m0 14v2m0 6v1m0 5v2m0 4v2m0 6v2m0 4v2m1-75v1m0 35v1m0 8v2m0 11v1m0 16v1m1-71v1m0 17v2m0 47v1m0 3v2m1-50v2m0 12v2m0 9v2m0 3v1m0 5v2m0 1v2m0 1v2m0 1v5m1-58v2m0 6v2m0 17v1m0 2v1m0 7v1m0 16v3m1-89v3m0 67v2m0 1v2m1-72v2m0 18v2m0 6v2m0 40v4m0 9v1m1-54v1m0 25v3m0 2v2m0 1v2m0 4v2m0 3v2m0 1v2m1-30v2m0 1v2m0 3v1m0 5v2m1-77v2m0 1v2m0 19v1m0 10v1m0 20v2m0 22v1m0 7v3m0 4v2m1-50v2m0 15v2m0 3v1m0 16v5m0 1v2m1-147v2m0 61v1m0 13v1m0 5v3m0 27v1m0 6v2m0 1v2m0 8v1m1-67v2m0 28v1m0 21v3m0 8v1m0 2v1m0 8v2m1-88v2m0 8v1m0 24v1m0 16v1m0 13v5m0 11v1m0 2v1m0 2v4m1-104v1m0 28v2m0 22v1m0 22v2m0 12v2m0 6v2m1-24v5m0 13v1m1-19v2m0 6v2m0 8v1m0 3v2m1-49v2m0 6v2m0 25v1m0 2v3m0 3v2m0 7v2m1-94v2m0 3v3m0 3v2m0 17v2m0 15v2m0 39v1m1-84v2m0 34v1m0 2v2m0 7v2m0 16v1m0 3v2m1-38v2m0 42v3m1-69v2m0 16v1m0 14v2m0 6v2m0 15v2m1-64v1m0 41v2m0 4v2m0 6v2m0 11v1m0 9v2m1-69v2m0 8v1m0 10v1m0 2v1m0 14v3m0 8v2m0 11v1m1-72v2m0 25v3m0 2v1m0 2v1m0 5v2m0 3v3m0 3v3m0 5v1m0 2v2m1-58v1m0 14v2m0 5v4m0 25v3m0 8v2m1-72v1m0 46v1m1-53v6m0 4v1m0 17v3m0 4v1m0 3v2m0 8v1m0 2v1m0 7v1m0 5v1m1-76v1m0 10v3m0 22v1m0 8v3m0 27v1m1-26v1m0 2v2m0 6v1m0 11v2m0 8v1m1-78v2m0 12v2m0 9v2m0 1v2m0 14v1m0 5v2m0 7v2m0 3v3m0 13v1m1-45v2m0 26v2m0 9v2m0 6v1m1-53v2m0 22v1m0 3v4m1-75v1m0 11v2m0 14v1m0 21v1m0 14v2m0 1v3m0 2v2m0 3v1m0 10v4m1-53v2m0 25v1m0 2v1m0 7v3m1-58v2m0 6v1m0 22v2m0 5v3m0 1v2m0 1v2m0 5v3m0 3v3m0 3v3m1-72v2m0 17v2m0 17v1m0 5v2m0 1v2m0 9v3m0 5v3m1-84v1m0 66v1m0 2v3m0 2v1m0 7v1m0 5v3m1-88v2m0 41v1m0 8v2m0 18v5m0 6v2m1-72v1m0 58v2m0 3v2m0 4v2m1-89v1m0 27v1m0 21v1m0 10v1m0 2v1m0 8v2m0 3v1m1-70v2m0 29v3m0 15v1m0 5v1m0 8v2m0 14v1m1-31v2m0 6v1m0 2v2m0 3v1m0 5v2m0 3v1m1-89v2m0 17v1m0 41v2m0 1v2m0 4v2m0 2v3m1-67v1m0 8v1m0 32v3m0 3v2m0 3v1m0 2v1m0 7v1m0 2v1m0 14v3m1-103v2m0 1v2m0 30v1m0 30v2m0 4v2m0 1v2m0 3v3m0 19v1m1-60v1m0 24v3m0 6v1m0 2v2m0 12v2m0 3v1m1-97v2m0 8v1m0 16v2m0 26v2m0 11v1m0 3v3m0 7v1m0 5v2m1-75v1m0 5v1m0 10v1m0 17v2m0 6v2m0 5v1m0 5v1m0 2v1m0 10v1m0 4v3m1-82v2m0 16v1m0 20v2m0 6v2m0 14v1m0 13v5m0 3v1m1-57v1m0 14v2m0 15v2m0 12v4m1-30v1m0 19v2m0 1v2m0 15v2m1-44v3m0 7v1m0 3v2m0 1v7m0 12v2m0 1v3m1-85v1m0 41v1m0 2v1m0 11v3m0 8v2m0 5v1m0 2v1m0 5v1m1-79v1m0 52v1m0 8v2m0 5v3m0 6v1m1-98v2m0 53v1m0 10v3m0 1v2m0 3v3m0 2v3m0 11v1m0 3v2m1-94v2m0 22v1m0 32v1m0 2v1m0 16v1m0 10v1m0 3v2m1-97v2m0 22v1m0 35v1m0 2v1m0 25v3m0 2v1m1-118v1m0 3v2m0 66v1m0 2v1m0 2v3m0 22v1m1-134v2m0 64v1m0 3v2m0 12v2m0 17v2m0 8v1m0 3v3m0 7v1m0 13v1m1-58v4m0 10v2m0 2v1m0 5v1m0 21v1m1-58v2m0 22v3m0 2v1m0 2v1m0 3v2m0 5v1m0 6v4m0 3v1m0 5v3m0 3v3m1-100v2m0 59v2m0 23v2m0 3v3m1-80v2m0 23v2m0 2v1m0 2v3m0 3v1m0 10v3m0 3v5m0 12v2m0 3v2m0 1v2m0 1v2m1-86v1m0 18v1m0 24v3m0 8v1m0 2v1m0 6v2m0 2v3m0 12v2m0 1v2m1-70v1m0 11v2m0 20v2m0 3v1m0 10v1m0 2v3m0 5v1m0 8v1m1-98v2m0 36v1m0 6v3m0 29v1m0 13v1m0 3v2m1-69v2m0 11v1m0 8v3m0 2v1m0 2v3m0 5v1m0 5v1m1-70v2m0 18v4m0 42v1m0 3v2m0 2v1m0 5v1m0 7v1m0 5v1m1-89v2m0 30v1m0 3v2m0 14v5m0 12v2m0 6v2m1-54v2m0 8v1m0 10v6m0 2v1m0 2v1m0 8v2m0 4v2m0 6v2m0 1v2m0 1v2m0 1v2m1-62v1m0 3v2m0 6v5m0 9v2m0 6v1m0 7v1m0 2v1m0 2v2m1-93v2m0 51v2m1-50v2m0 15v2m0 9v2m0 9v2m0 7v2m0 14v2m0 1v2m0 14v1m0 7v1m1-104v1m0 5v1m0 14v2m0 3v2m0 17v1m0 18v1m0 2v4m0 10v3m0 9v2m0 9v3m1-90v1m0 16v1m0 10v5m0 9v6m0 3v2m0 26v2m1-55v2m0 15v2m0 2v4m0 3v2m0 3v3m0 13v1m0 2v1m0 11v2m1-49v5m0 8v2m0 14v1m0 2v3m0 8v1m0 3v2m1-106v3m0 4v2m0 8v1m0 18v3m0 4v2m0 2v1m0 8v1m0 18v3m0 3v1m0 4v1m0 2v3m0 3v3m1-80v2m0 20v2m0 22v1m0 16v1m0 5v3m0 3v2m1-78v1m0 38v3m0 30v1m0 2v1m0 4v1m0 5v4m1-98v2m0 28v1m0 3v2m0 11v5m0 21v2m1-83v3m0 5v2m0 15v2m0 3v1m0 2v2m0 4v2m0 1v2m0 3v2m0 12v3m0 2v1m0 2v5m0 11v3m0 9v2m0 1v2m0 1v2m1-91v5m0 16v3m0 3v3m0 23v2m0 11v1m0 4v1m0 5v1m0 11v3m1-78v2m0 20v3m0 16v3m0 6v3m0 7v1m0 2v5m0 3v1m0 6v2m1-66v2m0 3v2m0 1v2m0 1v3m0 2v2m0 1v3m0 5v2m0 7v2m0 12v2m1-48v1m0 28v2m0 4v2m0 11v2m0 7v2m1-97v3m0 3v2m0 11v1m0 3v2m0 5v1m0 17v2m0 3v2m0 17v3m0 2v3m0 3v1m0 10v1m1-76v1m0 5v3m0 13v1m0 6v2m0 13v4m0 6v2m0 6v5m0 9v2m1-77v2m0 23v2m0 1v2m0 9v2m0 2v4m0 5v1m0 2v3m0 6v2m1-83v2m0 1v2m0 6v2m0 14v3m0 11v3m0 6v2m0 8v1m0 5v1m0 3v2m0 3v3m0 11v2m1-66v2m0 17v1m0 13v2m0 7v3m0 7v1m0 2v1m1-78v3m0 18v1m0 41v1m0 11v2m1-38v2m0 5v3m0 15v2m0 16v1m1-66v2m0 27v1m0 3v2m0 1v2m0 16v3m0 11v1m0 5v1m1-103v2m0 45v2m0 4v2m0 3v2m0 9v2m0 9v2m0 1v5m0 1v2m0 12v2m1-111v2m0 4v3m0 29v1m0 2v1m0 17v2m0 2v4m0 5v3m0 5v1m0 7v1m0 5v1m1-37v1m0 2v2m0 9v2m0 1v2m0 12v2m0 6v2m0 3v1m1-78v2m0 1v2m0 4v4m0 37v3m0 2v1m0 3v2m0 2v1m0 8v2m1-57v2m0 3v2m0 4v5m0 1v4m0 3v3m0 1v4m0 1v2m0 1v2m0 3v3m0 2v4m0 3v4m0 4v2m1-80v2m0 15v2m0 5v1m0 27v3m0 3v3m0 6v3m0 2v2m1-74v2m0 15v2m0 6v3m0 3v2m0 1v2m0 5v3m0 5v1m0 2v1m0 2v1m0 11v2m0 11v1m1-75v2m0 8v1m0 22v3m0 3v4m0 6v1m0 8v2m0 9v6m1-81v2m0 4v2m0 14v2m0 1v2m0 4v2m0 22v1m0 7v1m0 6v2m0 2v1m1-81v1m0 2v2m0 26v5m0 3v1m0 11v2m0 6v5m0 9v2m0 9v2m1-61v3m0 3v3m0 10v1m0 6v2m0 3v3m0 2v1m0 22v5m1-103v1m0 19v2m0 12v2m0 4v2m0 5v1m0 6v2m0 3v2m0 3v1m0 2v2m0 1v2m0 3v1m0 3v4m0 3v1m0 3v2"/>
<path stroke="#ffe500" d="M105 583v2m0 25v2m0 3v1m0 2v1m0 10v1m0 28v2m1-58v5m0 51v2m0 8v1m1-43v1m0 10v1m1 14v3m1-54v1m0 11v2m0 31v5m0 17v1m1-93v1m0 19v1m0 15v1m0 19v1m0 33v5m1-83v3m0 28v2m0 6v5m0 26v2m0 2v1m1-58v2m0 17v2m0 7v2m0 14v2m0 4v2m0 5v1m0 2v1m1-67v2m0 12v3m0 36v5m0 3v3m1-31v1m0 4v1m0 3v3m0 2v1m0 5v2m0 1v2m1-80v2m0 11v1m0 41v3m1-50v2m0 25v1m0 2v1m0 8v2m0 7v2m0 2v1m0 8v1m0 4v4m0 11v3m0 2v1m1-50v2m0 17v2m0 6v2m0 4v2m0 3v2m1-71v2m0 59v2m0 12v3m1-40v1m0 7v1m0 3v2m0 1v2m1-13v4m0 7v2m0 5v1m0 6v2m0 11v1m1-87v2m0 45v1m0 2v2m0 10v2m0 2v3m0 3v1m0 14v2m1-89v2m0 28v1m0 11v3m0 13v3m0 1v2m0 2v1m0 2v1m0 5v2m0 3v3m1-100v1m0 55v3m0 8v3m0 9v2m1-12v1m0 2v1m1-37v1m0 25v3m0 7v1m0 6v4m0 3v1m0 7v1m0 2v1m1-61v3m0 43v3m0 3v1m0 4v3m0 1v2m1-72v1m0 16v2m0 14v1m0 35v1m0 5v1m1-62v2m0 12v2m0 1v3m0 13v3m0 6v2m0 6v2m0 3v1m0 2v3m1-58v2m0 15v2m0 1v2m0 6v2m0 4v2m0 6v2m1-75v1m0 4v1m0 2v1m0 50v2m0 9v2m0 4v2m0 3v2m1-35v3m0 36v2m1-61v2m0 4v5m0 14v3m0 9v4m0 1v2m1-60v2m0 30v1m0 5v1m0 4v1m0 3v5m0 14v2m0 7v3m1-81v3m0 7v1m0 17v2m0 34v2m0 9v2m1-47v1m0 4v1m1-47v2m0 15v2m0 20v2m0 11v1m0 33v2m0 1v2m1-83v2m0 14v1m0 24v3m0 1v2m0 6v2m0 6v2m1-50v1m0 14v2m0 3v1m0 10v1m0 25v2m0 11v1m1-68v1m0 3v2m1 12v2m0 8v1m0 5v3m0 5v1m1-25v2m0 13v1m0 22v2m1-50v1m0 5v1m1-36v2m0 37v4m0 1v3m0 2v1m0 19v2m0 14v3m1-75v1m0 33v2m0 1v2m1-23v1m0 13v1m1-22v2m0 5v1m0 3v2m0 1v2m0 9v2m0 28v2m0 7v3m1-68v1m0 5v2m0 14v3m0 4v2m0 16v3m0 4v2m0 8v1m1-65v1m0 21v1m0 31v7m0 6v1m1-71v1m0 5v1m0 25v2m0 12v2m0 8v3m0 8v3m1-72v2m0 17v1m0 24v1m1-65v1m0 60v1m1-22v2m0 1v2m0 9v2m0 36v1m1-73v3m0 3v2m0 25v1m0 21v1m0 3v2m1-63v2m0 20v2m0 1v2m0 11v2m0 17v1m1-59v1m0 38v2m0 29v2m1-91v2m0 51v2m0 5v1m0 19v3m0 8v1m1-78v2m0 15v4m0 45v1m0 2v2m0 6v1m1-79v1m0 49v4m0 22v2m0 3v1m1-42v2m0 5v1m0 6v2m0 12v4m0 4v2m1-88v2m0 61v1m0 7v3m1-16v2m0 1v2m0 6v2m0 3v3m0 6v3m0 6v2m1-37v3m0 7v2m0 8v1m0 4v3m1-68v2m0 8v1m0 5v3m0 11v2m0 3v1m0 8v2m0 11v1m0 5v6m1-45v1m0 8v2m0 33v1m0 2v4m1-81v2m0 22v1m0 19v2m0 1v3m0 2v1m0 2v1m0 21v4m1-70v2m0 48v2m0 3v1m0 4v3m1-86v3m0 19v1m0 14v2m0 23v3m0 7v1m0 20v2m1-87v1m0 5v3m0 25v1m0 8v2m0 11v1m0 5v2m1-83v1m0 30v2m0 23v2m0 4v2m0 11v1m1-34v3m0 2v3m0 6v2m0 12v2m0 3v4m1 5v2m0 9v2m0 4v2m1-19v2m0 3v1m0 5v2m0 6v1m1-20v5m0 14v1m1-107v1m0 38v1m0 16v1m0 11v2m0 2v1m0 8v3m1-67v1m0 24v1m0 11v2m0 11v1m0 2v2m0 7v2m1-31v1m0 13v1m0 3v2m0 8v1m0 3v2m0 3v2m0 14v3m2-44v2m0 23v2m0 12v2m0 3v1m1-101v1m0 77v2m0 17v1m0 2v1m1-37v2m0 14v1m0 17v2m1-89v1m0 14v2m0 2v1m0 49v1m1-65v1m0 30v1m0 7v1m0 20v2m0 6v2m1-81v1m0 25v2m0 37v2m0 1v2m0 19v3m1-80v3m0 6v2m0 25v2m0 14v1m1-54v1m0 19v1m0 47v2m1-36v1m0 13v3m0 8v1m1-34v3m0 8v2m0 40v2m1-77v3m0 44v2m0 4v2m0 5v1m0 8v2m1-46v2m1-21v2m0 6v2m0 3v5m0 9v2m0 39v1m0 2v1m0 2v1m1-75v2m1 19v1m0 18v1m0 6v2m0 1v2m0 5v1m0 10v4m1-76v1m0 7v1m0 17v2m0 9v3m0 4v1m0 2v1m0 8v2m1-60v2m0 1v2m0 66v1m0 3v2m1-91v2m0 26v2m0 26v2m1-31v1m0 10v1m0 10v1m0 22v2m0 11v6m1-89v1m0 36v3m0 22v2m0 8v1m0 13v3m1-78v1m0 64v2m0 8v1m0 6v2m1-83v2m0 9v2m0 15v2m0 11v1m0 19v2m0 15v2m1-16v2m0 1v2m0 2v1m1-62v1m0 45v2m0 3v2m0 3v3m0 3v3m0 6v2m1-53v1m1-40v1m0 39v2m0 25v2m0 21v2m1-103v1m0 82v1m1-53v2m0 8v1m0 19v1m0 8v2m0 4v8m0 8v2m1-66v2m0 26v2m0 4v2m1-22v2m0 39v1m0 5v2m1-57v2m0 14v1m0 8v2m0 12v2m0 17v2m0 1v2m1-63v2m0 36v1m0 19v2m0 1v2m0 4v2m2-86v2m0 68v2m1-75v2m0 32v2m0 28v2m0 6v1m0 2v2m1-11v1m0 6v2m1-53v1m0 41v2m1-14v1m0 11v2m1-52v2m0 45v1m0 8v2m1-49v2m0 16v1m0 22v5m0 8v1m0 6v2m1-22v2m0 18v2m1-78v1m0 10v1m0 42v2m0 9v2m0 2v1m1-78v2m0 18v2m0 6v2m0 15v2m0 19v1m0 13v3m1-88v2m0 39v1m1 5v3m0 14v2m0 6v2m0 3v1m1-1v1m0 8v2m1-17v1m0 16v3m1-58v2m0 6v1m0 21v1m1-31v2m0 1v2m0 33v1m0 5v1m0 7v1m1-90v1m0 33v2m0 32v2m0 9v2m0 9v2m1-56v1m0 27v1m1-72v2m0 1v2m0 17v2m0 23v2m0 26v2m0 14v2m1-8v1m0 14v2m1-74v2m0 55v1m0 5v3m1-12v1m0 2v3m0 9v2m0 4v2m1-22v2m0 15v3m1-60v1m0 44v1m0 13v1m1-17v2m0 3v2m0 9v1m1-45v2m1-5v2m0 3v1m2-45v2m0 65v2m0 12v5m1-41v2m0 6v2m0 9v2m0 3v1m0 17v2m1-84v3m0 9v2m0 28v1m0 30v2m0 6v1m1-39v2m0 19v4m0 8v2m0 1v3m1-56v2m0 3v1m0 19v2m0 23v2m1-38v2m0 11v1m0 8v2m1-17v1m1 8v1m0 5v2m0 3v1m2-70v2m0 37v2m0 25v1m0 17v2m1-66v2m0 12v2m0 6v2m0 9v2m0 17v2m0 6v1m1-125v2m0 50v1m0 27v2m0 26v2m1-42v1m0 9v2m0 16v1m0 13v1m0 11v2m0 4v2m1-53v1m0 16v2m0 9v2m0 12v2m0 7v2m1-84v1m0 31v2m0 17v2m1-24v2m0 1v2m0 20v2m0 5v1m0 8v3m3-81v1m0 32v1m0 3v2m0 23v3m1-65v1m0 30v2m0 23v2m0 4v2m0 1v2m0 6v3m1-28v2m0 15v2m0 20v2m1-42v1m0 2v1m0 29v1m0 3v2m1-72v1m0 38v2m0 6v1m1-1v1m0 27v1m1-106v2m0 61v3m0 23v3m0 5v2m0 7v2m1-42v1m0 5v2m2-30v2m1-19v1m0 2v1m0 27v2m0 18v3m0 7v1m0 5v2m0 6v3m1-58v2m0 11v3m1 9v2m0 3v1m0 27v1m1-28v2m0 6v2m0 15v3m1-104v1m0 69v2m0 18v2m1-56v1m0 8v3m0 17v2m0 17v2m0 14v1m0 2v1m1-89v2m0 14v2m0 12v2m0 18v2m0 9v2m0 8v1m0 2v1m0 2v2m1-61v1m0 11v2m0 22v3m0 15v2m0 6v2m1-82v2m0 83v6m1-89v2m0 43v2m0 5v1m0 6v2m0 9v2m1 3v2m1-50v1m0 8v1m0 7v1m0 24v1m1-36v2m0 19v1m0 11v3m1-39v2m0 14v1m0 2v2m1-65v2m0 56v2m1 0v3m0 36v1m1-90v1m0 35v1m0 19v2m0 23v2m1-27v5m1-77v2m0 48v2m0 4v2m0 6v2m0 6v2m0 11v6m1-20v1m1-30v2m0 16v1m0 3v2m0 8v1m0 13v1m0 5v2m1-49v2m0 31v1m0 13v2m1-99v2m0 7v2m0 30v1m0 10v1m0 10v1m0 8v2m0 4v2m0 15v4m0 1v2m1-68v2m0 13v1m0 3v2m0 12v2m0 14v1m0 8v2m1-64v1m0 35v1m0 7v1m0 11v2m0 1v2m0 1v2m0 9v2m1-50v1m0 19v3m0 3v2m1-53v1m0 28v2m0 5v1m0 8v2m0 6v1m0 2v2m1-93v2m0 42v2m0 9v2m0 18v2m0 23v2m0 6v5m1-49v2m0 3v3m0 17v2m0 14v2m1-86v1m0 36v2m0 39v1m0 5v2m0 3v1m1-86v2m0 8v1m0 39v2m0 14v2m1-54v2m0 14v2m0 15v2m0 8v1m0 10v1m0 3v3m0 5v3m0 3v2m1-53v1m0 13v1m1-21v1m0 14v2m0 4v2m0 20v2m0 1v2m0 9v2m1-81v1m0 17v2m0 20v2m0 1v2m0 8v1m1-62v1m0 24v3m0 8v1m0 8v2m0 3v1m0 32v1m1-76v1m0 36v2m0 1v2m0 17v2m0 4v3m0 11v2m1-3v1m1-32v3m0 11v3m0 8v1m0 3v2m0 1v3m1-92v2m0 15v2m0 11v2m0 1v2m0 1v2m0 14v1m0 7v1m0 6v2m0 2v3m0 9v3m1-97v2m0 9v2m0 37v2m0 20v2m0 4v2m0 2v3m0 8v1m0 6v5m1-95v1m0 19v2m0 6v1m0 8v3m0 30v2m0 1v2m0 1v2m0 3v2m0 1v3m1-83v2m0 5v1m0 33v2m0 1v2m0 22v1m0 2v1m0 5v3m1-67v1m0 19v2m0 22v1m0 24v1m1-56v2m0 10v5m0 6v5m0 5v1m0 16v2m0 3v1m0 2v1m0 2v1m1-81v2m0 28v3m0 5v1m0 22v5m0 6v2m1-49v2m0 8v3m0 4v2m0 17v2m1-30v2m0 3v1m0 5v2m0 12v2m0 17v1m0 2v1m1-71v1m0 16v1m0 2v1m0 16v2m0 9v8m0 1v2m0 11v1m1-101v1m0 18v1m0 25v2m0 8v3m0 9v2m0 14v3m0 3v2m0 6v1m1-36v2m0 12v4m0 9v2m1-50v1m0 13v3m0 39v1m1-54v4m0 43v1m0 2v6m1-58v2m0 1v3m0 3v2m0 5v1m0 11v2m0 4v2m0 17v2m0 1v2m1-61v3m0 3v2m0 1v2m0 6v2m0 28v1m0 7v1m0 2v3m1-55v2m0 1v2m0 41v1m0 8v3m1-64v2m0 9v1m0 4v3m0 12v2m0 3v1m0 8v2m0 1v2m0 2v1m0 5v1m1-64v3m0 5v3m0 8v5m0 18v2m0 13v1m0 2v1m1-78v2m0 17v1m0 8v2m0 1v2m0 1v2m0 8v1m0 14v2m0 3v2m0 1v5m0 2v1m0 8v1m1-64v2m0 25v2m0 26v2m1-80v2m0 20v3m0 20v3m0 2v2m0 14v1m0 3v5m0 3v2m1-58v3m0 2v1m0 2v3m0 1v2m0 6v2m0 18v2m0 11v3m0 6v2m1-58v2m0 3v1m0 10v1m0 8v3m0 13v1m0 2v1m0 13v1m1-51v1m0 15v1m0 3v2m0 3v3m0 2v1m0 2v3m0 1v2m0 3v5m1-66v2m0 9v2m0 3v1m0 24v3m0 3v2m0 1v2m0 1v2m0 8v1m0 5v3m1-89v2m0 45v1m0 7v3m0 1v2m0 3v2m0 1v2m0 1v2m0 3v3m0 5v4m1-76v1m0 16v2m0 11v1m0 24v1m0 5v1m0 4v3m1-39v1m0 6v2m0 28v2m1-75v1m0 5v1m0 15v3m0 11v1m0 6v2m0 11v1m0 10v3m0 11v1m1-59v3m0 2v1m0 10v3m0 11v1m0 3v2m0 3v3m0 2v1m1-48v2m0 1v2m0 3v1m1-39v2m0 37v3m0 5v2m0 11v3m0 11v1m0 10v1m1-75v2m0 19v1m0 2v1m0 14v2m0 6v2m0 4v2m0 8v1m0 3v2m0 2v4m1-65v1m0 3v2m0 8v3m0 15v2m0 8v4m0 10v1m0 2v2m0 1v2m1-61v1m0 5v2m0 9v1m0 10v5m0 4v2m0 8v1m0 5v1m0 5v3m0 2v1m1-82v4m0 19v2m0 17v1m0 25v2m0 14v1m1-68v1m0 5v5m0 1v2m0 28v1m0 8v3m0 8v2m1-83v2m0 28v3m0 11v1m0 5v5m0 1v2m0 3v1m0 2v2m0 3v1m0 10v1m1-72v2m0 19v1m0 8v3m0 10v3m0 26v2m0 4v2m1-89v2m0 29v2m0 3v1m0 24v1m0 2v3m0 5v5m0 3v3m0 4v2m1-94v2m0 11v3m0 16v3m0 3v1m0 5v3m0 5v1m0 2v2m0 1v2m0 20v2m1-33v1m0 8v2m0 7v4m0 12v2m1-71v2m0 16v1m0 2v1m0 2v1m0 16v3m0 11v2m0 4v2m0 5v1m0 5v1m1-57v1m0 3v3m0 14v2m0 3v2m0 1v3m0 7v1m0 8v2m0 6v1m1-51v3m0 6v3m0 8v3m0 2v6m0 3v3m0 11v2m1-52v2m0 3v1m0 24v1m0 11v4m0 1v2m1-49v3m0 14v2m0 6v5m0 3v3m0 6v2m0 12v2m1-56v1m0 8v3m0 2v3m0 6v2m0 9v5m0 3v2m0 6v1m0 3v2m1-58v2m0 8v1m0 3v2m0 3v2m0 3v1m0 14v2m0 3v2m1-44v4m0 4v1m0 2v1m0 5v2m0 20v1m0 10v3m1-58v3m0 13v1m0 5v2m0 3v6m0 20v2m1-49v2m0 3v2m0 6v1m0 8v2m0 14v1m0 2v3m0 3v3m1-56v2m0 3v3m0 5v1m0 2v1m0 8v2m0 12v3m0 13v3m1-56v1m0 5v1m0 11v2m0 5v1m0 2v1m0 10v1m0 8v2m0 4v2m1-31v4m0 7v1m0 5v1m0 4v3m0 3v3m0 1v2m1-59v1m0 19v6m0 5v1m0 10v1m0 13v1m1-93v1m0 46v3m0 12v2m0 3v1m0 22v2m1-64v1m0 11v2m0 16v1m0 9v5m0 14v2m0 1v2m1-78v1m0 22v5m0 6v3m0 8v2m0 9v2m0 4v2m0 1v4m0 4v2m0 1v2m1-91v3m0 22v2m0 1v2m0 3v2m0 18v2m0 9v2m0 19v3m0 1v2m1-49v2m0 5v6m0 5v1m0 10v1m0 8v2m1-43v3m0 10v1m0 13v3m0 3v2m0 15v3m1-54v4m0 5v2m0 1v3m0 5v2m0 3v1m0 8v2m0 8v1m0 6v2m1-63v2m0 2v6m0 3v3m0 2v1m0 11v2m0 1v2m0 3v1m1-54v1m0 14v2m0 3v2m0 7v2m0 14v3m0 3v2m0 19v4m1-29v1m0 2v4m0 4v1m0 14v3m0 2v1m1-64v4m0 3v4m0 10v3m0 8v1m0 3v2m0 1v2m0 14v2m0 1v2m1-80v2m0 31v1m0 11v2m0 6v8m0 5v1m1-62v1m0 8v2m0 3v8m0 28v1m0 3v2m0 6v2m0 1v2m0 5v1m0 3v2m1-80v2m0 23v3m0 5v2m0 6v1m0 5v2m0 15v2m0 9v3m0 2v1m1-65v1m0 5v3m0 6v2m0 9v2m0 9v2m0 12v2m1-55v2m0 5v1m0 2v1m0 5v1m0 13v8m0 6v2m0 7v4m0 3v1m0 5v1m1-57v1m0 10v1m0 6v2m0 2v1m0 2v1m0 11v2m0 9v2m0 1v2m1-50v1m0 5v3m0 8v11m0 3v2m0 1v3m0 11v2m1-58v2m0 17v3m0 8v1m0 10v1m0 2v1m1-40v1m0 22v5m0 3v6m0 11v3m1-94v2m0 38v1m0 25v2m0 1v2m0 4v2m0 11v2m0 4v2m1-50v1m0 18v1m0 14v2m0 6v2m1-93v2m0 9v2m0 19v1m0 8v2m0 3v1m0 13v1m0 2v3m0 5v1m0 21v1m0 5v3m1-59v1m0 49v1m0 6v2m1-58v2m0 12v2m0 8v1m0 14v2m0 1v3m0 7v3m1-92v1m0 31v2m0 20v3m0 2v3m0 8v1m0 18v1m0 2v1m1-97v2m0 55v1m0 3v2m0 6v3m0 16v2m0 7v2m1-59v1m0 24v3m0 1v3m0 10v1m0 11v2m1-56v1m0 30v1m0 3v2m0 3v2m0 4v2m0 9v2m1-72v2m0 25v1m0 3v3m0 5v2m0 14v1m0 5v2m0 9v1m1-68v1m0 24v1m0 2v1m0 2v2m0 1v2m0 1v2m0 11v1m0 7v3m0 4v2m1-88v2m0 20v2m0 1v2m0 16v1m0 11v2m0 7v4m0 1v2m0 14v3m1-38v4m0 6v3m0 8v1m0 11v2m0 1v3m1-64v2m0 39v3m0 10v3m1-14v1m1-19v2m0 22v1m0 10v1m0 2v1m1-64v2m0 28v2m0 11v1m0 19v1m1-79v1m0 3v4m0 14v1m0 11v2m0 34v3m0 3v2m1-41v2m0 5v10m1-17v2m0 9v2m0 1v5m1-42v1m0 16v2m0 11v3m0 1v6m0 22v2m1-74v4m0 34v2m0 3v1m1-54v1m0 19v1m0 2v2m0 4v2m0 6v2m0 1v2m0 3v1m0 2v2m0 4v3m0 2v1m0 8v2m0 12v2m1-78v1m0 19v2m0 4v2m0 14v2m0 4v2m0 4v2m1-62v1m0 31v2m0 1v2m0 5v1m0 8v3m1-61v2m0 44v3m0 6v3m0 6v3m0 8v2m0 12v3m1-71v3m0 17v1m0 4v4m1-4v1m0 2v4m0 5v2m0 3v1m0 16v2m1-66v1m0 5v2m0 11v1m0 6v2m0 16v1m0 11v3m0 10v1m0 3v2m1-36v5m0 9v2m0 11v1m0 2v1m0 6v2m1-84v1m0 35v1m0 8v2m0 7v2m1-52v2m0 36v3m0 9v2m0 22v1m0 2v1m1-54v1m0 8v2m0 1v2m0 1v4m0 15v2m0 12v2m0 4v2m1-50v2m0 9v3m0 9v2m1-59v1m0 24v1m0 2v1m0 10v1m0 22v3m0 10v3m1-55v2m0 3v1m0 10v1m0 2v1m0 5v2m0 4v2m0 6v3m0 14v3m1-50v2m0 8v1m0 5v2m0 3v1m1-47v2m0 13v1m0 8v1m0 15v1m0 6v2m0 1v5m0 3v2m0 15v2m1-47v3m0 5v2m0 10v4m0 11v1m0 6v2m1-56v6m0 5v3m0 37v2m0 3v1m1-82v1m0 5v1m0 27v3m0 22v5m0 4v2m1-73v1m0 2v3m0 17v2m0 14v1m0 13v1m0 2v1m0 11v5m0 11v1m1-60v1m0 17v2m0 1v2m0 6v2m0 23v3m1-47v2m0 5v1m0 24v1m1-37v1m0 7v1m0 2v1m0 2v3m0 27v1m0 5v1m1-90v1m0 10v1m0 77v1m1-78v2m0 42v2m0 4v2m0 3v3m0 8v5m0 3v1m1-64v2m0 12v2m0 4v2m0 39v2m0 4v2m1-83v2m0 17v1m0 49v1m0 2v2m0 9v1m1-18v1m0 5v3m0 6v2m0 1v2m1-67v1m0 14v2m0 8v1m0 24v3m0 9v2m1-64v1m0 25v2m0 9v2m0 16v1m0 6v2m1-80v2m0 9v3m0 17v2m0 3v2m0 1v2m0 5v1m0 14v2m0 15v2m1-88v2m0 33v1m0 8v2m0 6v3m0 11v2m0 1v2m0 1v2m1-33v2m0 12v2m0 1v2m0 19v1m1-58v2m0 11v1m0 16v3m0 27v3m1-35v2m0 19v1m0 7v1m0 3v2m1-78v1m0 17v2m0 3v2m0 18v2m0 23v4m0 3v1m1-81v2m0 37v2m0 15v2m0 9v2m0 15v3m1-23v3m0 6v4m1-74v2m0 3v1m0 22v2m0 4v2m0 8v1m0 19v3m0 14v2m1-81v1m0 28v2m0 20v2m0 1v3m0 11v2m0 5v1m1-84v1m0 5v2m0 4v2m0 9v2m0 5v1m0 19v3m0 11v1m0 24v1m1-51v1m0 16v2m0 3v1m0 7v1m0 11v2m1-80v2m0 60v4m1-66v2m0 21v2m0 22v1m0 8v3m1-62v1m0 10v1m0 3v2m0 3v2m0 9v2m0 14v1m0 17v2m0 19v1m1-86v2m0 36v1m0 19v5m0 5v1m0 20v2m1-42v1m2 8v2m0 12v2m1-67v1m0 11v2m0 25v1m0 3v2m0 3v2m0 1v2m0 1v2m0 11v1m1-61v4m0 34v2m0 14v3m1-58v1m0 13v2m0 34v3m0 9v2m0 9v2m0 1v2m1-95v1m0 24v4m0 18v1m0 22v2m0 12v2m1-66v2m0 7v2m0 20v3m0 5v2m0 26v3m1-29v3m0 4v2m0 9v2m0 3v2m1-66v2m0 7v2m0 2v1m0 19v1m0 5v2m0 11v1m0 16v1m0 3v2m1-34v1m0 25v2m0 4v2m1-91v2m0 23v4m0 21v2m0 31v2m1-60v2m0 2v1m0 5v1m0 11v2m1 39v1m1-56v2m0 20v2m0 1v2m0 12v2m0 11v1m1-84v2m0 10v2m0 3v2m0 1v2m0 20v2m0 3v1m0 4v1m0 13v1m1-40v1m0 5v1m0 2v1m0 8v2m0 3v2m0 4v3m0 14v2m1-59v4m0 3v2m0 33v1m0 3v2m0 23v2m1-62v1m1 6v2m0 8v3m0 25v1m0 11v2m1-53v1m0 2v1m0 13v2m0 28v1m1-53v2m0 11v1m0 5v1m0 11v2m0 1v2m0 3v2m0 18v2m1-72v2m0 26v3m0 2v2m0 29v2m1-50v1m0 19v2m0 25v1m1-54v1m0 22v2m0 4v2m0 6v3m0 3v2m1-27v2m0 5v1m0 5v1m0 16v2m0 3v1m1-70v1m0 36v2m0 27v1m0 3v2m1-64v1m0 28v4m0 17v1m1-62v1m0 21v1m0 24v1m0 5v1m0 7v1m0 7v1m0 3v3m1-82v1m0 11v2m0 1v2m0 39v1m0 18v1m1-66v2m0 6v2m0 20v2m0 4v2m0 8v1m0 3v2m0 5v1m0 7v1m1-67v1m0 2v2m0 14v1m0 8v2m0 15v2m0 15v2m0 3v6m1-23v5m0 6v1m0 2v2m0 7v2m1-66v2m0 9v2m0 15v2m0 5v3m0 9v10m0 6v1m1-32v1m0 5v1m0 10v1m0 2v1m0 10v1m1-62v1m0 10v1m0 8v2m0 3v1m0 35v1m1-79v1m0 27v1m0 5v2m0 11v4m0 8v2m0 3v3m0 3v2m0 7v2m1-69v2m0 22v1m0 41v1m1-57v3m0 22v3m0 12v2m0 8v1m0 6v2m1-66v2m0 5v1m0 20v2m0 19v1m0 3v2m0 11v1m1-67v2m0 8v1m0 27v1m0 3v2m0 6v2m0 8v1m0 3v3m1-64v2m0 2v1m0 6v5m0 3v2m0 17v1m0 2v2m0 6v1m0 13v1m1-76v1m0 4v1m0 31v2m0 9v2m1-49v2m0 6v2m0 3v2m0 21v2m0 5v4m0 16v3m0 5v1m0 2v1m1-62v2m0 23v2m0 18v2m1-14v1m1-29v1m0 28v3m0 2v2m0 4v2m0 8v1m1-62v1m0 19v2m0 1v2m0 11v4m0 7v1m0 11v2m1-61v3m0 11v1m0 16v2m0 7v2m0 9v3m0 8v2m1-78v1m0 13v3m0 23v2m0 1v4m0 6v1m0 2v1m1-15v1m0 33v2m1-67v1m0 13v1m0 2v1m0 2v1m0 7v3m0 6v2m0 4v2m0 9v2m1-35v4m0 4v3m1-54v1m0 38v1m0 7v1m0 10v1m1-25v3m0 5v3m0 2v1m0 5v1m0 4v1m0 22v2m0 1v2m0 4v2m1 1v2m1-61v2m0 6v1m0 15v3m0 22v1m1-66v4m1-8v3m0 41v1m0 31v3m1-23v2m0 20v1m1-57v1m0 19v2m0 1v2m0 22v1m0 3v2m1-63v2m0 11v1m0 16v3m0 3v3m0 3v4m0 1v2m0 18v2m1-75v2m0 12v2m0 9v2m0 15v3m0 3v2m0 5v1m0 14v2m1-74v2m0 5v1m0 11v3m0 24v1m0 2v1m0 4v1m1-37v1m0 56v2m1-64v2m0 32v3m0 19v2m1-72v1m0 16v3m0 22v2m0 1v2m0 9v5m1-77v2m0 25v3m0 6v3m0 13v1m0 13v1m0 19v2m1-78v1m0 41v1m0 11v3m1-60v1m0 20v2m0 31v2m0 12v2m0 3v2m0 9v1m1-78v3m0 16v2m0 7v2m0 5v1m0 3v2m0 9v3m0 4v1m0 17v2m1-102v2m0 11v1m0 5v2m0 42v1m0 8v2m0 9v5m0 11v1m1-89v2m0 44v1m0 2v1m0 10v3m1-39v1m0 27v1m0 14v2m1-30v2m0 1v2m0 33v1m0 11v2m1-70v3m0 3v5m0 1v2m0 12v2m0 11v1m0 10v1m0 6v2m1-61v2m0 12v2m0 17v1m0 11v3m0 25v2m1-86v2m0 6v1m0 2v2m0 12v2m0 1v2m0 9v2m0 4v2m0 2v1m0 14v2m0 15v2m1-78v1m0 33v2m0 14v1m1-11v2m0 33v1m1-81v2m0 64v1m1-3v2m1-36v1m0 7v1m0 22v3m0 10v3m1-38v2m0 1v2m0 5v1m0 2v1m0 5v1m0 22v2m1-70v1m0 16v1m1 10v1m0 3v2m0 19v1m0 17v2m1-73v1m0 35v1m0 3v2m1-61v1m0 24v1m0 7v1m0 22v3m0 2v1m1-54v1m0 5v1m0 4v1m0 16v1m1-32v1m0 38v1m0 11v5m0 8v1m0 16v3m1-59v1m0 25v5m0 28v1m1-48v3m0 10v1m0 17v2m0 3v2m0 6v1m1-87v1m0 22v2m0 19v1m0 5v1m0 24v1m1-71v1m0 50v3m0 25v2m1-85v2m0 6v2m0 37v2m0 30v1m1-41v2m0 6v5m0 9v2m0 1v2m0 16v3m0 1v2m1-55v2m0 23v2m1-61v3m0 64v2m0 1v2m0 18v2m1-66v2m1-14v1m0 4v1m0 70v2m1-6v1m1-75v2m0 3v3m0 13v1m1 53v2m1-33v2m0 14v1m0 2v1m0 7v1m1-76v1m0 11v3m0 10v1m0 10v1m0 2v1m0 32v1m0 3v2m1-58v2m0 1v2m0 26v2m0 20v3m1-70v3m0 48v2m1-39v2m0 6v1m0 5v2m0 31v1m1-50v4m0 9v1m0 7v1m0 2v1m0 27v2m1-65v2m0 16v1m0 17v2m0 12v2m0 11v2m0 10v2m1-70v1m0 10v1m0 3v2m0 1v2m0 20v2m0 8v1m1-39v2m0 22v1m0 25v2m1-47v1m0 11v2m0 30v1m0 5v1m1-85v1m0 33v3m1-34v1m0 19v3m0 8v3m0 8v1m0 7v1m0 11v2m1-42v1m0 28v2m0 8v1m0 17v2m1-30v3m1-14v3m0 14v2m0 2v1m1-61v2m0 33v6m0 1v2m0 14v2m0 11v1m1-66v4m0 37v2m0 23v5m0 4v2m1-80v2m0 9v2m0 6v2m0 22v1m1-31v3m0 6v2m0 15v5m0 6v3m0 4v1m0 17v2m1-39v1m0 11v5m1-53v1m0 18v1m0 2v1m0 16v2m0 32v2m1-80v2m0 20v5m0 1v2m0 16v1m0 6v2m0 8v1m0 14v2m1-59v1m0 8v1m0 11v2m1-44v2m0 19v1m0 13v4m0 35v1m1-36v2m0 9v2m1-49v2m0 6v2m0 3v1m0 8v2m1-13v3m0 22v3m0 5v2m0 1v2m0 19v1m1-48v1m0 6v2m0 2v1m0 22v2m0 9v2m0 3v3m1-85v2m0 23v2m0 3v2m0 28v1m0 10v1m0 16v1m1-90v1m0 61v2m0 8v3m1-42v1m0 24v3m0 9v2m0 6v2m1-40v2m0 20v2m1-64v1m0 21v1m0 3v2m0 3v2m0 3v1m0 3v2m0 16v3m0 8v1m0 14v2m1-85v2m0 12v2m0 13v1m0 20v2m0 9v3m0 4v1m0 5v3m0 3v3m0 3v2m1-89v1m0 4v1m0 20v2m0 22v1m0 5v3m0 21v1m1-73v3m0 15v2m0 62v2m1-73v1m0 10v1m0 19v1m0 2v2m0 9v1m0 2v2m0 15v3m1-87v3m0 17v2m0 23v2m0 11v1m0 24v3m0 3v1m1-53v2m1-19v2m0 17v1m0 16v2m0 22v1m1-75v3m0 10v1m0 6v2m0 27v1m0 24v3m1 4v2m1-55v2m0 11v1m1-23v1m0 25v2m1-27v2m0 9v2m0 9v2m0 8v3m0 25v1m0 2v1m1-12v3m0 6v2m0 1v2m1-67v1m0 5v2m0 12v2m0 23v2m0 4v2m0 2v1m1-175v2m1 143v2m1-34v1m0 3v2m0 11v1m0 11v2m0 17v2m0 14v1m0 3v3m1-87v2m0 9v1m0 4v1m0 2v1m0 8v2m0 14v3m0 1v2m1-44v2m0 11v1m0 10v1m0 5v3m1 30v1m1-68v1m0 64v2m0 6v2m0 4v2m0 1v2m1-99v2m0 52v1m0 5v1m0 11v2m0 16v1m1-73v1m0 60v1m1-42v3m0 2v1m0 3v2m0 33v1m0 7v3m0 6v1m1-84v2m0 18v2m0 5v3m0 4v2m0 8v1m0 5v2m0 3v1m0 19v2m1-50v1m0 5v1m0 7v1m0 2v1m0 10v1m0 13v1m1-82v1m0 31v4m0 1v2m0 20v2m0 14v1m0 6v2m0 3v2m1-69v1m0 16v2m0 25v1m0 3v5m0 6v2m0 14v1m1-93v1m0 36v2m0 11v1m0 3v2m0 3v2m0 7v4m0 11v1m0 5v1m1-78v3m0 14v2m0 33v1m0 2v1m0 5v2m0 4v2m1-17v1m0 5v2m0 3v1m1-48v1m0 14v2m0 11v2m0 10v2m0 8v3m1-55v2m0 14v1m0 2v2m0 12v2m0 29v2m1-22v2m1-91v2m0 43v3m0 10v1m0 2v1m0 38v2m0 1v2m1-3v1m0 5v1m0 2v1m1-31v2m0 3v1m1 10v1m1 0v2m1-31v1m0 41v1m1-79v1m0 5v2m0 29v2m0 3v2m0 14v1m0 14v2m0 1v2m1-84v1m0 41v1m0 24v1m1-48v1m0 33v6m0 7v1m0 2v1m1-70v2m0 7v4m0 25v1m0 10v1m0 24v1m0 5v1m1-64v2m1-3v1m0 5v2m0 3v1m0 6v2m0 19v1m0 11v2m0 6v3m0 2v1m1-67v2m0 18v2m0 25v3m0 6v2m0 5v3m0 4v2m1-81v3m0 12v2m0 9v2m0 9v2m0 1v2m0 5v1m0 27v1m1-40v1m0 2v1m0 7v1m0 14v2m0 6v2m0 6v1m1-71v1m0 8v2m0 4v2m0 12v2m0 14v3m0 2v3m0 6v3m0 5v1m1-34v2m0 25v3m0 1v5m1-81v1m0 33v2m0 7v2m0 5v1m0 6v2m0 2v1m0 11v2m0 6v1m1-89v2m0 23v2m0 9v2m0 11v1m0 13v3m0 8v1m0 11v5m1-36v2m0 7v2m0 13v1m0 2v1m1-65v1m0 3v2m0 23v2m0 1v4m0 14v1m0 10v1m1-58v3m0 27v2m0 3v1m0 5v1m0 4v1m0 6v4m0 7v2m1-77v2m0 36v1m0 5v2m0 1v2m0 1v2m0 12v2m0 11v3m1-97v2m0 37v2m0 26v2m0 1v5m0 5v1m0 8v5m1-42v1m0 21v1m0 2v3m0 1v2m0 2v1m0 3v3m1-72v2m0 34v4m0 15v2m0 4v4m0 4v5m1-44v2m0 4v2m0 6v5m0 9v3m0 10v1m1-53v2m0 3v1m0 4v1m0 22v2m0 1v2m1-71v2m0 30v1m0 30v1m0 2v2m0 11v3m0 4v2m1-77v2m0 47v1m0 8v2m1-77v2m0 59v2m0 3v1m0 5v2m0 4v2m0 1v2m0 8v1m0 2v1m1-53v2m0 8v1m0 33v2m0 3v1m1-87v1m0 13v1m0 47v3m0 2v2m0 3v1m1-62v1m0 3v2m0 17v2m0 17v2m0 7v2m0 1v5m0 6v2m0 6v3m1-47v2m0 20v2m0 5v1m0 11v2m1-69v1m0 21v1m0 7v1m0 5v1m0 11v2m1-70v3m0 34v3m0 28v2m0 3v3m0 2v3m0 6v2m0 7v2m1-81v1m0 24v1m0 35v1m1-61v2m0 17v2m0 7v2m0 8v1m0 38v1m1-87v2m0 37v2m1-19v1m0 21v1m0 39v2m1-91v3m0 82v1m1-78v2m0 56v1m0 22v2m1-66v2m0 34v3m0 24v1m0 2v1m1-70v3m0 52v1m0 5v3m1-56v2m0 60v2m1-27v4m0 15v3m1-67v2m0 11v1m0 2v3m0 30v1m1-39v2m0 42v1m1-70v2m0 23v2m0 4v2m0 50v1m1-9v2m0 3v1m1-84v2m0 21v4m0 4v2m0 37v2m0 8v1m0 5v1m1-93v1m0 53v2m0 5v1m0 10v1m0 2v1m0 7v1m0 9v2m1-84v1m0 16v1m0 5v2m0 14v3m0 39v1m1-75v2m0 8v1m0 5v2m0 40v2m0 8v1m1-53v3m0 17v2m0 23v2m1-61v2m0 3v1m0 5v3m0 5v3m0 20v2m0 20v3m0 2v1m0 2v1m1-46v1m0 33v5m1-91v2m0 21v2m0 2v1m0 3v2m0 1v2m0 44v1m0 2v1m0 11v3m1-90v1m0 24v3m0 3v2m0 25v1m0 13v1m0 7v7m1-73v1m0 15v3m0 1v2m0 20v2m0 15v2m0 11v1m1-79v1m0 72v2m0 1v3m1-64v3m0 7v1m0 5v1m0 2v2m0 36v1m0 2v1m0 3v2m1-61v2m0 28v1m0 24v3m1-55v2m0 36v1m0 2v1m0 5v2m0 7v2m1-69v3m0 2v3m0 50v2m0 6v1m1-76v1m0 55v2m0 4v2m0 8v1m0 2v1m1-82v1m0 78v2m1-86v1m0 22v2m0 62v2m1-56v1m0 44v2m0 6v3m1-63v7m0 36v1m0 10v4m0 3v2m1-84v1m0 19v1m0 7v3m0 40v2m0 5v1m1-14v2m0 11v4m1-62v1m0 50v2m0 2v1m0 2v1m1-59v1m0 10v1m0 50v3m1-60v3m0 48v2m0 7v2m1-92v1m0 29v1m0 3v2m0 37v2m0 1v2m0 2v6m1-60v2m0 16v1m0 28v2m0 1v5m0 2v3m1-58v2m0 18v2m0 30v1m1-50v2m0 20v2m0 18v3m0 7v1m1-45v1m0 22v2m0 9v2m0 3v2m0 3v1m0 2v1m0 2v1m1-68v1m0 11v6m0 4v1m0 14v2m0 11v1m0 8v2m0 1v5m1-89v1m0 13v1m0 16v2m0 31v1m0 19v2m1-83v2m0 43v2m0 5v1m0 5v1m0 2v1m0 16v5m1-67v1m0 3v2m0 6v2m0 4v2m0 8v1m0 16v1m0 15v6m1-91v2m0 14v1m0 18v1m0 3v2m0 9v2m0 22v4m0 11v2m0 4v2m1-102v2m0 70v3m0 24v1m1-78v2m0 11v1m0 8v3m0 2v1m0 43v1m0 5v3m1-86v2m0 25v1m0 21v1m0 33v1m1-67v2m0 5v1m0 5v1m0 24v1m1-28v2m0 6v3m0 17v2m0 6v3m0 7v1m0 2v3m0 1v3m1-79v1m0 43v1m0 9v4m0 6v1m0 11v2m1-70v1m0 8v3m0 3v3m0 7v1m0 3v2m0 11v1m0 8v2m0 6v2m1-60v2m0 15v2m0 3v2m1-24v2m0 12v3m0 7v1m0 3v3m0 33v2m0 1v2m0 1v2m1-39v2m0 1v3m0 22v2m0 1v2m0 3v1m1-87v2m0 53v1m0 3v2m1-42v1m0 7v1m0 9v2m0 25v2m0 17v1m1-84v2m0 39v1m0 2v1m0 30v2m1-38v2m0 1v2m0 3v5m0 9v1m0 10v5m0 1v2m0 3v1m0 2v1m1-89v2m0 17v2m0 45v3m0 2v1m0 16v1m1-43v3m0 5v3m0 6v1m0 7v1m0 8v8m1-99v2m0 27v1m0 30v1m0 13v1m0 4v1m0 5v1m0 5v2m0 3v1m0 3v2m1-66v2m0 9v2m0 5v3m0 8v1m0 22v2m0 6v1m1-61v2m0 27v1m0 2v1m0 13v1m1-73v1m0 33v2m0 20v2m0 28v1m1-54v1m0 46v1m0 6v3m1-68v1m0 2v1m0 19v2m0 18v2m0 3v2m0 4v8m0 2v1m0 2v1m1-76v1m0 13v2m0 21v2m0 16v1m1-8v2m0 25v1m1-90v1m0 27v2m0 15v2m0 3v1m0 2v2m0 7v2m0 12v2m0 3v2m0 3v3m0 1v2m2-41v4m0 3v4m0 2v1m0 16v2m0 3v1m1-12v3m1-70v1m0 19v2m0 1v3m0 22v2m0 12v2m1-75v1m0 8v2m0 23v3m0 13v1m0 32v1m0 8v1m1-68v1m0 13v1m0 3v2m0 28v2m0 14v1m1-53v2m0 20v2m0 6v1m0 16v3m1-31v2m0 21v2m0 8v1m0 2v1m1-50v2m0 33v1m0 5v2m0 1v2m0 1v2m2-89v1m0 14v2m0 3v2m0 28v1m0 8v3m0 22v3m1-32v1m0 27v3m1-64v1m0 27v1m0 30v2m0 6v1m1-51v1m0 4v1m0 35v1m0 9v2m1-59v1m0 8v2m0 4v2m0 30v1m1-47v2m0 3v1m0 15v1m0 17v2m0 5v1m0 3v2m1-30v2m0 12v2m0 11v3m0 1v2m1-91v2m0 12v2m0 22v4m0 7v3m0 3v2m0 14v3m0 14v1m1-64v2m0 5v3m0 6v1m0 8v2m0 1v2m0 2v1m0 28v2m1-86v1m0 32v1m0 17v2m0 36v1m1-79v1m0 3v4m0 18v2m0 33v1m0 10v1m0 2v1m1-82v1m0 25v2m0 4v2m0 39v3m0 8v1m1-34v2m0 29v3m1-73v2m0 7v2m0 3v2m1-28v1m0 9v2m0 20v2m0 11v1m0 8v2m0 26v2m1-91v3m0 64v2m1-58v2m0 20v5m0 12v2m0 8v3m0 1v2m1-24v2m0 14v2m1-5v2m0 7v2m0 9v2m2-27v2m0 25v1m1-64v2m0 23v2m1-24v2m0 20v2m1-6v1m0 28v2m0 26v2m1-83v2m0 17v2m0 21v2m0 9v3m1-57v1m0 10v1m0 11v2m0 18v2m1 11v1m1-7v1m0 17v2m1-67v1m0 14v2m0 30v1m1-54v1m0 27v1m0 3v2m0 8v1m0 11v2m1-27v2m0 20v2m0 7v2m1-3v1m1-51v1m0 29v1m0 17v2m0 1v2m1-59v1m0 19v2m0 9v3m0 23v2m1-44v2m0 12v2m0 1v2m0 19v1m0 3v2m0 3v2m1-69v2m0 18v2m0 12v2m0 42v2m0 1v2m1-89v1m0 25v3m0 2v2m0 42v1m0 10v1m0 5v1m1-85v1m0 9v2m0 3v2m0 23v2m0 22v1m1-69v2m0 55v1m0 17v2m0 6v2m1-78v1m0 52v1m0 10v1m1-72v2m0 11v1m0 29v1m0 17v2m0 16v1m1-42v1m0 4v1m0 25v3m0 2v3m0 5v1m1-61v2m0 20v2m0 29v2m0 6v2m0 1v2m1-64v1m0 11v2m0 11v3m0 30v1m0 2v1m1-67v2m0 12v2m0 17v2m0 17v1m0 3v2m0 8v1m1-47v2m0 3v2m0 3v1m0 4v1m0 6v2m0 14v2m0 4v5m0 1v2m1-64v2m0 48v2m0 6v3m1-53v1m0 7v1m0 2v3m0 28v3m0 3v2m1-60v2m0 22v1m0 8v2m0 1v2m0 12v2m0 11v1m1-89v2m0 30v1m0 2v1m0 13v5m0 6v1m0 10v1m0 5v2m1-61v1m0 20v2m0 9v4m0 7v2m0 20v3m1-79v1m0 3v2m0 6v2m0 15v2m0 22v3m0 6v2m0 3v1m0 7v1m0 3v2m1-53v1m0 22v2m0 1v2m0 1v2m0 8v5m1-50v1m0 6v2m0 12v2m0 11v3m0 6v2m1-49v2m0 23v2m0 19v3m0 12v2m1-74v2m0 52v1m0 11v2m0 4v2m1-75v3m0 2v1m0 8v2m0 7v2m0 6v3m0 8v2m0 11v6m0 14v1m1-78v2m0 9v2m0 3v2m0 3v1m0 42v2m0 5v1m1-48v1m0 36v2m0 1v4m0 3v3m0 3v1m1-56v2m0 23v2m0 11v1m1-45v2m0 17v1m0 17v4m0 7v4m0 3v1m1-12v1m1-39v2m0 1v2m0 9v2m0 8v1m0 2v1m1-32v1m0 5v1m0 33v2m0 8v1m0 5v1m0 3v2m1-84v1m0 19v2m0 21v2m0 6v2m0 25v1m1-48v1m0 18v1m0 2v3m0 3v3m0 11v2m0 1v5m0 1v2m1-72v2m0 14v1m0 11v2m0 15v2m0 2v1m0 6v2m0 9v2m1-70v3m0 8v3m0 17v1m0 18v1m0 3v2m0 11v1m1-57v1m0 14v2m1-19v2m1-27v2m0 28v1m0 10v1m0 25v5m0 5v1m0 5v1m1-76v1m0 19v2m0 9v2m0 7v2m0 20v3m0 10v1m1-43v3m0 6v2m0 6v1m0 18v1m1-61v2m0 3v1m0 8v2m0 19v1m0 20v2m0 3v2m1-63v2m0 17v1m0 15v1m0 5v1m0 8v3m0 7v1m1-81v1m0 46v1m0 5v2m0 23v2m0 1v2m1-60v2m0 8v1m0 22v2m1-68v2m0 8v1m0 5v2m0 1v2m0 4v2m0 27v1m0 33v2m0 4v2m1-64v1m0 7v1m0 11v2m0 4v3m0 5v2m0 3v1m0 7v1m0 16v3m1-67v11m0 7v2m0 9v2m0 14v2m0 6v3m0 5v1m1-78v2m0 22v3m0 4v2m0 16v1m0 5v1m0 19v2m1-83v1m0 43v1m0 28v2m1-53v3m0 33v3m0 4v4m1-43v2m0 9v2m0 6v3m0 30v3m0 8v1m1-90v1m0 63v1m1-56v2m0 6v2m0 17v1m0 16v2m0 3v1m0 2v1m0 3v2m0 9v2m0 3v3m1-72v2m0 14v2m0 9v1m0 7v1m0 7v4m0 6v2m0 5v1m1-87v1m0 22v2m0 34v2m0 14v1m0 3v4m0 6v1m1-82v1m0 19v1m0 7v4m0 19v2m0 8v1m0 9v2m0 3v5m0 1v2m0 11v1m1-89v2m0 20v2m0 9v3m0 14v4m0 4v2m1-61v1m0 21v1m0 46v1m0 6v2m0 3v2m1-58v5m0 1v2m0 26v2m0 3v1m0 8v2m0 1v2m0 3v3m1-79v3m0 34v2m0 6v1m0 2v5m0 3v3m0 1v2m0 16v1m1-83v2m0 9v2m0 34v2m0 22v1m0 2v5m1-47v1m0 3v2m0 9v2m0 5v1m0 2v1m0 3v3m0 16v2m0 1v2m1-69v2m0 68v2m1-94v2m0 22v1m0 19v1m0 13v3m1-11v2m0 9v2m0 22v1m1-36v2m0 31v2m1-22v1m0 19v2m1-66v1m0 15v1m0 2v1m0 13v3m0 3v3m0 2v1m0 2v3m0 3v2m0 4v5m0 8v1m1-53v3m0 18v3m0 3v3m0 1v2m0 6v2m0 6v2m1-93v2m0 25v2m0 17v1m0 10v4m0 5v2m0 6v1m0 7v1m0 7v3m1-57v2m0 12v2m0 14v2m0 6v3m0 3v2m0 4v2m0 5v1m1-39v2m0 3v1m0 8v2m1-21v4m0 9v2m0 1v3m0 25v2m1-96v2m0 28v2m0 14v1m0 8v2m0 8v1m0 2v1m0 6v2m0 3v2m0 4v2m1-42v1m0 13v1m0 2v2m1-54v2m0 12v4m0 18v2m0 11v1m0 22v2m0 5v1m0 9v2m1-100v2m0 26v2m0 6v2m0 1v3m0 8v2m0 1v2m0 17v1m0 15v1m1-97v3m0 10v1m0 13v1m0 2v1m0 35v3m0 5v1m0 19v2m0 3v3m1-94v2m0 3v1m0 10v1m0 11v2m0 11v3m0 1v2m0 11v1m0 25v2m1-75v2m0 20v1m0 13v1m0 2v2m0 25v1m0 6v2m1-63v2m0 3v2m0 23v2m0 8v1m0 9v4m0 7v2m0 9v2m1-50v1m0 24v1m0 7v1m1-79v1m0 36v2m0 15v2m0 22v1m0 2v1m1-25v2m0 28v3m1-39v2m0 4v4m0 29v2m1-74v2m0 3v2m0 11v1m0 8v1m1-50v2m0 28v2m0 22v3m0 9v2m0 25v3m0 1v2m1-86v2m0 35v2m0 2v1m0 5v5m0 29v2m0 3v1m1-67v3m0 21v3m0 12v3m0 2v2m0 3v3m0 12v2m1-105v2m0 12v2m0 14v1m0 38v2m0 31v1m1-82v1m0 3v2m0 9v2m0 3v1m0 4v1m0 2v1m0 10v1m0 39v3m0 3v2m1-77v2m0 8v1m0 4v3m0 9v2m0 7v4m0 1v2m0 3v1m0 13v1m0 5v2m1-86v3m0 8v1m0 10v1m0 5v1m0 16v2m1-49v2m0 25v1m0 3v2m0 3v2m0 6v3m0 2v1m0 2v1m0 2v1m0 30v2m1-88v2m0 28v1m0 14v4m0 3v1m0 5v3m0 6v3m0 7v1m1-83v4m0 1v2m0 11v1m0 17v2m0 11v1m0 2v2m0 12v2m0 14v1m1-84v1m0 10v3m0 14v2m0 7v2m0 2v1m0 14v2m0 3v3m0 3v2m0 29v2m1-53v1m1-31v2m0 26v2m0 4v2m1-97v2m0 92v1m0 10v3m0 6v2m0 6v2m0 11v1m1-73v1m0 30v1m0 4v3m0 39v1m1-81v3m0 6v4m0 3v3m0 5v1m0 2v3m0 1v3m0 25v2m0 11v2m0 6v1m1-50v3m0 7v3m0 23v2m0 1v2m0 2v1m1-92v1m0 5v2m0 14v1m0 3v2m0 22v1m0 2v2m0 3v1m0 13v1m0 18v1m1-84v1m0 13v1m0 2v1m0 22v3m0 21v1m0 7v3m0 1v2m0 3v2m0 6v1m1-93v1m0 8v2m0 7v2m0 12v2m0 8v1m0 3v2m0 9v2m0 30v1m0 3v3m1-95v2m0 36v1m0 2v3m0 25v1m0 2v2m0 9v2m0 7v2m1-103v1m0 22v2m0 9v3m0 7v1m0 2v1m0 5v1m0 2v2m0 15v2m0 17v2m0 10v2m1-73v1m0 13v1m0 2v3m0 6v2m0 8v3m0 7v4m0 1v2m0 17v1m1-101v1m0 21v1m0 13v1m0 7v1m0 2v1m0 8v8m1-16v2m0 1v2m0 2v3m0 6v2m0 6v1m0 3v2m0 17v3m0 2v1m1-73v3m0 3v2m0 20v2m0 3v1m0 27v2m1-33v1m0 3v2m0 17v5m0 3v6m0 2v1m1-87v1m0 36v2m0 23v2m0 3v2m0 3v1m1-100v3m0 7v1m0 38v1m0 13v1m0 8v2m0 3v1m0 5v2m0 4v2m0 1v4m0 4v2m0 15v2m1-102v2m0 38v1m0 8v3m0 27v1m0 14v2m1-66v3m0 2v1m0 10v1m0 33v2m0 14v4m1-71v1m0 14v2m0 6v2m0 6v1m0 5v3m0 11v3m1-53v2m0 20v2m0 12v2m0 4v2m0 19v3m0 4v2m1-108v2m0 22v1m0 3v2m0 28v3m0 3v3m0 29v1m0 8v1m1-100v2m0 50v3m0 8v2m0 10v2m0 11v2m1-69v1m0 13v1m0 21v1m0 25v3m0 2v2m0 1v2m0 3v3m1-81v1m0 13v1m0 22v3m0 3v2m0 14v2m0 1v2m0 9v2m1-99v2m0 3v1m0 63v2m0 7v3m0 5v2m0 6v2m0 3v3m1-86v1m0 13v1m0 21v1m0 5v2m0 20v1m0 8v2m0 6v2m0 1v2m1-74v2m0 5v1m0 19v1m0 22v2m0 22v3m0 1v2m1-75v3m0 13v1m0 10v1m0 24v1m0 8v3m0 6v2m1-91v2m0 3v2m0 60v2m0 5v1m0 5v2m1-79v2m0 45v2m0 1v2m0 2v1m0 19v1m0 4v1m0 3v6m1-87v2m0 7v2m0 16v1m0 13v4m0 3v5m0 30v1m1-48v1m0 4v1m0 16v1m0 18v1m0 6v2m1-102v2m0 1v4m0 15v2m0 20v2m0 3v3m0 37v2m0 2v1m0 5v1m1-115v1m0 13v3m0 6v2m0 3v3m0 11v1m0 5v3m0 11v2m0 15v2m0 19v1m0 10v1m0 5v1m1-51v3m0 20v3m0 4v1m0 3v2m0 14v1m1-64v2m0 6v2m0 31v2m0 4v2m0 3v2m1-150v1m0 49v1m0 34v2m0 19v3m0 6v3m0 5v2m0 28v1m0 5v1m1-107v3m0 28v1m0 8v2m0 9v3m0 3v2m0 5v4m0 8v2m0 20v2m1-72v1m0 10v1m0 7v1m0 8v1m0 4v1m0 10v1m0 2v1m0 25v2m0 1v3"/>
<path stroke="#ffbf00" d="M105 616v2m0 20v2m1-39v1m0 36v2m1-57v2m0 37v2m0 17v2m1-10v2m1-38v2m0 52v1m0 3v3m1-84v2m0 95v1m1-93v1m0 3v2m0 47v1m0 19v2m1-67v3m0 37v2m0 42v1m2-84v2m0 3v1m0 14v2m0 61v1m1-56v3m0 52v1m1-59v2m0 25v1m1-14v2m0 4v4m1-54v2m0 5v1m1-26v1m0 64v2m0 14v1m1-73v2m0 39v1m0 16v1m0 13v1m1-57v3m0 31v2m0 7v2m0 14v2m0 20v1m1-71v1m0 30v1m0 19v2m1-63v3m1 5v2m0 40v2m1-5v2m0 26v2m1-53v3m0 31v2m1-14v4m0 10v3m0 9v2m1-11v1m1-51v1m0 7v1m0 5v1m1-7v1m0 5v1m0 35v1m1-75v2m1 14v1m0 7v3m0 14v3m1-14v2m0 6v3m0 9v2m1-38v2m0 31v2m0 1v2m0 14v1m0 10v1m1-42v2m0 15v4m0 4v2m1-39v1m1 0v2m0 1v2m1-8v2m0 11v1m0 10v1m0 38v1m1-59v1m1 5v2m0 1v2m0 26v2m1-70v1m1 10v1m0 33v1m0 24v3m1-61v2m0 1v2m0 15v4m1-10v2m0 4v2m0 5v1m0 3v2m1-28v1m0 14v2m1 0v2m0 1v3m1 5v1m1-39v2m1 20v2m0 1v2m0 8v1m1 0v3m0 46v3m1-67v1m0 36v2m0 20v2m0 6v1m1-78v2m0 9v3m1-18v3m1 15v2m0 61v1m1-60v3m0 22v1m0 22v2m1-36v1m0 33v3m1-69v2m0 11v1m0 10v1m0 7v1m0 2v1m0 32v1m0 6v3m1-60v1m0 14v2m0 3v3m0 20v2m1-49v2m0 9v2m0 11v3m0 3v2m0 22v3m1-35v2m0 1v4m0 1v2m0 20v2m0 1v2m1-25v1m0 2v1m0 22v2m0 3v1m1-40v1m1-23v2m0 10v2m0 45v5m1-75v2m1 11v3m0 18v2m0 2v1m0 20v2m1-53v1m0 29v3m2-16v2m0 1v3m0 42v2m1-53v1m0 4v1m0 17v3m0 5v2m1-58v3m0 23v2m0 5v3m0 33v1m1-53v3m0 10v1m1-15v3m0 15v3m0 2v3m0 6v2m1-59v1m0 25v2m0 15v2m0 11v3m2 6v2m0 15v2m2-22v2m1-27v2m0 21v2m1-20v1m0 17v2m0 2v1m1-9v1m0 27v1m2-87v2m0 62v2m1-74v2m0 34v2m0 25v1m1-34v1m0 14v2m0 8v1m0 19v2m1-55v2m0 9v2m0 35v4m0 3v1m1-6v2m1-44v3m1-39v1m0 47v2m0 25v1m0 2v2m2-68v2m0 6v2m0 33v1m0 22v2m1 18v2m1-33v2m0 6v1m1-71v3m0 59v2m0 11v1m1-11v2m1-55v2m0 54v2m0 9v2m0 14v1m1-26v1m0 5v2m0 14v1m1-36v2m1 23v2m1-84v1m0 91v1m2-82v1m0 58v1m1-67v2m0 50v1m1-40v1m0 57v1m0 5v1m1-86v2m0 16v1m0 52v1m1 0v2m0 19v1m1-62v1m1-26v1m0 67v2m1-55v2m0 56v2m1-71v2m2 64v3m0 13v1m1-79v1m0 58v1m0 4v1m3-1v1m0 8v2m1-58v1m1-3v2m0 6v3m1-20v1m0 53v2m0 9v2m1 0v2m0 1v2m0 3v1m1-20v2m1-64v1m0 17v2m0 42v2m0 3v1m1-15v1m0 13v1m1-53v2m0 31v2m0 15v2m1-80v2m0 28v1m0 44v2m0 20v1m1-89v2m1 20v2m1 36v1m0 10v1m1-47v2m0 33v1m1-6v2m0 3v1m0 25v2m1-77v2m0 9v2m0 30v1m0 6v2m0 22v1m1-70v2m1 42v1m0 8v2m1-57v2m0 52v1m0 10v1m1-50v2m0 17v1m0 22v2m1-50v3m0 22v1m0 19v3m0 11v2m1-78v1m1 56v4m1-57v2m1 44v1m0 10v1m2-31v1m0 30v2m1-22v1m0 30v3m1-44v2m0 16v1m0 30v1m1-18v1m1-3v2m1-55v2m0 37v2m1-27v2m1 40v2m1-25v1m0 36v2m1-81v1m0 28v2m1-11v2m0 40v2m1-57v2m0 23v2m1-14v2m0 12v2m0 7v2m1-6v3m1-31v1m0 10v1m0 27v1m0 5v1m1-71v1m1 6v2m0 23v2m0 17v2m0 12v2m1-42v1m0 19v1m1-43v3m1 14v1m0 66v2m1-38v2m0 15v2m2 1v2m0 13v1m0 2v3m1-39v1m0 19v2m0 20v1m2-34v3m0 8v2m0 7v2m1-33v2m0 29v2m1-67v1m0 13v1m0 7v1m0 13v1m0 13v1m0 22v2m0 3v1m2-18v1m1-86v2m1 72v1m2 8v2m1-61v1m0 14v2m0 45v2m0 9v2m1-11v1m0 7v1m1-44v2m0 3v2m1-44v2m1 29v2m0 47v1m1-75v2m1 15v2m0 52v1m1-91v2m0 19v1m0 49v1m0 14v2m0 2v3m1-91v2m0 96v2m2-94v2m0 14v1m0 15v1m0 24v1m1-48v1m0 63v3m1-70v1m0 27v1m0 50v2m1-50v1m0 32v1m1-47v2m0 48v3m0 7v4m1-40v1m0 39v2m1-69v2m0 8v1m0 8v1m0 13v2m0 14v1m0 8v3m1-58v2m0 6v3m0 30v3m0 9v2m1-66v2m0 6v2m0 33v1m0 6v2m0 17v2m1-71v2m0 19v1m0 10v3m0 12v3m0 8v2m0 3v1m0 2v2m1-8v1m1-34v1m0 8v2m0 3v2m0 4v3m0 21v1m1-89v2m0 6v2m0 15v2m0 18v2m0 19v3m0 20v2m1-50v3m0 8v1m0 7v1m2-31v1m0 18v1m0 8v2m0 1v2m0 4v2m0 14v2m0 9v1m1-89v2m0 6v2m1 0v1m0 28v4m0 36v1m0 8v1m1-21v1m1-25v2m1 4v2m0 5v1m1 21v1m1-55v2m0 16v1m1-30v2m0 52v1m0 2v1m0 7v1m1-53v5m0 26v2m0 12v2m0 6v2m1-28v3m0 18v2m4-8v2m0 15v2m0 1v2m1-52v2m0 33v1m0 8v3m1-57v1m0 5v1m0 47v2m1-75v1m1 50v2m1-27v2m1-6v1m0 44v2m0 6v1m0 2v1m1-26v3m1-42v1m0 5v3m1-8v2m0 5v1m0 3v2m0 22v1m0 19v2m1-43v2m0 33v3m0 8v4m1-68v3m0 3v2m0 6v1m0 2v1m0 4v1m0 22v2m0 17v1m1-57v3m0 1v2m0 31v3m0 2v1m0 13v1m1-57v1m0 3v3m0 28v4m0 11v1m0 2v3m1-58v2m0 1v2m0 3v1m0 44v2m1-63v2m0 51v2m1-42v1m0 33v2m0 6v1m0 4v1m1-76v1m0 19v3m0 9v2m0 41v3m1-53v1m0 41v1m1-58v2m0 9v2m0 14v2m0 23v2m0 14v1m1-89v2m0 34v2m0 36v6m0 11v1m1-51v3m0 31v3m0 11v2m1-13v2m0 1v4m0 1v3m1-58v2m0 2v1m0 34v2m0 14v5m0 1v2m1-58v2m0 43v2m0 2v3m1-57v2m0 3v2m0 34v3m0 3v3m0 8v2m1-83v2m0 9v1m0 55v2m0 4v2m0 6v3m0 2v1m1-50v2m0 25v2m0 4v2m0 14v1m1-87v2m0 25v3m0 12v2m0 17v3m0 2v1m1-44v2m0 5v1m0 31v2m0 11v3m1-56v1m0 2v5m0 4v2m0 9v2m0 8v1m0 17v2m0 6v2m1-89v1m0 36v2m0 25v1m0 2v1m0 8v3m0 4v1m0 6v2m1-69v2m0 6v3m0 24v3m0 14v3m0 6v2m1-22v3m1-31v3m0 4v4m0 36v1m1-50v2m0 23v3m0 10v1m0 8v2m1-43v2m0 1v2m0 2v1m0 8v2m1-13v3m0 3v2m0 5v1m0 3v2m0 17v2m0 1v2m0 4v2m1-59v4m0 11v2m0 8v3m0 12v2m0 1v2m0 8v3m1-36v1m0 2v2m0 23v2m1-49v2m0 28v1m0 7v1m0 17v3m1-50v2m0 25v2m0 11v1m1-41v2m0 6v2m0 1v2m0 2v3m0 9v2m0 11v3m1-44v1m0 8v2m0 6v2m0 6v1m0 4v7m0 7v1m0 2v4m1-46v1m0 2v3m0 26v2m0 3v3m0 3v2m1-47v2m0 4v2m0 3v3m0 6v3m0 4v1m0 3v2m0 5v1m1-47v2m0 23v2m0 9v2m0 12v2m0 3v1m1-12v2m0 9v1m1-59v2m0 15v2m0 9v3m0 5v2m0 7v2m0 5v1m1-26v1m0 2v1m0 3v2m1-19v2m0 1v4m0 1v2m0 4v2m0 6v2m0 9v3m1-79v1m0 3v2m0 42v3m0 2v1m0 10v1m0 16v1m1-32v3m0 11v1m1-11v2m1-13v2m0 8v1m0 3v2m0 3v3m0 16v1m1-57v1m0 24v1m0 19v1m1-15v3m1-20v1m0 8v2m0 4v3m0 18v3m1-58v1m0 49v1m0 2v3m0 2v1m0 3v2m1-44v2m0 14v1m1-37v5m0 28v1m0 11v2m1-39v1m1 6v2m0 5v1m0 3v5m0 2v1m1-47v2m0 9v2m0 3v3m0 16v1m0 16v1m0 4v3m1-47v1m0 8v2m0 25v1m1-39v5m0 2v1m0 3v3m0 41v2m1-52v2m0 3v3m0 15v2m1 3v2m0 22v1m1-47v2m0 25v1m0 8v5m1-61v1m0 46v3m0 19v1m1-50v2m0 4v2m0 39v2m1-35v2m0 33v3m0 3v1m1-62v2m0 1v2m0 9v2m0 34v2m0 4v2m0 3v1m1-43v1m0 16v1m0 16v2m1-32v2m0 28v2m0 1v2m1-61v1m1 21v3m0 36v3m1 0v1m1-10v1m0 2v1m0 2v3m1-50v1m0 15v1m0 11v2m0 7v2m0 6v2m1-41v2m0 29v2m1-13v2m0 6v2m2-24v2m1-59v1m0 11v2m0 45v3m1 20v2m1-42v1m0 18v1m0 2v1m0 30v1m2-76v1m0 35v1m0 4v1m0 17v3m1-50v2m0 20v2m0 3v2m1-8v1m1 3v2m0 2v1m0 34v2m1-53v1m0 8v2m0 5v1m1-37v1m0 24v1m0 3v2m1 0v3m1-16v2m0 1v2m0 13v3m1-33v1m0 13v1m0 36v2m1-41v2m0 16v3m1-8v1m0 33v2m1-46v4m0 6v1m1-11v2m0 13v3m0 29v2m1-3v3m1-31v1m0 19v2m0 9v1m1-85v3m0 29v2m1-5v2m0 9v2m0 14v1m1-4v1m1-22v2m0 31v2m0 12v2m1-75v1m0 77v1m1-48v2m0 3v1m0 16v3m1-55v2m0 33v3m1-44v2m0 6v1m0 71v3m1-63v2m0 22v1m1-17v3m1-32v1m0 25v2m0 6v3m0 6v2m0 39v1m1-48v2m0 7v2m0 22v1m0 4v3m0 1v2m2-81v1m0 20v2m0 5v1m0 44v3m1-39v3m0 35v1m0 2v1m0 2v3m1-66v2m0 61v1m1-79v1m0 5v1m0 24v1m0 38v2m0 3v1m1-9v3m0 6v2m0 3v1m1-78v2m0 36v1m1-40v1m0 53v2m0 22v1m1-20v2m0 3v1m0 11v3m1-28v2m0 22v1m1-9v2m0 7v2m1-56v1m0 2v1m0 19v2m0 15v2m1-53v1m0 2v1m0 14v2m0 5v1m0 3v2m0 9v2m1-24v2m0 11v2m0 26v2m1-78v1m0 27v1m0 17v4m1-35v3m0 16v1m0 2v2m0 12v3m0 19v3m1-42v3m0 11v3m0 6v2m1-56v4m0 39v5m1 24v1m1-62v1m0 19v1m0 11v2m0 9v2m0 25v1m1-67v3m0 18v1m0 3v2m0 12v2m1 14v2m1-52v3m0 13v1m0 14v3m0 2v1m0 4v3m1-71v2m1 16v1m0 13v1m0 11v2m1-41v2m0 11v1m0 2v1m0 22v2m0 14v1m1-4v1m1-61v2m0 20v2m0 29v2m1-5v2m1-64v1m0 36v3m0 25v2m0 5v1m1-58v2m0 59v2m0 16v1m1-53v2m0 21v2m0 2v1m0 22v2m0 4v2m1-58v2m0 29v2m0 28v1m1-90v1m0 66v2m0 18v2m1-64v1m0 2v2m1 20v1m1 7v1m1-3v3m0 17v2m1-28v1m1 32v1m1-56v2m0 1v2m0 53v1m1-86v2m0 36v1m0 33v2m0 11v1m0 3v2m1-28v3m0 9v2m1-59v1m0 44v1m0 7v1m1-34v1m1-26v1m1 46v3m0 20v2m1-61v1m1-4v1m0 2v1m0 22v2m2-19v2m0 9v2m0 3v1m2-39v2m0 58v1m0 3v2m0 1v2m0 3v2m0 6v1m1-65v1m0 5v2m0 14v1m0 22v2m1-61v1m0 49v3m1-49v2m1 22v1m0 13v2m0 29v2m1-35v5m0 31v2m1-83v2m0 3v1m0 5v2m0 50v1m0 14v3m1-48v1m0 22v2m0 5v1m0 17v2m1-47v2m0 39v1m1-53v2m0 32v2m0 6v2m1-58v2m0 11v1m0 16v1m0 2v1m0 4v1m1 13v1m0 17v2m1-25v1m0 7v1m1-33v2m0 6v2m1-39v1m0 2v1m0 40v1m1-42v1m1-10v1m0 45v2m0 2v1m0 16v1m1-53v2m0 34v2m0 4v2m1-33v2m0 12v2m0 8v3m1-44v1m0 21v1m0 3v2m1-33v2m1-6v1m0 11v2m0 1v3m1-15v1m0 38v1m1 5v2m0 7v2m1-42v3m0 9v2m0 17v2m0 34v1m1-35v1m1-23v1m0 6v2m0 16v1m0 2v1m0 8v2m0 9v2m1-44v1m1-42v2m0 42v2m0 28v1m1-51v1m0 49v1m1-64v2m0 23v2m0 4v4m1-14v1m0 8v1m0 18v1m1-8v2m0 14v2m1-43v2m0 11v1m0 4v3m0 4v2m0 3v2m0 12v2m1-42v3m0 29v2m1-130v2m0 83v1m0 30v1m1-34v2m0 20v1m0 15v1m0 2v1m0 5v3m0 17v2m3-14v1m1-62v1m0 3v4m0 7v4m0 3v1m0 11v2m0 1v2m0 3v2m0 3v1m0 8v2m0 20v1m1-50v2m0 6v2m0 37v2m1-80v2m0 25v3m0 16v1m0 27v1m1-51v3m0 4v2m0 42v2m1-83v2m0 31v1m0 13v1m1-4v1m0 17v2m1-12v1m1-41v2m0 16v1m0 2v3m0 22v1m0 2v1m1-60v1m0 56v2m1-14v1m0 10v1m3-51v1m0 18v1m0 16v1m0 10v1m0 6v2m0 23v2m1-67v1m0 5v2m0 56v1m1-42v2m0 11v3m1-42v1m0 16v1m0 10v1m0 5v3m1-39v2m0 18v2m0 5v3m0 15v4m0 6v3m1-52v2m0 23v2m0 11v1m1-43v1m1-17v3m0 46v1m0 6v2m0 3v2m1-58v1m0 10v1m0 17v2m0 3v2m1-32v4m0 46v2m0 23v2m1-67v1m0 16v2m0 14v1m0 3v2m0 1v5m1-31v3m0 2v1m0 10v1m1 2v1m0 2v3m0 1v2m1-62v1m0 6v2m0 5v3m0 23v2m0 34v2m1-72v1m0 57v3m1-41v2m0 11v1m1-20v1m0 14v4m1 1v2m0 4v4m1 17v1m1-39v2m0 19v1m1-33v2m1 22v1m0 38v1m1-78v2m0 47v1m1 3v2m0 16v1m1-48v1m0 10v1m0 3v2m0 20v3m0 3v2m1-75v2m0 6v3m1 34v2m0 30v1m0 3v2m0 1v2m1-81v1m0 58v2m0 18v3m1-51v1m0 2v2m0 4v2m0 11v1m0 8v2m1-33v3m0 17v2m1-53v1m0 61v2m0 15v2m1-31v1m1-37v1m0 8v2m0 34v2m1-41v2m0 15v2m1 4v2m0 9v2m1-36v2m0 34v1m0 2v2m1-50v1m0 5v1m0 8v2m0 14v1m0 4v1m1 3v2m3-5v2m0 3v1m1-51v1m1 18v1m0 5v1m0 10v1m1-17v2m0 40v2m1-44v2m0 4v2m0 19v1m1-23v1m0 21v1m0 3v3m1-7v1m0 13v1m1-65v1m0 3v2m0 37v2m0 2v1m0 2v1m0 22v2m1-77v3m0 42v2m0 5v1m1-50v2m0 8v1m0 10v1m0 5v1m0 10v1m0 14v2m0 23v2m1-72v2m0 14v1m0 11v2m0 3v1m0 29v1m1-34v1m1 11v2m1-50v1m0 5v3m0 14v2m0 19v1m0 5v1m1-51v1m0 24v1m0 19v2m1-60v2m0 44v1m0 39v2m1-74v2m0 11v1m0 30v2m0 1v2m0 14v1m0 8v3m2-76v1m0 5v2m0 7v2m0 23v4m0 18v5m2-63v2m0 5v1m1-3v2m0 31v2m0 23v2m0 3v1m1-59v1m0 54v1m0 5v1m1-82v1m0 30v1m1-36v2m0 23v2m0 2v1m0 5v1m1 50v2m1 0v1m1-12v2m2-57v2m1 0v1m0 43v1m1-9v1m1-54v1m0 3v2m0 48v2m2-31v1m0 6v2m0 41v1m1 3v2m1-22v2m1-35v2m0 33v1m1-19v2m0 9v2m0 1v2m2-34v1m0 27v1m0 21v1m1-56v3m0 5v1m0 8v2m0 37v2m1-58v2m0 15v2m0 8v1m0 13v1m1-34v1m0 2v3m0 20v2m2-56v1m1 31v2m0 22v1m1-25v2m0 5v1m1-22v5m1 2v1m0 16v1m1-11v2m0 16v1m1-3v3m1-8v2m1 8v1m1-62v1m0 32v1m0 22v3m0 11v2m0 3v1m1-36v2m0 17v2m0 4v4m0 7v4m2 1v2m1-21v2m1-59v1m0 9v2m0 8v1m0 8v3m0 16v2m0 21v2m0 6v2m2-58v2m0 17v1m0 30v2m0 3v1m0 3v2m1-69v2m0 17v3m0 11v2m1-35v2m0 1v2m0 11v3m0 28v2m1-39v1m0 20v2m0 6v2m1 9v2m0 4v2m1-56v1m0 16v1m0 33v2m0 5v1m1-73v1m0 24v1m0 13v1m0 3v4m0 4v2m0 9v2m0 9v2m1-86v1m0 19v2m0 18v2m0 19v1m1-47v2m0 16v1m0 20v2m0 12v2m1-2v4m0 18v2m1-69v2m0 20v2m0 37v2m1-72v1m0 44v2m1 4v2m1 19v3m1-24v5m0 5v1m1-11v2m0 6v2m2-57v2m0 13v1m0 39v3m1-34v1m1-12v2m0 10v2m1-23v1m0 2v1m0 10v1m0 17v2m0 17v3m1-36v2m0 41v1m1-76v1m0 28v2m0 28v1m1-26v1m1-3v2m0 23v2m1-64v1m0 7v1m0 2v1m2-4v1m1-1v1m1 75v2m2-28v1m0 28v3m1-87v2m0 4v2m0 62v2m1-85v2m0 33v3m1 0v2m0 37v2m1-35v2m3-56v1m0 13v1m0 61v2m1-60v2m0 14v1m2 7v1m1-6v2m0 9v3m1-11v2m0 34v2m2-68v2m0 28v2m1 0v3m0 3v2m0 57v2m1-77v2m0 44v1m2-73v1m0 25v2m0 62v2m0 3v2m0 3v1m1-93v1m0 30v3m0 61v1m1-10v1m1-67v1m0 8v2m0 37v3m1-26v1m0 36v2m0 3v2m0 1v2m0 3v1m1-64v2m0 42v2m0 6v2m0 1v2m2-86v1m0 82v3m0 6v1m2-12v5m2-10v3m1-42v2m1 40v4m1-82v2m1 86v3m1-59v1m0 47v2m0 1v2m2-64v1m0 60v1m1-58v2m1-30v2m0 18v2m0 19v1m1-25v2m0 9v2m0 28v2m1-57v2m0 50v1m0 27v2m0 6v1m1-59v2m2-24v2m0 12v2m0 18v2m0 45v2m1-70v1m0 5v1m0 4v1m0 39v2m0 11v1m0 2v1m1-84v3m0 20v2m1 5v1m0 11v2m0 14v1m0 14v4m1-80v1m1 5v3m0 11v2m0 4v2m0 52v3m1-39v1m1-36v2m1 48v2m0 19v1m0 2v1m0 2v1m1-32v1m1-17v1m0 8v3m0 18v1m1-69v2m0 39v2m0 4v2m0 5v1m0 3v2m0 3v3m1-28v1m0 4v1m0 3v2m0 30v1m1-56v1m0 16v2m0 40v2m1-36v1m0 2v2m0 23v2m0 10v2m1-103v1m0 65v1m0 6v2m0 6v2m0 1v2m0 1v2m0 9v3m1-40v3m0 6v2m0 19v1m1-33v2m1 5v1m0 9v5m0 5v1m0 2v2m1-60v2m0 12v2m0 23v2m1-8v2m0 29v2m0 4v2m1-50v2m0 37v2m1-163v2m0 154v2m1-48v1m0 20v2m0 2v1m0 19v1m0 8v2m1-10v2m1-58v2m0 11v3m0 29v2m0 9v2m0 2v1m1-14v2m1 7v4m0 6v1m1-42v2m0 1v2m0 12v2m0 17v2m1-36v1m0 24v1m0 8v3m3-54v1m0 17v2m1-24v2m0 55v1m1-44v2m0 13v1m0 6v3m0 8v2m0 3v5m1-58v1m0 10v1m0 13v1m0 2v2m0 4v2m1 19v1m0 3v2m1-50v1m0 13v1m0 27v2m0 9v1m1-34v2m0 1v2m0 20v3m1-47v2m0 14v2m0 31v1m1-59v2m0 9v1m0 21v1m1-72v2m0 42v2m0 22v1m0 14v2m0 5v1m0 3v2m1-61v3m0 5v3m0 17v2m0 9v1m0 21v1m1-32v1m1-23v3m0 12v5m2-48v1m0 13v1m1 3v2m0 8v1m0 44v3m1-58v2m0 20v2m0 14v3m0 17v3m1-20v1m1-65v1m0 35v3m0 6v2m0 9v2m0 18v2m1-20v1m1-61v2m0 44v1m0 14v3m1-45v2m0 45v1m1-15v3m1-42v1m0 32v1m1-26v1m2-3v5m0 14v1m0 19v2m1-49v2m0 12v2m1-14v3m0 48v2m2-36v3m0 28v2m0 8v1m1-53v2m0 20v3m1-23v1m0 39v2m1 14v1m1-53v2m0 39v1m0 4v3m0 15v2m1-66v2m0 1v2m0 22v1m0 16v2m1-54v2m0 17v2m0 9v2m0 40v2m1-56v1m0 5v1m0 27v2m0 1v2m1-74v2m0 26v2m0 2v1m0 19v1m0 19v2m1-55v2m0 3v1m0 42v4m1-32v2m0 6v2m0 14v1m0 7v1m1-64v2m0 70v2m1-68v2m0 44v3m0 28v1m1-60v1m0 6v2m0 6v2m0 31v2m0 4v3m1-43v1m0 30v1m1-46v1m0 11v5m0 6v2m1-41v1m0 30v2m0 33v1m1-17v1m0 11v2m1-36v2m0 4v2m1-31v1m0 6v4m0 9v1m0 2v2m0 6v1m0 21v1m1-61v2m0 6v2m0 39v1m0 2v1m0 7v1m0 5v2m0 3v3m1-78v1m0 33v2m0 26v2m0 11v1m0 2v1m1-26v1m0 11v2m1-45v1m0 5v1m0 11v2m0 6v2m0 15v2m0 9v2m1-67v1m0 5v1m0 18v1m0 8v2m0 17v1m1-67v2m1 26v2m0 4v4m0 25v1m1-44v2m0 3v2m0 20v3m1-44v2m0 16v1m0 8v1m0 10v1m0 10v3m1-74v2m0 45v3m1-14v2m0 25v6m0 3v2m1-63v2m0 34v2m1 12v2m0 8v1m0 19v2m2-47v1m0 5v2m0 3v1m0 8v2m0 6v1m0 4v1m0 2v1m0 5v2m1-82v2m0 11v3m0 11v1m0 11v2m0 22v3m0 8v1m0 2v1m1-45v2m0 9v3m0 3v2m0 5v1m1-1v1m0 14v2m0 6v2m0 3v1m1-61v2m0 42v2m0 4v2m1-14v1m1-18v1m0 2v1m0 3v2m1 19v1m1-51v1m0 8v2m0 3v1m0 2v1m0 5v2m0 12v2m1-52v2m0 23v2m0 1v2m0 11v1m0 7v1m0 6v2m0 5v1m1-58v2m1-20v1m0 24v1m0 3v2m0 16v1m0 8v2m1-33v1m1-22v2m0 17v2m0 20v2m0 1v2m0 33v1m1-66v2m0 25v2m0 11v1m0 25v2m1-57v2m0 6v3m0 5v2m0 3v3m0 8v1m0 10v1m1-37v1m0 3v2m0 19v1m1 25v2m1-88v2m0 9v2m0 25v1m0 10v1m0 16v3m1-17v1m0 38v1m1-84v2m0 61v3m1-44v2m0 14v1m0 19v1m0 11v2m1 6v2m1-75v1m0 2v1m0 13v2m0 4v2m0 6v2m0 6v3m0 6v2m0 3v1m0 2v2m0 1v3m0 2v1m1-46v1m0 33v1m0 8v5m1-56v1m1-25v2m1 33v1m0 21v1m0 24v1m1-30v2m0 27v1m1-41v2m0 9v4m0 7v2m0 3v2m1-39v1m0 6v2m0 9v2m0 1v2m0 5v1m0 11v3m1-40v1m0 3v2m1-13v2m0 11v1m0 21v1m0 7v1m0 10v1m0 2v1m3-75v2m0 20v3m0 16v1m0 18v3m0 3v3m0 3v2m1-36v1m0 27v1m1-23v2m0 31v1m1-64v2m0 1v2m0 41v1m1-61v2m0 26v2m0 9v2m0 25v1m1-57v1m0 17v2m0 1v2m0 3v2m0 8v1m0 5v3m0 1v2m0 3v2m1-25v1m0 7v1m0 11v2m0 6v1m1-48v2m0 9v1m0 15v3m0 25v1m1-40v1m0 3v2m0 15v4m1-41v2m0 3v3m0 11v1m0 11v2m1 1v2m0 3v2m1-69v1m0 18v1m0 14v3m0 41v2m1-57v2m0 36v1m1-64v2m0 12v2m0 6v2m0 9v2m0 15v2m0 12v2m1-50v1m0 10v1m0 21v3m0 1v2m1-52v2m0 31v2m0 34v2m1-50v1m0 30v2m1-61v1m0 42v2m0 34v2m1-64v1m0 27v1m1-40v1m0 89v2m1-97v2m0 58v1m1-37v1m0 8v2m0 6v1m0 5v3m0 8v2m0 20v1m1-93v1m0 14v2m0 23v2m0 9v2m0 53v1m1-71v1m0 3v2m1-8v2m0 1v3m0 14v2m0 1v2m1-3v3m0 6v2m1-35v2m0 14v2m0 6v1m0 38v3m1-84v1m0 66v3m0 20v3m1-95v2m0 20v2m0 1v2m0 4v4m1-15v2m0 16v3m0 6v2m0 1v2m0 15v2m0 3v2m0 18v2m1-99v2m0 22v1m0 22v2m0 5v3m1-7v2m0 5v3m0 3v2m1-16v5m2-13v2m0 3v3m1-42v3m0 34v2m0 4v4m0 3v1m1-48v1m0 39v4m0 7v2m0 31v2m1-81v1m0 19v1m0 2v2m0 42v1m0 7v1m0 8v1m1-57v1m0 6v2m0 39v2m1-99v2m0 4v2m0 14v2m0 9v2m0 43v2m0 17v3m1-94v2m0 20v2m0 20v2m0 26v2m0 8v1m1-81v2m0 11v1m0 5v1m0 11v2m0 9v2m0 3v1m1-10v1m0 52v1m0 6v2m1-84v1m0 10v1m0 8v2m0 31v1m0 22v3m2-84v2m0 4v2m0 26v2m0 5v1m0 42v2m1-53v1m0 5v2m0 39v1m0 3v2m1-69v2m0 15v2m0 5v1m2-23v1m0 13v1m0 39v4m0 3v1m0 5v3m1-84v1m0 14v2m0 19v1m0 13v1m1-58v4m0 37v2m0 42v3m1-83v2m0 4v2m1 25v3m0 31v5m0 2v1m0 2v4m1-86v2m0 3v2m0 17v3m1-8v2m0 3v1m0 55v3m0 2v1m1-15v3m0 6v3m1-67v2m0 57v2m0 11v1m1-90v1m0 8v2m0 3v1m0 54v1m0 3v2m1 0v1m0 5v2m0 6v1m1-95v2m0 79v2m1-84v1m0 19v1m0 52v2m0 9v3m0 3v2m1-2v3m1-93v1m0 67v3m0 15v1m0 2v3m0 1v2m1-94v2m0 37v2m0 14v1m1-53v2m0 20v2m0 45v2m0 3v3m0 8v3m1-85v2m0 70v2m0 8v1m1-51v3m0 12v2m0 6v2m0 25v3m1-61v5m0 12v2m0 6v1m0 14v4m0 9v3m1-73v4m0 36v3m0 14v4m0 18v2m1-56v1m1-58v2m0 19v1m0 16v1m1 52v5m1-74v2m0 23v2m0 12v2m0 36v1"/>
<path stroke="#ff9900" d="M106 613v3m0 24v1m3-51v1m1-14v2m1 6v2m1 56v1m4-57v1m0 34v2m4-48v1m0 39v2m0 29v2m2-50v2m1 43v2m2-13v2m1-9v1m3-17v2m0 42v1m1-34v1m0 5v2m4-14v1m2 35v3m1-27v2m1-46v2m0 78v2m2-46v2m1-42v1m1 3v2m0 28v2m3-5v2m2-24v2m1-14v1m0 28v2m2 20v2m1 0v1m1-22v2m0 25v2m2-27v2m1-15v2m0 19v1m1-43v1m0 38v1m0 47v2m1-80v2m1 48v2m0 28v1m1-56v2m0 6v1m1 7v3m2-19v2m0 1v2m0 18v4m1-54v2m0 27v1m0 6v2m0 3v2m0 7v2m1-72v2m0 48v2m1-11v1m0 17v2m0 25v3m3 19v1m1-64v2m0 2v1m1 8v1m2-39v2m2 87v2m1-28v1m0 24v1m1-28v2m0 25v1m1-25v2m1-30v2m0 25v1m1-42v2m3 20v2m1-2v2m2-24v2m0 1v2m2-16v2m1-13v2m2 23v2m1-14v1m1 52v2m0 20v1m1-73v2m1 7v2m1 33v1m1 3v2m0 5v1m1-17v2m1-5v2m0 34v1m1-98v2m0 67v1m2-23v1m2 30v2m2-78v1m0 24v1m1-23v1m2 13v1m0 14v2m0 33v1m0 2v1m0 7v1m4-1v3m1-11v1m3-45v2m0 34v2m0 7v2m1 17v2m1-11v1m2-26v1m1-11v2m0 22v1m0 5v2m3-39v1m0 56v2m1-72v2m3-7v2m1-28v1m0 29v1m0 56v2m1-75v2m0 3v1m0 47v2m1-5v2m2-52v2m0 31v1m0 35v1m1-1v1m1 10v1m1-19v2m2-58v2m1 29v2m1-39v2m0 59v1m2-26v1m0 18v1m5-23v1m1 2v1m0 18v1m1-31v2m0 39v1m2-75v2m0 17v1m0 54v1m1-69v2m1 16v1m0 45v2m1-42v1m0 10v1m4-29v1m0 33v2m1-5v1m4-1v3m0 45v3m1-56v2m0 15v2m1 25v2m4-41v1m0 4v1m0 30v1m1-57v1m2 25v2m0 1v2m0 37v2m1-41v2m2 22v1m2-40v3m0 14v1m0 29v1m0 6v3m1-53v2m0 20v2m1-25v1m1 36v2m1-77v2m0 58v1m1-31v2m2 18v2m1-19v3m1 22v2m2-60v2m0 17v2m0 51v2m0 9v2m1-58v1m1-4v1m0 10v1m1-22v2m0 8v1m0 14v2m0 26v2m1-69v2m1 22v1m1 7v1m0 49v1m1-23v1m1-36v2m1 12v3m0 18v3m1-50v1m0 38v1m0 5v2m1-10v2m1-27v2m0 11v1m1-26v1m0 33v2m0 3v1m1 24v5m0 7v2m1-91v2m1 89v1m1-50v2m0 8v1m1-25v2m2-36v2m1 61v1m1 33v1m1-73v2m0 65v2m3-69v2m1 11v1m0 11v2m1-16v2m2 54v2m1-5v2m1-35v2m3-39v1m0 8v2m0 12v2m0 53v1m1-73v3m1 64v2m1-53v1m0 3v2m0 31v2m1-44v2m0 1v2m0 26v3m0 24v1m1-43v1m0 28v2m2-5v2m0 6v2m1-77v2m0 73v2m0 7v2m2-59v1m1-1v1m0 44v5m2-30v1m2-21v1m0 47v2m1-52v2m0 59v3m1-23v1m1 10v1m0 9v2m1-69v2m0 42v2m0 6v1m1 5v2m0 3v1m1-17v2m0 6v2m1-18v2m0 6v3m0 13v1m1-34v2m0 31v1m1-79v3m1 39v1m1-4v1m1-9v1m0 44v2m1 0v1m2-54v1m0 14v2m0 5v1m1-3v3m1-14v2m1 25v1m1-33v2m0 42v2m2-32v2m0 12v2m1-12v1m0 17v2m1-25v3m2-2v2m0 14v2m1 20v1m2-23v2m1-8v1m1-72v2m0 67v3m1-39v2m1-13v2m0 33v1m0 10v1m1-8v2m4 22v1m0 13v1m3-90v1m1 30v2m0 53v1m1-61v2m0 45v2m2-45v3m1 56v1m3-31v3m1 3v5m3 19v1m2-6v2m1-38v2m0 25v1m1-1v1m1-12v1m1-28v2m1 14v2m0 23v2m4-43v2m2 8v1m2-40v1m0 24v1m2-14v2m1 3v1m2 11v2m0 14v2m1 6v1m3-56v2m2 72v1m0 9v2m1-72v3m2-9v1m2 16v2m3-7v2m0 14v2m2 42v1m1-50v2m1 39v2m0 3v1m2-62v3m1-11v1m2 33v2m0 34v2m1-58v2m0 20v1m1-48v2m0 67v1m0 8v2m1-7v2m0 9v2m1-58v2m0 43v2m1-78v3m0 47v1m1-17v2m1 1v2m1 9v2m0 14v1m1-42v2m0 5v3m0 22v1m1-8v2m1-64v1m0 44v2m1 23v3m1-44v2m0 30v1m0 10v1m1-39v2m1 11v1m0 11v2m0 6v2m1-43v2m0 3v2m0 3v1m0 41v1m1 11v2m1-42v1m0 8v2m0 9v3m1-56v2m1 21v2m0 2v1m0 3v2m3-36v1m0 21v1m0 3v2m0 25v2m1-57v2m0 50v1m1-23v2m0 29v2m0 26v2m1-55v2m0 47v1m1-53v2m0 54v2m6 0v1m1-34v2m0 32v2m1-64v2m0 46v2m0 3v2m6-44v1m4-20v2m1-13v2m1 51v2m2-55v2m0 15v2m0 41v1m1-1v1m0 16v1m1-22v2m3-19v2m0 9v2m1 29v2m1-3v1m2-62v2m0 29v2m3-8v2m1-10v2m1 25v1m1-51v1m0 36v3m1-14v2m0 5v1m1 33v1m1-75v4m0 39v1m1-51v1m1 41v3m1-34v1m2-6v1m0 27v2m3 40v2m1-30v2m1-7v2m0 20v2m1-67v1m0 35v1m3 5v1m2-21v1m0 17v2m1-50v1m0 29v1m0 3v2m1 4v4m1-38v2m0 23v2m0 9v2m0 3v1m1-23v1m3-65v1m0 49v1m0 38v1m0 2v2m2 1v3m0 6v2m1-30v2m0 3v3m2-15v1m1 36v2m1-43v2m1 0v3m1-14v2m2 25v1m0 17v2m2-56v1m0 39v2m1-39v1m1-23v1m1 79v1m1-50v2m1 28v1m1-32v1m0 36v2m1-32v2m0 12v2m1-36v2m0 34v2m0 1v2m2-41v2m0 23v3m0 8v2m0 3v1m1-9v1m1-26v1m1 15v1m1 19v1m2 11v2m4-53v1m1 66v2m3-52v2m2 53v1m1-12v1m2-50v2m0 30v1m2-12v1m1-23v1m0 13v1m0 49v1m2-39v2m0 8v1m1-29v1m0 2v1m0 19v2m1-36v1m0 2v1m0 33v2m2-49v2m0 15v2m1-6v1m0 33v3m1-36v2m2 1v2m0 6v2m0 15v2m0 2v1m1-37v1m0 36v2m0 1v2m1-56v1m0 27v1m1 0v2m0 17v2m1-4v2m3-22v2m1 53v1m1-64v2m0 19v1m1-22v2m0 20v2m0 4v2m1-58v2m0 79v2m1-56v1m1-4v1m0 19v1m2-29v1m5-12v1m1 18v1m1 2v3m0 19v1m1-6v3m4-17v1m1-9v2m1 11v3m0 12v2m2-19v2m0 48v2m2 6v1m2-25v2m0 20v2m1-27v3m1-23v1m0 33v2m1-61v1m2 11v2m0 11v1m1 49v1m1-81v2m0 37v2m2-25v1m0 21v3m4 1v2m1 8v1m2-15v1m0 21v1m0 6v2m2-44v2m0 15v2m0 33v3m1-34v1m2-3v2m0 21v2m2-56v1m1 17v2m0 16v1m1-36v2m0 8v3m1-17v3m0 29v2m1-48v1m1 44v1m0 30v2m1-88v3m3 77v1m1-15v1m1 8v2m2-41v2m0 1v2m2-19v2m0 20v1m1 29v3m0 11v1m3-48v1m0 27v3m1 5v1m1-48v1m0 11v2m0 25v1m1-65v1m0 19v2m0 11v1m1-47v2m0 36v5m2-24v2m4 6v1m1 15v1m3 25v3m1-23v1m1-25v2m1 56v2m1 1v2m1-61v1m0 11v4m0 6v1m2-22v2m1 6v2m0 62v2m1-64v1m1 10v1m1-18v1m0 10v1m0 47v2m0 10v2m1-52v2m1-6v1m1-6v2m0 45v2m1-93v2m0 25v1m0 72v2m1-49v2m2-20v1m0 67v2m2-95v1m0 3v2m0 77v1m1-86v2m0 8v1m0 34v2m2-39v2m1 35v2m1-41v2m1 75v2m1-71v2m0 25v1m4-14v2m1 15v2m1 41v1m1-92v2m0 95v1m5-4v1m1-3v2m0 1v2m1-64v1m2-18v1m1 24v1m1 49v3m1-81v1m0 31v2m2 14v2m4-32v2m1 34v2m0 15v2m1 6v2m2-83v2m0 84v1m4-40v1m0 7v1m1-4v1m0 2v1m1-51v1m1 69v2m0 1v2m1-68v2m0 5v1m0 60v1m1-26v1m0 28v2m2-59v1m0 20v2m0 20v2m0 1v2m0 5v1m0 2v1m1-64v3m0 4v3m0 4v2m0 6v2m0 37v2m0 1v2m2-31v1m0 24v1m0 3v2m2-41v2m1-36v1m0 7v1m0 16v1m0 2v2m3 39v3m2-36v1m0 32v1m0 5v1m1-50v2m1-45v1m0 8v2m0 32v2m1-31v1m1 44v2m1-19v1m0 16v2m1-11v1m2 27v1m1-21v1m2 19v1m2-76v1m0 11v2m1 39v2m1-2v2m1-46v2m1 0v1m2 46v1m1-47v2m3-13v2m0 52v1m0 11v2m2-60v2m1 62v2m1-8v2m3-69v1m1 21v1m1-9v1m0 8v2m1 5v1m0 13v1m0 20v4m1-71v3m0 38v3m1 19v1m1-12v3m0 3v2m2 4v2m0 23v2m1-39v1m0 16v2m0 4v2m1-63v2m0 16v1m0 25v3m1 22v2m0 7v2m1-97v2m0 40v2m0 44v1m0 2v3m2-80v2m1 39v1m0 30v3m1-70v1m0 10v1m0 50v4m1-22v1m1 30v1m1-25v2m0 11v3m1-62v1m1 39v2m0 14v1m1-82v1m0 41v1m0 16v2m0 3v3m0 17v2m1-49v2m0 4v2m0 3v2m0 1v3m0 13v1m1-31v2m0 3v1m0 25v2m0 14v2m1-25v3m0 22v1m2-14v2m0 7v2m1-63v2m0 9v2m0 5v3m0 37v2m1-13v3m1-12v2m0 1v2m2-3v1m0 9v2m1-14v3m1-9v4m1-21v1m0 16v1m0 3v2m0 22v1m1-43v1m0 13v1m0 5v2m1-5v1m2-37v1m0 41v2m1-27v2m1 47v1m1-25v2m1-35v2m1 14v1m0 10v1m1-51v1m1 58v2m2-56v1m0 49v4m1-23v1m1-25v2m0 48v2m0 5v1m1-9v1m1-9v2m0 21v2m2-30v2m1-47v2m0 25v1m1 34v2m2-50v2m1-25v1m0 20v2m0 42v2m1 8v1m1-73v1m0 22v2m0 36v1m3 2v1m1-17v2m1-2v2m0 3v1m1-12v1m1-28v2m0 25v1m0 10v1m0 18v1m1-48v3m0 12v2m1 30v1m2-36v2m0 15v2m0 8v1m1-31v2m0 9v2m0 37v2m1-39v1m0 20v2m2-41v2m0 16v1m2 6v2m1-42v1m0 19v2m3-36v1m0 24v3m0 3v2m0 6v1m1 14v2m3-38v2m0 13v3m1 0v1m1-15v1m1-58v2m0 41v1m0 31v2m1-55v3m3 63v1m1-43v1m0 5v1m0 22v2m2-30v3m0 27v1m2-4v1m1 3v4m1-21v2m0 58v1m1-39v2m0 39v1m1-62v1m1-4v1m1 63v1m1-62v3m1 2v1m1 52v1m1-81v2m1 29v3m0 46v1m1-59v1m0 58v2m0 1v2m1-94v2m1 86v1m1-73v1m0 77v1m1-79v1m0 60v1m1-36v2m2 45v2m1-75v1m0 75v2m2-9v1m0 2v9m1-91v2m0 69v1m0 7v1m1-6v1m0 2v2m0 3v1m0 2v3m1-25v1m1 18v1m1-78v2m0 78v1m2-90v1m0 13v1m0 13v3m0 22v1m1-56v2m0 92v1m1-40v1m0 30v2m1-89v1m1-5v2m2 9v2m0 20v3m0 43v1m1-5v2m1-39v2m0 12v2"/>
<path stroke="#ff7300" d="M109 610v2m3-8v1m0 21v1m1 22v2m1-2v2m4-33v1m0 30v2m3-58v1m1-3v2m0 56v2m4-49v2m0 20v2m2-7v2m0 28v2m1-2v2m1-41v2m0 14v1m1 2v1m3-14v2m3-27v2m0 33v1m1-37v3m15-24v2m3 39v2m2-2v2m1 23v2m2-15v2m2 2v1m5 13v1m1 0v2m1-55v2m1-5v2m3 35v2m4-34v1m1 16v1m4 63v1m1-57v1m2 31v2m2-2v2m2-2v2m8-16v2m10 12v2m9 19v1m9-57v1m2-19v2m0 3v2m1 67v1m1-78v2m1 44v1m18-14v2m1 28v1m4-39v2m5 33v1m8-23v1m2 25v2m3-25v1m2 38v1m1-50v2m4 19v1m5-31v2m0 17v1m0 38v1m2-32v1m2-39v2m1-8v1m5-1v1m0 19v2m3 0v1m0 5v3m5-44v2m1-3v1m1 89v2m1-39v2m2-10v2m4-21v2m6-19v2m2 29v2m2-19v3m1 4v1m1 5v1m3-14v3m1 7v1m0 44v2m6-10v3m1-18v1m3 14v3m0 7v1m1-8v3m5-53v3m1 0v2m1-20v1m0 56v2m5-22v2m2 4v4m1 20v1m1-1v1m1-26v1m2 25v2m3-22v2m2-8v1m1 30v3m2-34v1m1 24v1m4-1v1m4-36v2m3 8v1m3-1v1m2-23v2m1 20v1m0 24v1m1-26v1m2-26v1m2 49v1m1-50v2m0 6v2m17 0v1m3-1v1m2-6v2m0 26v2m8-58v2m1-4v2m5-109v1m5 136v2m0 53v1m3-78v2m2-10v2m0 77v1m1-51v1m8-8v2m2-13v2m0 45v2m1-10v2m2-39v1m1 21v1m0 21v1m5-53v2m0 47v1m2-61v2m6 61v1m2-23v1m3-42v2m0 78v1m9-56v2m4 20v2m4 7v2m0 14v2m0 21v2m1-45v1m1-39v2m2 73v2m2-71v2m0 14v2m0 45v2m8-22v1m0 19v2m6-44v1m11 28v2m2-58v2m1 37v2m1-6v1m8-25v2m6 11v1m3 27v1m3-14v2m1-41v2m0 33v1m0 2v1m2 8v2m0 32v2m13-22v2m1-63v2m6 1v2m2 23v2m3 48v2m2-49v2m1 30v1m3-17v2m1-19v1m0 49v1m3-40v1m1-4v1m2-29v1m2 58v2m6-66v1m0 68v1m2-69v2m4 64v2m1-25v1m6-37v1m13 17v2m1-102v2m0 113v3m4-55v2m9 65v2m7-10v2m1-33v2m2 7v2m1-36v2m1 26v2m2 33v3m1-32v2m1-17v1m5-15v1m3 24v1m2-31v2m3 11v1m2 16v1m1-25v2m0 22v1m2 28v2m1-31v1m0 28v2m1 23v2m1-56v1m2 33v2m1-36v1m0 33v2m1-2v2m2-7v2m1-50v2m0 17v1m0 41v2m1-40v2m0 28v2m1 6v2m1-2v2m1-10v2m1-49v2m0 40v2m1 3v2m1-36v1m0 52v1m2-20v2m1-32v2m0 8v1m0 19v2m1 6v2m1-57v2m3 11v1m0 3v2m1-6v1m0 3v2m1-6v1m0 28v2m2-2v2m0 8v1m1-11v2m0 11v2m1-44v1m0 3v2m0 28v2m2-2v2m1 6v2m2-10v2m0 3v1m1-6v2m1-2v2m1-7v2m0 8v1m1-86v2m0 20v2m0 56v2m0 15v2m6-84v1m1-5v2m6 11v1m6 43v1m1-36v2m4-6v1m4 24v1m2 39v2m2-11v1m1-1v1m1-50v4m3 42v1m0 5v3m2-5v2m1-55v2m4 19v1m1 14v2m1-5v2m1-46v2m0 14v2m2 25v1m3 20v2m1-25v2m2-40v2m9 13v1m7 6v2m1-30v2m1 58v1m3-8v2m4-16v2m3-2v2m1-25v1m7 35v1m1-18v1m0 38v3m2-30v2m1 0v1m1-19v2m0 14v2m1-28v1m0 28v2m1-11v3m1 0v2m1-8v1m5-14v2m1 23v2m3-8v2m1 0v3m2-30v2m0 15v2m2-11v1m1 7v1m4 11v2m1 0v1m7-1v1m1-9v1m1-20v2m1 23v2m4-2v2m1-2v2m3-14v1m1-20v1m3-6v2m4-10v2m1 31v2m0 36v1m1-54v1m1-8v2m0 20v2m1-53v3m8 0v1m3 33v2m3 4v2m0 30v1m3-64v2m1 26v2m3 12v2m5-27v2m1-16v2m3 47v1m4-22v2m4-38v2m2 86v1m2-90v1m0 88v1m3-4v3m1 0v1m3-85v1m3 75v2m5-16v2"/>
<path stroke="#ff4c00" d="M105 649v2m6-2v2m12-5v1m0 2v2m3-13v2m1 4v2m29-38v2m0 2v1m10-5v2m4 31v2m0 25v1m1-48v1m1-37v2m1 53v1m6-29v1m1 5v1m1 41v2m3-49v2m0 45v2m3-2v2m1-50v3m5 9v2m0 34v2m5-2v2m4-2v2m3-90v2m0 86v2m4-2v2m4-2v2m0 3v1m2-64v2m1 61v1m22-14v2m28-41v2m3 7v2m11 17v2m8-53v1m6 53v2m1 12v2m15-42v1m2 7v1m3-17v2m1-4v2m4-2v2m12 3v2m3 17v1m7-37v1m0 35v1m4-1v1m1-51v1m1 74v1m1-26v1m1-1v1m0 24v1m1-26v1m2 5v2m3-8v1m1-1v1m1 10v1m5-12v1m1 7v1m6-9v1m1 24v1m1-53v2m1 25v1m2-1v1m2 24v1m2-26v1m0 24v1m1-1v1m0 11v2m1-39v1m0 24v1m5-50v2m18 17v2m25-11v1m2 47v2m5-58v2m2 10v2m6-39v2m4 29v2m3-2v2m3-10v2m16 50v2m7-2v2m1-63v2m3 59v2m3 10v2m8-39v2m0 17v1m1-15v1m0 19v2m2-65v2m2 30v1m0 27v1m1-26v1m0 38v1m2-71v1m2 17v2m3-9v1m18 20v2m1-77v2m17 70v2m5-14v1m28 21v1m5 17v2m1-56v1m2-15v1m0 3v2m1 20v2m11 51v2m6-75v1m1 44v2m22-13v3m6-14v2m19-22v3m1 6v2m3-5v2m2 56v2m7-60v2m4 40v2m5 8v1m2-1v1m1-11v2m0 3v2m1 3v1m1-1v1m1-11v2m1-27v2m1 28v2m2-7v2m0 3v2m0 3v1m1-1v1m0 2v2m1-5v1m0 2v2m1-44v1m0 28v2m0 8v1m2-6v2m1-7v2m1 3v2m2 3v1m2-6v2m1-2v2m0 17v1m1-15v1m1 2v2m1-15v2m1 8v1m1-11v2m2-2v2m2-2v2m2 8v1m1-6v2m0 3v1m9-11v2m3-2v2m1-2v2m7-2v2m0 6v2m5-5v2m2-7v2m21-14v2m1-22v1m0 14v2m13-38v2m3-3v1m6 44v2m3-19v1m9 4v1m0 16v1m3-6v2m1-24v2m1 23v2m1-11v5m6-4v2m7-23v1m1 0v2m2 29v2m1-45v1m0 11v2m5 9v2m4 18v2m2-16v2m0 31v2m9-24v2m13-22v1m4-25v2m3 27v1m4-9v1m6-6v2m0 1v2m10-42v1m1 17v2m0 22v1m14-31v2m4 76v3m1-78v2m3 76v2m1-19v2m12-64v1m4-28v2"/>
<path stroke="#ff2600" d="M120 649v2m61 17v1m15-9v2m8-2v2m4-2v2m18-2v2m7-7v2m45-5v2m2-14v1m10-9v1m12 16v2m7-36v1m14 53v2m8-33v2m8-8v1m4 18v1m16-20v1m5-1v1m5-11v2m0 39v2m13-8v1m6-6v2m14-42v1m8 9v2m33 42v2m24-17v1m3-36v2m0 31v2m5 9v2m5-2v2m8-2v2m2-2v2m1-54v2m4 50v2m2-2v2m1-2v2m18-63v2m2 62v2m10-30v2m5-21v2m7 29v2m17-3v1m13-31v2m9 12v2m7-36v1m0 8v2m1 14v1m6 18v1m25-17v2m9 11v1m0 24v1m45 6v2m12-14v1m2-1v1m3 2v2m9-40v2m6 23v2m1-50v2m9 46v2m1-56v1m5 53v2m16-52v2m1 48v2m3-39v2m13 56v1m5 0v2m23-6v1m8-26v1m17 10v1m31-12v1m9-47v2m0 39v2m38-21v2m15-21v2"/>
<path stroke="#ff0000" d="M120 605v2m15 42v2m33-25v1m13 10v1m2 22v2m19-60v2m15 9v2m30 48v2m11-50v1m6 53v2m9-9v1m10 2v1m1-54v1m3 58v1m23-375v2m2 339v2m6-55v2m7 28v1m3 38v1m19-39v2m3 22v1m19 14v2m1-30v2m5-105v2m4 71v2m20 25v2m6-99v2m6 115v2m28-58v2m50 7v2m0 28v2m0 3v1m0 27v2m5-41v1m1-23v2m43 61v1m5-33v2m1 14v1m6-21v1m5-34v1m11 50v2m30-41v2m16-24v2m4 64v2m14 14v1m2-39v2m20 40v2m27-11v2m4 4v2m13-22v1m1 10v1m13-11v2m9 9v2m2-13v2m15 2v1m13 2v1m18-1v1m1 5v2m33-11v1m19 19v1m2-42v2m2-20v1m4-28v2m20 48v2m8-2v2m8 4v2"/>
<path stroke="#d90000" d="M112 641v2m0 20v2m9-60v2m10 61v1m14-67v2m11 17v1m12 29v1m1-42v2m6 0v1m43 20v2m2 28v2m8-24v2m12-3v1m2-39v2m11 62v2m4-11v1m4-20v2m16-14v1m14 14v2m2 22v1m29-61v2m1 5v1m3 49v1m14-69v2m27 28v2m1 31v1m13 8v2m4-60v2m6 12v2m6 39v2m31-28v1m2-1v1m6 8v1m3-15v1m25 5v2m4-53v1m20 49v1m6-20v1m2-25v2m14 6v2m2 42v1m6 18v1m30-44v2m15-39v2m17 37v2m11-14v1m12 8v1m1 44v2m13-21v2m15-9v1m4 0v2m13-19v2m1 15v2m0 15v2m16-70v1m29 67v2m8-84v1m9 47v2m36 1v2m32-24v2m14 17v2m27-39v1m0 27v1m18 31v2m7-23v1m2-36v2m20-19v2m2 3v1m3 77v1"/>
<path stroke="#b30000" d="M133 654v1m5-26v1m1 21v1m80 5v1m72 13v1m2-17v2m42 8v1m16-9v1m87-9v2m7 1v2m24 6v2m7-74v2m4 81v1m7-50v2m41 30v1m1 11v2m83-19v2m54-54v2m94 6v2m39 0v1m66 14v2m14-6v1m5 53v2m5-78v1m15-7v1"/>
<path stroke="#8c0000" d="M122 563v2"/>
</g>
<rect x="104.6" y="52.9" width="808.9" height="627.25" fill="none" stroke="#000" stroke-width="1.3"/>
<path d="M910.50 680.15v-5.2M910.50 52.9v5.2M888.50 680.15v-2.8M888.50 52.9v2.8M865.50 680.15v-2.8M865.50 52.9v2.8M843.50 680.15v-2.8M843.50 52.9v2.8M820.50 680.15v-2.8M820.50 52.9v2.8M798.50 680.15v-2.8M798.50 52.9v2.8M775.50 680.15v-5.2M775.50 52.9v5.2M753.50 680.15v-2.8M753.50 52.9v2.8M730.50 680.15v-2.8M730.50 52.9v2.8M708.50 680.15v-2.8M708.50 52.9v2.8M685.50 680.15v-2.8M685.50 52.9v2.8M663.50 680.15v-2.8M663.50 52.9v2.8M640.50 680.15v-5.2M640.50 52.9v5.2M618.50 680.15v-2.8M618.50 52.9v2.8M595.50 680.15v-2.8M595.50 52.9v2.8M573.50 680.15v-2.8M573.50 52.9v2.8M550.50 680.15v-2.8M550.50 52.9v2.8M528.50 680.15v-2.8M528.50 52.9v2.8M505.50 680.15v-5.2M505.50 52.9v5.2M483.50 680.15v-2.8M483.50 52.9v2.8M460.50 680.15v-2.8M460.50 52.9v2.8M438.50 680.15v-2.8M438.50 52.9v2.8M415.50 680.15v-2.8M415.50 52.9v2.8M393.50 680.15v-2.8M393.50 52.9v2.8M370.50 680.15v-5.2M370.50 52.9v5.2M348.50 680.15v-2.8M348.50 52.9v2.8M325.50 680.15v-2.8M325.50 52.9v2.8M303.50 680.15v-2.8M303.50 52.9v2.8M280.50 680.15v-2.8M280.50 52.9v2.8M258.50 680.15v-2.8M258.50 52.9v2.8M235.50 680.15v-5.2M235.50 52.9v5.2M213.50 680.15v-2.8M213.50 52.9v2.8M190.50 680.15v-2.8M190.50 52.9v2.8M168.50 680.15v-2.8M168.50 52.9v2.8M145.50 680.15v-2.8M145.50 52.9v2.8M123.50 680.15v-2.8M123.50 52.9v2.8M104.6 653.50h3.5M913.5 653.50h-3.5M104.6 627.50h3.5M913.5 627.50h-3.5M104.6 601.50h3.5M913.5 601.50h-3.5M104.6 575.50h6.5M913.5 575.50h-6.5M104.6 549.50h3.5M913.5 549.50h-3.5M104.6 523.50h3.5M913.5 523.50h-3.5M104.6 497.50h3.5M913.5 497.50h-3.5M104.6 470.50h6.5M913.5 470.50h-6.5M104.6 444.50h3.5M913.5 444.50h-3.5M104.6 418.50h3.5M913.5 418.50h-3.5M104.6 392.50h3.5M913.5 392.50h-3.5M104.6 366.50h6.5M913.5 366.50h-6.5M104.6 340.50h3.5M913.5 340.50h-3.5M104.6 314.50h3.5M913.5 314.50h-3.5M104.6 288.50h3.5M913.5 288.50h-3.5M104.6 261.50h6.5M913.5 261.50h-6.5M104.6 235.50h3.5M913.5 235.50h-3.5M104.6 209.50h3.5M913.5 209.50h-3.5M104.6 183.50h3.5M913.5 183.50h-3.5M104.6 157.50h6.5M913.5 157.50h-6.5M104.6 131.50h3.5M913.5 131.50h-3.5M104.6 105.50h3.5M913.5 105.50h-3.5M104.6 79.50h3.5M913.5 79.50h-3.5" stroke="#000" stroke-width="1" fill="none"/>
<rect x="923" y="128" width="26" height="477" fill="url(#jet)"/>
<rect x="923.5" y="128.5" width="25" height="476" fill="none" stroke="#000" stroke-opacity="0.55" stroke-width="1"/>
<path d="M949 593.08h-1.5M949 581.15h-1.5M949 569.23h-1.5M949 557.30h-1.5M949 545.38h-1.5M949 533.45h-1.5M949 521.53h-1.5M949 509.60h-1.5M949 497.68h-1.5M949 485.75h-1.5M949 473.83h-1.5M949 461.90h-1.5M949 449.98h-1.5M949 438.05h-1.5M949 426.12h-1.5M949 414.20h-1.5M949 402.28h-1.5M949 390.35h-1.5M949 378.43h-1.5M949 366.50h-1.5M949 354.58h-1.5M949 342.65h-1.5M949 330.73h-1.5M949 318.80h-1.5M949 306.88h-1.5M949 294.95h-1.5M949 283.02h-1.5M949 271.10h-1.5M949 259.18h-1.5M949 247.25h-1.5M949 235.32h-1.5M949 223.40h-1.5M949 211.48h-1.5M949 199.55h-1.5M949 187.62h-1.5M949 175.70h-1.5M949 163.78h-1.5M949 151.85h-1.5M949 139.93h-1.5" stroke="#000" stroke-width="1" fill="none"/>
<text x="147.4" y="39.7" style="white-space:pre" xml:space="preserve">Linear De-Polarization Ratio LDRg   <tspan dx="0.2">11:01 </tspan><tspan dx="1.0">04.09.2022 - 14:00 04.09.2022 Muenchen</tspan></text>
<text x="464.3" y="726.7">Time UTC</text>
<text transform="translate(62,408.8) rotate(-90)">Height km</text>
<text transform="translate(1000,409.5) rotate(-90)">LDRg dB</text>
<text x="99.6" y="679.5" text-anchor="end">0</text><text x="99.6" y="581.6" text-anchor="end">2</text><text x="99.6" y="477.1" text-anchor="end">4</text><text x="99.6" y="372.5" text-anchor="end">6</text><text x="99.6" y="268.0" text-anchor="end">8</text><text x="99.6" y="163.5" text-anchor="end">10</text><text x="99.6" y="64.5" text-anchor="end">12</text>
<text x="910.5" y="704.7" text-anchor="middle">14:00</text><text x="775.5" y="704.7" text-anchor="middle">13:30</text><text x="640.5" y="704.7" text-anchor="middle">13:00</text><text x="505.5" y="704.7" text-anchor="middle">12:30</text><text x="370.5" y="704.7" text-anchor="middle">12:00</text><text x="235.5" y="704.7" text-anchor="middle">11:30</text>
<text x="953.5" y="194.2">0</text><text x="953.5" y="313.5">-10</text><text x="953.5" y="432.7">-20</text><text x="953.5" y="552.0">-30</text>
</svg>
</body></html>
